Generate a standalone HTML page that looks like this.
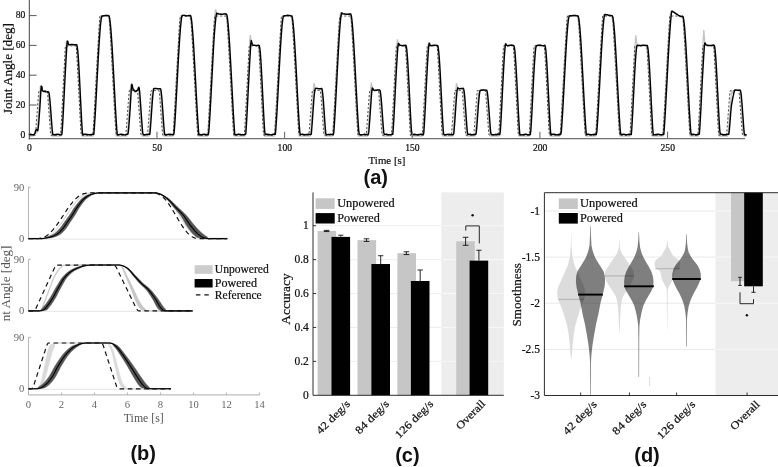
<!DOCTYPE html>
<html lang="en">
<head>
<meta charset="utf-8">
<title>Joint angle tracking: unpowered vs powered</title>
<style>
html,body{margin:0;padding:0;background:#fff;}
body{width:778px;height:467px;overflow:hidden;font-family:"Liberation Serif",serif;}
svg{display:block;will-change:transform;opacity:0.9999;}
svg text{white-space:pre;}
</style>
</head>
<body>
<svg width="778" height="467" viewBox="0 0 778 467">
<rect width="778" height="467" fill="#fff"/>
<g id="panel-a">
<path d="M29.3 135.99 L29.8 135.99 L30.3 135.99 L30.8 135.99 L31.3 135.99 L31.8 135.99 L32.3 135.98 L32.8 135.92 L33.3 135.71 L33.8 135.14 L34.3 134.02 L34.8 132.44 L35.3 129.86 L35.8 129.46 L36.3 131.53 L36.8 133.1 L37.3 128.26 L37.8 122.99 L38.3 116.62 L38.8 109.66 L39.3 101.93 L39.8 93.32 L40.3 86.64 L40.8 85.69 L41.3 88.85 L41.8 90.93 L42.3 91.5 L42.8 91.58 L43.3 91.59 L43.8 91.59 L44.3 91.59 L44.8 91.59 L45.3 91.59 L45.8 91.59 L46.3 91.59 L46.8 91.59 L47.3 91.59 L47.8 91.81 L48.3 94 L48.8 98.1 L49.3 103.61 L49.8 110.01 L50.3 116.83 L50.8 123.55 L51.3 129.71 L51.8 135.99 L52.3 135.99 L52.8 135.99 L53.3 135.99 L53.8 135.99 L54.3 135.99 L54.8 135.99 L55.3 135.99 L55.8 135.99 L56.3 135.99 L56.8 135.99 L57.3 135.99 L57.8 135.99 L58.3 135.99 L58.8 135.99 L59.3 135.99 L59.8 135.99 L60.3 135.99 L60.8 135.99 L61.3 132.53 L61.8 123.37 L62.3 114.31 L62.8 104.53 L63.3 94.39 L63.8 84.27 L64.3 74.51 L64.8 65.3 L65.3 56.39 L65.8 47.8 L66.3 41.74 L66.8 40.73 L67.3 42.94 L67.8 44.27 L68.3 44.61 L68.8 44.65 L69.3 44.65 L69.8 44.65 L70.3 44.65 L70.8 44.65 L71.3 44.65 L71.8 44.66 L72.3 44.66 L72.8 44.66 L73.3 44.66 L73.8 44.66 L74.3 44.66 L74.8 44.66 L75.3 44.66 L75.8 44.67 L76.3 46.31 L76.8 50.33 L77.3 56.32 L77.8 63.9 L78.3 72.67 L78.8 82.28 L79.3 92.36 L79.8 102.52 L80.3 112.4 L80.8 121.63 L81.3 129.85 L81.8 135.99 L82.3 135.99 L82.8 135.99 L83.3 135.99 L83.8 135.99 L84.3 135.99 L84.8 135.99 L85.3 135.99 L85.8 135.99 L86.3 135.99 L86.8 135.99 L87.3 135.99 L87.8 135.99 L88.3 135.99 L88.8 135.99 L89.3 135.99 L89.8 135.99 L90.3 135.99 L90.8 135.99 L91.3 135.99 L91.8 135.99 L92.3 135.99 L92.8 135.99 L93.3 129.62 L93.8 122.31 L94.3 114.24 L94.8 105.57 L95.3 96.47 L95.8 87.1 L96.3 77.65 L96.8 68.27 L97.3 59.14 L97.8 50.43 L98.3 42.3 L98.8 34.93 L99.3 28.49 L99.8 23.16 L100.3 19.11 L100.8 16.52 L101.3 15.6 L101.8 15.6 L102.3 15.6 L102.8 15.6 L103.3 15.6 L103.8 15.6 L104.3 15.6 L104.8 15.6 L105.3 15.6 L105.8 15.6 L106.3 15.6 L106.8 15.6 L107.3 15.6 L107.8 15.6 L108.3 16.2 L108.8 18.47 L109.3 22.24 L109.8 27.33 L110.3 33.56 L110.8 40.76 L111.3 48.75 L111.8 57.36 L112.3 66.42 L112.8 75.76 L113.3 85.22 L113.8 94.61 L114.3 103.78 L114.8 112.55 L115.3 120.75 L115.8 128.23 L116.3 135.99 L116.8 135.99 L117.3 135.99 L117.8 135.99 L118.3 135.99 L118.8 135.99 L119.3 135.99 L119.8 135.99 L120.3 135.99 L120.8 135.99 L121.3 135.99 L121.8 135.99 L122.3 135.99 L122.8 135.99 L123.3 135.99 L123.8 135.99 L124.3 135.99 L124.8 135.99 L125.3 135.99 L125.8 135.99 L126.3 135.99 L126.8 135.99 L127.3 135.05 L127.8 128.33 L128.3 121.8 L128.8 114.73 L129.3 107.32 L129.8 99.13 L130.3 90.38 L130.8 84.51 L131.3 84.69 L131.8 87.93 L132.3 89.64 L132.8 90.09 L133.3 90.35 L133.8 90.9 L134.3 91.62 L134.8 91.87 L135.3 91.35 L135.8 90.63 L136.3 90.21 L136.8 89.9 L137.3 89.06 L137.8 87.47 L138.3 87.84 L138.8 92.31 L139.3 99.07 L139.8 106.21 L140.3 113.34 L140.8 120.42 L141.3 127.09 L141.8 134.05 L142.3 135.99 L142.8 135.99 L143.3 135.99 L143.8 135.99 L144.3 135.99 L144.8 135.99 L145.3 135.99 L145.8 135.99 L146.3 135.99 L146.8 135.99 L147.3 135.99 L147.8 135.99 L148.3 135.99 L148.8 135.99 L149.3 131.75 L149.8 124.16 L150.3 117.05 L150.8 109.74 L151.3 102.76 L151.8 96.64 L152.3 91.91 L152.8 89.12 L153.3 88.61 L153.8 88.61 L154.3 88.61 L154.8 88.61 L155.3 88.61 L155.8 88.61 L156.3 88.61 L156.8 88.61 L157.3 88.61 L157.8 88.61 L158.3 88.61 L158.8 88.61 L159.3 88.61 L159.8 89.12 L160.3 91.91 L160.8 96.64 L161.3 102.76 L161.8 109.74 L162.3 117.05 L162.8 124.16 L163.3 131.75 L163.8 135.99 L164.3 135.99 L164.8 135.99 L165.3 135.99 L165.8 135.99 L166.3 135.99 L166.8 135.99 L167.3 135.99 L167.8 135.99 L168.3 135.99 L168.8 135.99 L169.3 135.99 L169.8 135.99 L170.3 135.99 L170.8 135.99 L171.3 135.99 L171.8 135.99 L172.3 135.99 L172.8 135.99 L173.3 133.48 L173.8 125.34 L174.3 117.55 L174.8 109.1 L175.3 100.15 L175.8 90.87 L176.3 81.43 L176.8 72 L177.3 62.75 L177.8 53.85 L178.3 45.47 L178.8 37.77 L179.3 30.94 L179.8 25.15 L180.3 20.56 L180.8 17.37 L181.3 15.75 L181.8 15.6 L182.3 15.6 L182.8 15.6 L183.3 15.6 L183.8 15.6 L184.3 15.6 L184.8 15.6 L185.3 15.6 L185.8 15.6 L186.3 15.6 L186.8 15.6 L187.3 15.6 L187.8 15.6 L188.3 15.6 L188.8 15.6 L189.3 15.6 L189.8 15.94 L190.3 17.89 L190.8 21.37 L191.3 26.21 L191.8 32.23 L192.3 39.25 L192.8 47.09 L193.3 55.59 L193.8 64.58 L194.3 73.88 L194.8 83.32 L195.3 92.74 L195.8 101.97 L196.3 110.83 L196.8 119.17 L197.3 126.8 L197.8 134.76 L198.3 135.99 L198.8 135.99 L199.3 135.99 L199.8 135.99 L200.3 135.99 L200.8 135.99 L201.3 135.99 L201.8 135.99 L202.3 135.99 L202.8 135.99 L203.3 135.99 L203.8 135.99 L204.3 135.99 L204.8 135.99 L205.3 135.99 L205.8 135.99 L206.3 135.99 L206.8 135.99 L207.3 135.99 L207.8 134.74 L208.3 126.7 L208.8 118.97 L209.3 110.53 L209.8 101.56 L210.3 92.21 L210.8 82.64 L211.3 72.93 L211.8 63.15 L212.3 53.46 L212.8 44.32 L213.3 36.31 L213.8 29.55 L214.3 23.27 L214.8 16.35 L215.3 10.54 L215.8 9.63 L216.3 12.17 L216.8 13.72 L217.3 14.07 L217.8 14.11 L218.3 14.11 L218.8 14.11 L219.3 14.11 L219.8 14.11 L220.3 14.11 L220.8 14.11 L221.3 14.11 L221.8 14.11 L222.3 14.11 L222.8 14.11 L223.3 14.11 L223.8 14.11 L224.3 14.11 L224.8 14.11 L225.3 14.11 L225.8 14.45 L226.3 16.42 L226.8 19.96 L227.3 24.86 L227.8 30.95 L228.3 38.05 L228.8 46 L229.3 54.6 L229.8 63.7 L230.3 73.12 L230.8 82.68 L231.3 92.22 L231.8 101.56 L232.3 110.53 L232.8 118.97 L233.3 126.7 L233.8 134.74 L234.3 135.99 L234.8 135.99 L235.3 135.99 L235.8 135.99 L236.3 135.99 L236.8 135.99 L237.3 135.99 L237.8 135.99 L238.3 135.99 L238.8 135.99 L239.3 135.99 L239.8 135.99 L240.3 135.99 L240.8 135.99 L241.3 135.99 L241.8 135.99 L242.3 135.99 L242.8 135.99 L243.3 135.99 L243.8 135.99 L244.3 135.99 L244.8 135.99 L245.3 128.36 L245.8 119.98 L246.3 110.66 L246.8 100.78 L247.3 90.69 L247.8 80.76 L248.3 71.23 L248.8 61.73 L249.3 50.73 L249.8 39.54 L250.3 35.31 L250.8 39.39 L251.3 43.72 L251.8 45.14 L252.3 45.38 L252.8 45.4 L253.3 45.4 L253.8 45.4 L254.3 45.4 L254.8 45.4 L255.3 45.4 L255.8 45.4 L256.3 45.4 L256.8 45.4 L257.3 45.4 L257.8 45.4 L258.3 45.53 L258.8 47.67 L259.3 52.08 L259.8 58.36 L260.3 66.14 L260.8 75.04 L261.3 84.69 L261.8 94.73 L262.3 104.78 L262.8 114.48 L263.3 123.46 L263.8 132.56 L264.3 135.99 L264.8 135.99 L265.3 135.99 L265.8 135.99 L266.3 135.99 L266.8 135.99 L267.3 135.99 L267.8 135.99 L268.3 135.99 L268.8 135.99 L269.3 135.99 L269.8 135.99 L270.3 135.99 L270.8 135.99 L271.3 135.99 L271.8 135.99 L272.3 135.99 L272.8 135.99 L273.3 135.99 L273.8 135.99 L274.3 135.99 L274.8 132.17 L275.3 123.84 L275.8 115.91 L276.3 107.34 L276.8 98.31 L277.3 88.99 L277.8 79.54 L278.3 70.13 L278.8 60.94 L279.3 52.13 L279.8 43.87 L280.3 36.33 L280.8 29.69 L281.3 24.13 L281.8 19.81 L282.3 16.91 L282.8 15.64 L283.3 15.6 L283.8 15.6 L284.3 15.6 L284.8 15.6 L285.3 15.6 L285.8 15.6 L286.3 15.6 L286.8 15.6 L287.3 15.6 L287.8 15.6 L288.3 15.6 L288.8 15.6 L289.3 15.6 L289.8 15.6 L290.3 15.6 L290.8 15.64 L291.3 16.91 L291.8 19.81 L292.3 24.13 L292.8 29.69 L293.3 36.33 L293.8 43.87 L294.3 52.13 L294.8 60.94 L295.3 70.13 L295.8 79.54 L296.3 88.99 L296.8 98.31 L297.3 107.34 L297.8 115.91 L298.3 123.84 L298.8 132.17 L299.3 135.99 L299.8 135.99 L300.3 135.99 L300.8 135.99 L301.3 135.99 L301.8 135.99 L302.3 135.99 L302.8 135.99 L303.3 135.99 L303.8 135.99 L304.3 135.99 L304.8 135.99 L305.3 135.99 L305.8 135.99 L306.3 135.99 L306.8 135.99 L307.3 135.99 L307.8 135.99 L308.3 135.99 L308.8 135.99 L309.3 135.99 L309.8 135.99 L310.3 135.99 L310.8 129.36 L311.3 122.78 L311.8 115.57 L312.3 108.08 L312.8 99.89 L313.3 90.53 L313.8 83.73 L314.3 83.8 L314.8 87.05 L315.3 88.39 L315.8 88.6 L316.3 88.61 L316.8 88.61 L317.3 88.61 L317.8 88.61 L318.3 88.61 L318.8 88.61 L319.3 88.61 L319.8 88.61 L320.3 88.61 L320.8 88.61 L321.3 89.97 L321.8 93.6 L322.3 98.96 L322.8 105.48 L323.3 112.65 L323.8 119.95 L324.3 126.83 L324.8 133.98 L325.3 135.99 L325.8 135.99 L326.3 135.99 L326.8 135.99 L327.3 135.99 L327.8 135.99 L328.3 135.99 L328.8 135.99 L329.3 135.99 L329.8 135.99 L330.3 135.99 L330.8 135.99 L331.3 135.99 L331.8 135.99 L332.3 135.99 L332.8 134.74 L333.3 126.7 L333.8 118.97 L334.3 110.53 L334.8 101.56 L335.3 92.22 L335.8 82.67 L336.3 73.07 L336.8 63.56 L337.3 54.25 L337.8 45.29 L338.3 36.93 L338.8 29.48 L339.3 23.14 L339.8 17.94 L340.3 14.22 L340.8 12.71 L341.3 13.26 L341.8 13.87 L342.3 14.07 L342.8 14.1 L343.3 14.11 L343.8 14.11 L344.3 14.11 L344.8 14.11 L345.3 14.11 L345.8 14.11 L346.3 14.11 L346.8 14.11 L347.3 14.11 L347.8 14.11 L348.3 14.11 L348.8 14.11 L349.3 14.11 L349.8 14.15 L350.3 15.44 L350.8 18.37 L351.3 22.74 L351.8 28.38 L352.3 35.1 L352.8 42.73 L353.3 51.09 L353.8 60.02 L354.3 69.32 L354.8 78.85 L355.3 88.42 L355.8 97.86 L356.3 107 L356.8 115.67 L357.3 123.7 L357.8 132.12 L358.3 135.99 L358.8 135.99 L359.3 135.99 L359.8 135.99 L360.3 135.99 L360.8 135.99 L361.3 135.99 L361.8 135.99 L362.3 135.99 L362.8 135.99 L363.3 135.99 L363.8 135.99 L364.3 135.99 L364.8 135.99 L365.3 135.99 L365.8 135.99 L366.3 135.99 L366.8 135.99 L367.3 135.99 L367.8 134.05 L368.3 127.09 L368.8 120.42 L369.3 113.3 L369.8 105.74 L370.3 96.82 L370.8 87.31 L371.3 82.87 L371.8 85.42 L372.3 88.8 L372.8 89.91 L373.3 90.08 L373.8 90.1 L374.3 90.1 L374.8 90.1 L375.3 90.1 L375.8 90.1 L376.3 90.1 L376.8 90.1 L377.3 90.1 L377.8 90.1 L378.3 90.1 L378.8 90.1 L379.3 90.96 L379.8 94.08 L380.3 98.97 L380.8 105.1 L381.3 111.95 L381.8 119.03 L382.3 125.81 L382.8 132.99 L383.3 135.99 L383.8 135.99 L384.3 135.99 L384.8 135.99 L385.3 135.99 L385.8 135.99 L386.3 135.99 L386.8 135.99 L387.3 135.99 L387.8 135.99 L388.3 135.99 L388.8 135.99 L389.3 135.99 L389.8 135.99 L390.3 135.99 L390.8 135.99 L391.3 135.99 L391.8 135.99 L392.3 129.89 L392.8 121.74 L393.3 112.58 L393.8 102.78 L394.3 92.71 L394.8 82.72 L395.3 73.14 L395.8 64 L396.3 54.55 L396.8 45.02 L397.3 39.76 L397.8 41.05 L398.3 44.07 L398.8 45.18 L399.3 45.38 L399.8 45.4 L400.3 45.4 L400.8 45.4 L401.3 45.4 L401.8 45.4 L402.3 45.4 L402.8 45.4 L403.3 45.4 L403.8 45.4 L404.3 45.4 L404.8 45.4 L405.3 46.09 L405.8 49.18 L406.3 54.39 L406.8 61.31 L407.3 69.59 L407.8 78.83 L408.3 88.68 L408.8 98.76 L409.3 108.72 L409.8 118.18 L410.3 126.77 L410.8 135.34 L411.3 135.99 L411.8 135.99 L412.3 135.99 L412.8 135.99 L413.3 135.99 L413.8 135.99 L414.3 135.99 L414.8 135.99 L415.3 135.99 L415.8 135.99 L416.3 135.99 L416.8 135.99 L417.3 135.99 L417.8 135.99 L418.3 135.99 L418.8 135.99 L419.3 135.99 L419.8 135.99 L420.3 135.99 L420.8 135.99 L421.3 135.99 L421.8 135.99 L422.3 135.99 L422.8 135.34 L423.3 126.77 L423.8 118.18 L424.3 108.72 L424.8 98.76 L425.3 88.68 L425.8 78.83 L426.3 69.52 L426.8 60.88 L427.3 52.9 L427.8 46.42 L428.3 43.33 L428.8 43.91 L429.3 44.97 L429.8 45.33 L430.3 45.39 L430.8 45.4 L431.3 45.4 L431.8 45.4 L432.3 45.4 L432.8 45.4 L433.3 45.4 L433.8 45.4 L434.3 45.4 L434.8 45.4 L435.3 45.4 L435.8 45.4 L436.3 45.4 L436.8 45.42 L437.3 47.05 L437.8 51.03 L438.3 56.97 L438.8 64.48 L439.3 73.19 L439.8 82.72 L440.3 92.71 L440.8 102.78 L441.3 112.58 L441.8 121.74 L442.3 129.89 L442.8 135.99 L443.3 135.99 L443.8 135.99 L444.3 135.99 L444.8 135.99 L445.3 135.99 L445.8 135.99 L446.3 135.99 L446.8 135.99 L447.3 135.99 L447.8 135.99 L448.3 135.99 L448.8 135.99 L449.3 135.99 L449.8 135.99 L450.3 135.99 L450.8 135.99 L451.3 135.99 L451.8 135.99 L452.3 135.99 L452.8 135.99 L453.3 129.36 L453.8 122.78 L454.3 115.57 L454.8 108.06 L455.3 99.87 L455.8 90.58 L456.3 83.75 L456.8 83.59 L457.3 86.81 L457.8 88.3 L458.3 88.58 L458.8 88.61 L459.3 88.61 L459.8 88.61 L460.3 88.61 L460.8 88.61 L461.3 88.61 L461.8 88.61 L462.3 88.61 L462.8 89.12 L463.3 91.91 L463.8 96.64 L464.3 102.76 L464.8 109.74 L465.3 117.05 L465.8 124.16 L466.3 131.75 L466.8 135.99 L467.3 135.99 L467.8 135.99 L468.3 135.99 L468.8 135.99 L469.3 135.99 L469.8 135.99 L470.3 135.99 L470.8 135.99 L471.3 135.99 L471.8 135.99 L472.3 135.99 L472.8 135.99 L473.3 135.99 L473.8 135.99 L474.3 135.99 L474.8 135.99 L475.3 135.05 L475.8 128.33 L476.3 121.81 L476.8 114.79 L477.3 107.78 L477.8 101.3 L478.3 95.85 L478.8 91.96 L479.3 90.16 L479.8 90.1 L480.3 90.1 L480.8 90.1 L481.3 90.1 L481.8 90.1 L482.3 90.1 L482.8 90.1 L483.3 90.1 L483.8 90.1 L484.3 90.1 L484.8 90.1 L485.3 90.1 L485.8 90.1 L486.3 91.42 L486.8 94.93 L487.3 100.11 L487.8 106.43 L488.3 113.37 L488.8 120.42 L489.3 127.09 L489.8 134.05 L490.3 135.99 L490.8 135.99 L491.3 135.99 L491.8 135.99 L492.3 135.99 L492.8 135.99 L493.3 135.99 L493.8 135.99 L494.3 135.99 L494.8 135.99 L495.3 135.99 L495.8 135.99 L496.3 135.99 L496.8 135.99 L497.3 135.99 L497.8 135.99 L498.3 135.99 L498.8 135.99 L499.3 133.98 L499.8 125.14 L500.3 116.34 L500.8 106.76 L501.3 96.75 L501.8 86.68 L502.3 76.91 L502.8 67.76 L503.3 59.37 L503.8 51.87 L504.3 46.21 L504.8 43.84 L505.3 44.48 L505.8 45.16 L506.3 45.37 L506.8 45.4 L507.3 45.4 L507.8 45.4 L508.3 45.4 L508.8 45.4 L509.3 45.4 L509.8 45.4 L510.3 45.4 L510.8 45.4 L511.3 45.4 L511.8 45.4 L512.3 45.4 L512.8 45.4 L513.3 46.09 L513.8 49.18 L514.3 54.39 L514.8 61.31 L515.3 69.59 L515.8 78.83 L516.3 88.68 L516.8 98.76 L517.3 108.72 L517.8 118.18 L518.3 126.77 L518.8 135.34 L519.3 135.99 L519.8 135.99 L520.3 135.99 L520.8 135.99 L521.3 135.99 L521.8 135.99 L522.3 135.99 L522.8 135.99 L523.3 135.99 L523.8 135.99 L524.3 135.99 L524.8 135.99 L525.3 135.99 L525.8 135.99 L526.3 135.99 L526.8 135.99 L527.3 135.99 L527.8 135.99 L528.3 135.99 L528.8 135.99 L529.3 135.99 L529.8 133.98 L530.3 125.14 L530.8 116.34 L531.3 106.76 L531.8 96.75 L532.3 86.68 L532.8 76.92 L533.3 67.84 L533.8 59.81 L534.3 53.19 L534.8 48.38 L535.3 45.76 L535.8 45.4 L536.3 45.4 L536.8 45.4 L537.3 45.4 L537.8 45.4 L538.3 45.4 L538.8 45.4 L539.3 45.4 L539.8 45.4 L540.3 45.4 L540.8 45.4 L541.3 45.4 L541.8 45.4 L542.3 45.4 L542.8 45.4 L543.3 45.4 L543.8 45.4 L544.3 46.09 L544.8 49.18 L545.3 54.39 L545.8 61.31 L546.3 69.59 L546.8 78.83 L547.3 88.68 L547.8 98.76 L548.3 108.72 L548.8 118.18 L549.3 126.77 L549.8 135.34 L550.3 135.99 L550.8 135.99 L551.3 135.99 L551.8 135.99 L552.3 135.99 L552.8 135.99 L553.3 135.99 L553.8 135.99 L554.3 135.99 L554.8 135.99 L555.3 135.99 L555.8 135.99 L556.3 135.99 L556.8 135.99 L557.3 135.99 L557.8 135.99 L558.3 135.99 L558.8 135.99 L559.3 135.99 L559.8 135.99 L560.3 134.76 L560.8 126.8 L561.3 119.17 L561.8 110.83 L562.3 101.97 L562.8 92.74 L563.3 83.32 L563.8 73.88 L564.3 64.58 L564.8 55.59 L565.3 47.09 L565.8 39.25 L566.3 32.23 L566.8 26.21 L567.3 21.37 L567.8 17.89 L568.3 15.94 L568.8 15.6 L569.3 15.6 L569.8 15.6 L570.3 15.6 L570.8 15.6 L571.3 15.6 L571.8 15.6 L572.3 15.6 L572.8 15.6 L573.3 15.6 L573.8 15.6 L574.3 15.6 L574.8 15.6 L575.3 15.6 L575.8 15.6 L576.3 15.6 L576.8 15.6 L577.3 15.94 L577.8 17.89 L578.3 21.37 L578.8 26.21 L579.3 32.23 L579.8 39.25 L580.3 47.09 L580.8 55.59 L581.3 64.58 L581.8 73.88 L582.3 83.32 L582.8 92.74 L583.3 101.97 L583.8 110.83 L584.3 119.17 L584.8 126.8 L585.3 134.76 L585.8 135.99 L586.3 135.99 L586.8 135.99 L587.3 135.99 L587.8 135.99 L588.3 135.99 L588.8 135.99 L589.3 135.99 L589.8 135.99 L590.3 135.99 L590.8 135.99 L591.3 135.99 L591.8 135.99 L592.3 135.99 L592.8 135.99 L593.3 135.99 L593.8 135.99 L594.3 135.99 L594.8 135.99 L595.3 135.99 L595.8 134.76 L596.3 126.8 L596.8 119.17 L597.3 110.83 L597.8 101.97 L598.3 92.74 L598.8 83.32 L599.3 73.88 L599.8 64.58 L600.3 55.59 L600.8 47.08 L601.3 39.21 L601.8 32.13 L602.3 25.92 L602.8 20.65 L603.3 16.65 L603.8 14.49 L604.3 14.25 L604.8 14.34 L605.3 14.41 L605.8 14.54 L606.3 14.77 L606.8 15.02 L607.3 15.24 L607.8 15.41 L608.3 15.51 L608.8 15.56 L609.3 15.59 L609.8 15.6 L610.3 15.6 L610.8 15.6 L611.3 15.6 L611.8 16.52 L612.3 19.11 L612.8 23.16 L613.3 28.49 L613.8 34.93 L614.3 42.3 L614.8 50.43 L615.3 59.14 L615.8 68.27 L616.3 77.65 L616.8 87.1 L617.3 96.47 L617.8 105.57 L618.3 114.24 L618.8 122.31 L619.3 129.62 L619.8 135.99 L620.3 135.99 L620.8 135.99 L621.3 135.99 L621.8 135.99 L622.3 135.99 L622.8 135.99 L623.3 135.99 L623.8 135.99 L624.3 135.99 L624.8 135.99 L625.3 135.99 L625.8 135.99 L626.3 135.99 L626.8 135.99 L627.3 135.99 L627.8 135.99 L628.3 135.99 L628.8 135.99 L629.3 135.99 L629.8 135.99 L630.3 135.99 L630.8 129.89 L631.3 121.74 L631.8 112.58 L632.3 102.78 L632.8 92.71 L633.3 82.72 L633.8 73.13 L634.3 63.79 L634.8 53.12 L635.3 41.19 L635.8 35.54 L636.3 39.26 L636.8 43.89 L637.3 45.23 L637.8 45.39 L638.3 45.4 L638.8 45.4 L639.3 45.4 L639.8 45.4 L640.3 45.4 L640.8 45.4 L641.3 45.4 L641.8 45.4 L642.3 45.4 L642.8 45.4 L643.3 45.4 L643.8 45.4 L644.3 45.4 L644.8 45.4 L645.3 45.4 L645.8 45.4 L646.3 45.4 L646.8 46.52 L647.3 50.07 L647.8 55.65 L648.3 62.87 L648.8 71.37 L649.3 80.76 L649.8 90.69 L650.3 100.78 L650.8 110.66 L651.3 119.98 L651.8 128.36 L652.3 135.99 L652.8 135.99 L653.3 135.99 L653.8 135.99 L654.3 135.99 L654.8 135.99 L655.3 135.99 L655.8 135.99 L656.3 135.99 L656.8 135.99 L657.3 135.99 L657.8 135.99 L658.3 135.99 L658.8 135.99 L659.3 135.99 L659.8 135.99 L660.3 135.99 L660.8 135.99 L661.3 135.99 L661.8 135.99 L662.3 135.99 L662.8 135.99 L663.3 129.55 L663.8 122.16 L664.3 113.98 L664.8 105.2 L665.3 95.99 L665.8 86.51 L666.3 76.93 L666.8 67.43 L667.3 58.18 L667.8 49.33 L668.3 41.06 L668.8 33.48 L669.3 26.65 L669.8 20.4 L670.3 14.99 L670.8 11.65 L671.3 11.12 L671.8 11.74 L672.3 11.96 L672.8 12.04 L673.3 12.21 L673.8 12.51 L674.3 12.9 L674.8 13.31 L675.3 13.71 L675.8 14.06 L676.3 14.4 L676.8 14.72 L677.3 15.06 L677.8 15.42 L678.3 15.77 L678.8 16.08 L679.3 16.33 L679.8 16.47 L680.3 16.48 L680.8 16.37 L681.3 16.14 L681.8 15.88 L682.3 16.83 L682.8 19.43 L683.3 23.51 L683.8 28.9 L684.3 35.44 L684.8 42.94 L685.3 51.21 L685.8 60.08 L686.3 69.36 L686.8 78.87 L687.3 88.42 L687.8 97.86 L688.3 107 L688.8 115.67 L689.3 123.7 L689.8 132.12 L690.3 135.99 L690.8 135.99 L691.3 135.99 L691.8 135.99 L692.3 135.99 L692.8 135.99 L693.3 135.99 L693.8 135.99 L694.3 135.99 L694.8 135.99 L695.3 135.99 L695.8 135.99 L696.3 135.99 L696.8 135.99 L697.3 135.99 L697.8 135.99 L698.3 135.99 L698.8 129.89 L699.3 121.74 L699.8 112.58 L700.3 102.78 L700.8 92.71 L701.3 82.71 L701.8 73.09 L702.3 63.43 L702.8 51.41 L703.3 37.06 L703.8 30.39 L704.3 35.92 L704.8 42.75 L705.3 45.02 L705.8 45.37 L706.3 45.4 L706.8 45.4 L707.3 45.4 L707.8 45.4 L708.3 45.4 L708.8 45.4 L709.3 45.4 L709.8 45.4 L710.3 45.4 L710.8 45.4 L711.3 45.4 L711.8 45.4 L712.3 45.4 L712.8 45.4 L713.3 45.42 L713.8 47.05 L714.3 51.03 L714.8 56.97 L715.3 64.48 L715.8 73.19 L716.3 82.72 L716.8 92.71 L717.3 102.78 L717.8 112.58 L718.3 121.74 L718.8 129.89 L719.3 135.99 L719.8 135.99 L720.3 135.99 L720.8 135.99 L721.3 135.99 L721.8 135.99 L722.3 135.99 L722.8 135.99 L723.3 135.99 L723.8 135.99 L724.3 135.99 L724.8 135.99 L725.3 135.99 L725.8 135.99 L726.3 135.99 L726.8 135.99 L727.3 135.99 L727.8 135.99 L728.3 133 L728.8 125.86 L729.3 119.27 L729.8 112.74 L730.3 106.49 L730.8 99.42 L731.3 92.46 L731.8 90.6 L732.3 92.83 L732.8 93.1 L733.3 91.68 L733.8 90.65 L734.3 90.24 L734.8 90.13 L735.3 90.1 L735.8 90.1 L736.3 90.1 L736.8 90.1 L737.3 90.1 L737.8 90.1 L738.3 90.1 L738.8 90.1 L739.3 90.1 L739.8 91.42 L740.3 94.93 L740.8 100.11 L741.3 106.43 L741.8 113.37 L742.3 120.42 L742.8 127.09 L743.3 134.05 L743.8 135.99 L744.3 135.99 L744.8 135.99 L745.3 135.99 L745.8 135.99 L746.3 135.99" fill="none" stroke="#c4c4c4" stroke-width="1.3" stroke-linejoin="round"/>
<path d="M29.3 135.25 L29.8 135.25 L30.3 135.25 L30.8 135.25 L31.3 135.25 L31.8 135.25 L32.3 135.25 L32.8 135.25 L33.3 135.25 L33.8 135.25 L34.3 135.25 L34.8 135.25 L35.3 135.25 L35.8 130.19 L36.3 123.54 L36.8 116.89 L37.3 110.24 L37.8 103.58 L38.3 96.93 L38.8 90.55 L39.3 90.55 L39.8 90.55 L40.3 90.55 L40.8 90.55 L41.3 90.55 L41.8 90.55 L42.3 90.55 L42.8 90.55 L43.3 90.55 L43.8 90.55 L44.3 90.55 L44.8 90.55 L45.3 90.55 L45.8 90.55 L46.3 90.55 L46.8 90.55 L47.3 90.55 L47.8 96.93 L48.3 103.58 L48.8 110.24 L49.3 116.89 L49.8 123.54 L50.3 130.19 L50.8 135.25 L51.3 135.25 L51.8 135.25 L52.3 135.25 L52.8 135.25 L53.3 135.25 L53.8 135.25 L54.3 135.25 L54.8 135.25 L55.3 135.25 L55.8 135.25 L56.3 135.25 L56.8 135.25 L57.3 135.25 L57.8 135.25 L58.3 135.25 L58.8 135.25 L59.3 135.25 L59.8 135.25 L60.3 135.25 L60.8 132.22 L61.3 122.75 L61.8 113.28 L62.3 103.81 L62.8 94.34 L63.3 84.86 L63.8 75.39 L64.3 65.92 L64.8 56.45 L65.3 46.98 L65.8 45.85 L66.3 45.85 L66.8 45.85 L67.3 45.85 L67.8 45.85 L68.3 45.85 L68.8 45.85 L69.3 45.85 L69.8 45.85 L70.3 45.85 L70.8 45.85 L71.3 45.85 L71.8 45.85 L72.3 45.85 L72.8 45.85 L73.3 45.85 L73.8 45.85 L74.3 45.85 L74.8 45.85 L75.3 45.85 L75.8 45.85 L76.3 45.85 L76.8 54.56 L77.3 64.03 L77.8 73.5 L78.3 82.97 L78.8 92.44 L79.3 101.91 L79.8 111.38 L80.3 120.85 L80.8 130.32 L81.3 135.25 L81.8 135.25 L82.3 135.25 L82.8 135.25 L83.3 135.25 L83.8 135.25 L84.3 135.25 L84.8 135.25 L85.3 135.25 L85.8 135.25 L86.3 135.25 L86.8 135.25 L87.3 135.25 L87.8 135.25 L88.3 135.25 L88.8 135.25 L89.3 135.25 L89.8 135.25 L90.3 135.25 L90.8 135.25 L91.3 135.25 L91.8 135.25 L92.3 135.25 L92.8 135.25 L93.3 130.64 L93.8 121.77 L94.3 112.9 L94.8 104.03 L95.3 95.16 L95.8 86.29 L96.3 77.42 L96.8 68.55 L97.3 59.68 L97.8 50.81 L98.3 41.94 L98.8 33.08 L99.3 24.21 L99.8 16.05 L100.3 16.05 L100.8 16.05 L101.3 16.05 L101.8 16.05 L102.3 16.05 L102.8 16.05 L103.3 16.05 L103.8 16.05 L104.3 16.05 L104.8 16.05 L105.3 16.05 L105.8 16.05 L106.3 16.05 L106.8 16.05 L107.3 16.05 L107.8 16.05 L108.3 16.05 L108.8 16.05 L109.3 16.05 L109.8 24.21 L110.3 33.08 L110.8 41.94 L111.3 50.81 L111.8 59.68 L112.3 68.55 L112.8 77.42 L113.3 86.29 L113.8 95.16 L114.3 104.03 L114.8 112.9 L115.3 121.77 L115.8 130.64 L116.3 135.25 L116.8 135.25 L117.3 135.25 L117.8 135.25 L118.3 135.25 L118.8 135.25 L119.3 135.25 L119.8 135.25 L120.3 135.25 L120.8 135.25 L121.3 135.25 L121.8 135.25 L122.3 135.25 L122.8 135.25 L123.3 135.25 L123.8 135.25 L124.3 135.25 L124.8 135.25 L125.3 135.25 L125.8 135.25 L126.3 128.86 L126.8 122.21 L127.3 115.56 L127.8 108.91 L128.3 102.25 L128.8 95.6 L129.3 90.55 L129.8 90.55 L130.3 90.55 L130.8 90.55 L131.3 90.55 L131.8 90.55 L132.3 90.55 L132.8 90.55 L133.3 90.55 L133.8 90.55 L134.3 90.55 L134.8 90.55 L135.3 90.55 L135.8 90.55 L136.3 90.55 L136.8 90.55 L137.3 90.55 L137.8 94.27 L138.3 100.92 L138.8 107.58 L139.3 114.23 L139.8 120.88 L140.3 127.53 L140.8 134.18 L141.3 135.25 L141.8 135.25 L142.3 135.25 L142.8 135.25 L143.3 135.25 L143.8 135.25 L144.3 135.25 L144.8 135.25 L145.3 135.25 L145.8 135.25 L146.3 135.25 L146.8 135.25 L147.3 135.25 L147.8 131.52 L148.3 124.87 L148.8 118.22 L149.3 111.57 L149.8 104.91 L150.3 98.26 L150.8 91.61 L151.3 90.55 L151.8 90.55 L152.3 90.55 L152.8 90.55 L153.3 90.55 L153.8 90.55 L154.3 90.55 L154.8 90.55 L155.3 90.55 L155.8 90.55 L156.3 90.55 L156.8 90.55 L157.3 90.55 L157.8 90.55 L158.3 90.55 L158.8 90.55 L159.3 91.61 L159.8 98.26 L160.3 104.91 L160.8 111.57 L161.3 118.22 L161.8 124.87 L162.3 131.52 L162.8 135.25 L163.3 135.25 L163.8 135.25 L164.3 135.25 L164.8 135.25 L165.3 135.25 L165.8 135.25 L166.3 135.25 L166.8 135.25 L167.3 135.25 L167.8 135.25 L168.3 135.25 L168.8 135.25 L169.3 135.25 L169.8 135.25 L170.3 135.25 L170.8 135.25 L171.3 135.25 L171.8 135.25 L172.3 135.25 L172.8 135.25 L173.3 134.18 L173.8 125.31 L174.3 116.44 L174.8 107.58 L175.3 98.71 L175.8 89.84 L176.3 80.97 L176.8 72.1 L177.3 63.23 L177.8 54.36 L178.3 45.49 L178.8 36.62 L179.3 27.75 L179.8 18.89 L180.3 16.05 L180.8 16.05 L181.3 16.05 L181.8 16.05 L182.3 16.05 L182.8 16.05 L183.3 16.05 L183.8 16.05 L184.3 16.05 L184.8 16.05 L185.3 16.05 L185.8 16.05 L186.3 16.05 L186.8 16.05 L187.3 16.05 L187.8 16.05 L188.3 16.05 L188.8 16.05 L189.3 16.05 L189.8 16.05 L190.3 16.05 L190.8 16.05 L191.3 22.43 L191.8 31.3 L192.3 40.17 L192.8 49.04 L193.3 57.91 L193.8 66.78 L194.3 75.65 L194.8 84.52 L195.3 93.39 L195.8 102.25 L196.3 111.12 L196.8 119.99 L197.3 128.86 L197.8 135.25 L198.3 135.25 L198.8 135.25 L199.3 135.25 L199.8 135.25 L200.3 135.25 L200.8 135.25 L201.3 135.25 L201.8 135.25 L202.3 135.25 L202.8 135.25 L203.3 135.25 L203.8 135.25 L204.3 135.25 L204.8 135.25 L205.3 135.25 L205.8 135.25 L206.3 135.25 L206.8 135.25 L207.3 135.25 L207.8 135.25 L208.3 127.09 L208.8 118.22 L209.3 109.35 L209.8 100.48 L210.3 91.61 L210.8 82.74 L211.3 73.87 L211.8 65 L212.3 56.14 L212.8 47.27 L213.3 38.4 L213.8 29.53 L214.3 20.66 L214.8 16.05 L215.3 16.05 L215.8 16.05 L216.3 16.05 L216.8 16.05 L217.3 16.05 L217.8 16.05 L218.3 16.05 L218.8 16.05 L219.3 16.05 L219.8 16.05 L220.3 16.05 L220.8 16.05 L221.3 16.05 L221.8 16.05 L222.3 16.05 L222.8 16.05 L223.3 16.05 L223.8 16.05 L224.3 16.05 L224.8 16.05 L225.3 16.05 L225.8 16.05 L226.3 16.05 L226.8 16.05 L227.3 22.43 L227.8 31.3 L228.3 40.17 L228.8 49.04 L229.3 57.91 L229.8 66.78 L230.3 75.65 L230.8 84.52 L231.3 93.39 L231.8 102.25 L232.3 111.12 L232.8 119.99 L233.3 128.86 L233.8 135.25 L234.3 135.25 L234.8 135.25 L235.3 135.25 L235.8 135.25 L236.3 135.25 L236.8 135.25 L237.3 135.25 L237.8 135.25 L238.3 135.25 L238.8 135.25 L239.3 135.25 L239.8 135.25 L240.3 135.25 L240.8 135.25 L241.3 135.25 L241.8 135.25 L242.3 135.25 L242.8 135.25 L243.3 135.25 L243.8 135.25 L244.3 135.25 L244.8 128.43 L245.3 118.96 L245.8 109.49 L246.3 100.02 L246.8 90.55 L247.3 81.08 L247.8 71.61 L248.3 62.14 L248.8 52.67 L249.3 45.85 L249.8 45.85 L250.3 45.85 L250.8 45.85 L251.3 45.85 L251.8 45.85 L252.3 45.85 L252.8 45.85 L253.3 45.85 L253.8 45.85 L254.3 45.85 L254.8 45.85 L255.3 45.85 L255.8 45.85 L256.3 45.85 L256.8 45.85 L257.3 45.85 L257.8 45.85 L258.3 45.85 L258.8 46.98 L259.3 56.45 L259.8 65.92 L260.3 75.39 L260.8 84.86 L261.3 94.34 L261.8 103.81 L262.3 113.28 L262.8 122.75 L263.3 132.22 L263.8 135.25 L264.3 135.25 L264.8 135.25 L265.3 135.25 L265.8 135.25 L266.3 135.25 L266.8 135.25 L267.3 135.25 L267.8 135.25 L268.3 135.25 L268.8 135.25 L269.3 135.25 L269.8 135.25 L270.3 135.25 L270.8 135.25 L271.3 135.25 L271.8 135.25 L272.3 135.25 L272.8 135.25 L273.3 135.25 L273.8 135.25 L274.3 135.25 L274.8 132.41 L275.3 123.54 L275.8 114.67 L276.3 105.8 L276.8 96.93 L277.3 88.06 L277.8 79.19 L278.3 70.33 L278.8 61.46 L279.3 52.59 L279.8 43.72 L280.3 34.85 L280.8 25.98 L281.3 17.11 L281.8 16.05 L282.3 16.05 L282.8 16.05 L283.3 16.05 L283.8 16.05 L284.3 16.05 L284.8 16.05 L285.3 16.05 L285.8 16.05 L286.3 16.05 L286.8 16.05 L287.3 16.05 L287.8 16.05 L288.3 16.05 L288.8 16.05 L289.3 16.05 L289.8 16.05 L290.3 16.05 L290.8 16.05 L291.3 16.05 L291.8 16.05 L292.3 18.89 L292.8 27.75 L293.3 36.62 L293.8 45.49 L294.3 54.36 L294.8 63.23 L295.3 72.1 L295.8 80.97 L296.3 89.84 L296.8 98.71 L297.3 107.58 L297.8 116.44 L298.3 125.31 L298.8 134.18 L299.3 135.25 L299.8 135.25 L300.3 135.25 L300.8 135.25 L301.3 135.25 L301.8 135.25 L302.3 135.25 L302.8 135.25 L303.3 135.25 L303.8 135.25 L304.3 135.25 L304.8 135.25 L305.3 135.25 L305.8 135.25 L306.3 135.25 L306.8 135.25 L307.3 135.25 L307.8 135.25 L308.3 135.25 L308.8 135.25 L309.3 130.19 L309.8 123.54 L310.3 116.89 L310.8 110.24 L311.3 103.58 L311.8 96.93 L312.3 90.55 L312.8 90.55 L313.3 90.55 L313.8 90.55 L314.3 90.55 L314.8 90.55 L315.3 90.55 L315.8 90.55 L316.3 90.55 L316.8 90.55 L317.3 90.55 L317.8 90.55 L318.3 90.55 L318.8 90.55 L319.3 90.55 L319.8 90.55 L320.3 90.55 L320.8 94.27 L321.3 100.92 L321.8 107.58 L322.3 114.23 L322.8 120.88 L323.3 127.53 L323.8 134.18 L324.3 135.25 L324.8 135.25 L325.3 135.25 L325.8 135.25 L326.3 135.25 L326.8 135.25 L327.3 135.25 L327.8 135.25 L328.3 135.25 L328.8 135.25 L329.3 135.25 L329.8 135.25 L330.3 135.25 L330.8 135.25 L331.3 135.25 L331.8 135.25 L332.3 135.25 L332.8 135.25 L333.3 127.09 L333.8 118.22 L334.3 109.35 L334.8 100.48 L335.3 91.61 L335.8 82.74 L336.3 73.87 L336.8 65 L337.3 56.14 L337.8 47.27 L338.3 38.4 L338.8 29.53 L339.3 20.66 L339.8 16.05 L340.3 16.05 L340.8 16.05 L341.3 16.05 L341.8 16.05 L342.3 16.05 L342.8 16.05 L343.3 16.05 L343.8 16.05 L344.3 16.05 L344.8 16.05 L345.3 16.05 L345.8 16.05 L346.3 16.05 L346.8 16.05 L347.3 16.05 L347.8 16.05 L348.3 16.05 L348.8 16.05 L349.3 16.05 L349.8 16.05 L350.3 16.05 L350.8 16.05 L351.3 18.89 L351.8 27.75 L352.3 36.62 L352.8 45.49 L353.3 54.36 L353.8 63.23 L354.3 72.1 L354.8 80.97 L355.3 89.84 L355.8 98.71 L356.3 107.58 L356.8 116.44 L357.3 125.31 L357.8 134.18 L358.3 135.25 L358.8 135.25 L359.3 135.25 L359.8 135.25 L360.3 135.25 L360.8 135.25 L361.3 135.25 L361.8 135.25 L362.3 135.25 L362.8 135.25 L363.3 135.25 L363.8 135.25 L364.3 135.25 L364.8 135.25 L365.3 135.25 L365.8 135.25 L366.3 134.18 L366.8 127.53 L367.3 120.88 L367.8 114.23 L368.3 107.58 L368.8 100.92 L369.3 94.27 L369.8 90.55 L370.3 90.55 L370.8 90.55 L371.3 90.55 L371.8 90.55 L372.3 90.55 L372.8 90.55 L373.3 90.55 L373.8 90.55 L374.3 90.55 L374.8 90.55 L375.3 90.55 L375.8 90.55 L376.3 90.55 L376.8 90.55 L377.3 90.55 L377.8 90.55 L378.3 90.55 L378.8 92.94 L379.3 99.59 L379.8 106.25 L380.3 112.9 L380.8 119.55 L381.3 126.2 L381.8 132.85 L382.3 135.25 L382.8 135.25 L383.3 135.25 L383.8 135.25 L384.3 135.25 L384.8 135.25 L385.3 135.25 L385.8 135.25 L386.3 135.25 L386.8 135.25 L387.3 135.25 L387.8 135.25 L388.3 135.25 L388.8 135.25 L389.3 135.25 L389.8 135.25 L390.3 135.25 L390.8 135.25 L391.3 135.25 L391.8 130.32 L392.3 120.85 L392.8 111.38 L393.3 101.91 L393.8 92.44 L394.3 82.97 L394.8 73.5 L395.3 64.03 L395.8 54.56 L396.3 45.85 L396.8 45.85 L397.3 45.85 L397.8 45.85 L398.3 45.85 L398.8 45.85 L399.3 45.85 L399.8 45.85 L400.3 45.85 L400.8 45.85 L401.3 45.85 L401.8 45.85 L402.3 45.85 L402.8 45.85 L403.3 45.85 L403.8 45.85 L404.3 45.85 L404.8 45.85 L405.3 45.85 L405.8 50.77 L406.3 60.24 L406.8 69.71 L407.3 79.18 L407.8 88.65 L408.3 98.12 L408.8 107.59 L409.3 117.06 L409.8 126.53 L410.3 135.25 L410.8 135.25 L411.3 135.25 L411.8 135.25 L412.3 135.25 L412.8 135.25 L413.3 135.25 L413.8 135.25 L414.3 135.25 L414.8 135.25 L415.3 135.25 L415.8 135.25 L416.3 135.25 L416.8 135.25 L417.3 135.25 L417.8 135.25 L418.3 135.25 L418.8 135.25 L419.3 135.25 L419.8 135.25 L420.3 135.25 L420.8 135.25 L421.3 135.25 L421.8 135.25 L422.3 135.25 L422.8 126.53 L423.3 117.06 L423.8 107.59 L424.3 98.12 L424.8 88.65 L425.3 79.18 L425.8 69.71 L426.3 60.24 L426.8 50.77 L427.3 45.85 L427.8 45.85 L428.3 45.85 L428.8 45.85 L429.3 45.85 L429.8 45.85 L430.3 45.85 L430.8 45.85 L431.3 45.85 L431.8 45.85 L432.3 45.85 L432.8 45.85 L433.3 45.85 L433.8 45.85 L434.3 45.85 L434.8 45.85 L435.3 45.85 L435.8 45.85 L436.3 45.85 L436.8 45.85 L437.3 45.85 L437.8 54.56 L438.3 64.03 L438.8 73.5 L439.3 82.97 L439.8 92.44 L440.3 101.91 L440.8 111.38 L441.3 120.85 L441.8 130.32 L442.3 135.25 L442.8 135.25 L443.3 135.25 L443.8 135.25 L444.3 135.25 L444.8 135.25 L445.3 135.25 L445.8 135.25 L446.3 135.25 L446.8 135.25 L447.3 135.25 L447.8 135.25 L448.3 135.25 L448.8 135.25 L449.3 135.25 L449.8 135.25 L450.3 135.25 L450.8 135.25 L451.3 135.25 L451.8 130.19 L452.3 123.54 L452.8 116.89 L453.3 110.24 L453.8 103.58 L454.3 96.93 L454.8 90.55 L455.3 90.55 L455.8 90.55 L456.3 90.55 L456.8 90.55 L457.3 90.55 L457.8 90.55 L458.3 90.55 L458.8 90.55 L459.3 90.55 L459.8 90.55 L460.3 90.55 L460.8 90.55 L461.3 90.55 L461.8 90.55 L462.3 91.61 L462.8 98.26 L463.3 104.91 L463.8 111.57 L464.3 118.22 L464.8 124.87 L465.3 131.52 L465.8 135.25 L466.3 135.25 L466.8 135.25 L467.3 135.25 L467.8 135.25 L468.3 135.25 L468.8 135.25 L469.3 135.25 L469.8 135.25 L470.3 135.25 L470.8 135.25 L471.3 135.25 L471.8 135.25 L472.3 135.25 L472.8 135.25 L473.3 135.25 L473.8 135.25 L474.3 128.86 L474.8 122.21 L475.3 115.56 L475.8 108.91 L476.3 102.25 L476.8 95.6 L477.3 90.55 L477.8 90.55 L478.3 90.55 L478.8 90.55 L479.3 90.55 L479.8 90.55 L480.3 90.55 L480.8 90.55 L481.3 90.55 L481.8 90.55 L482.3 90.55 L482.8 90.55 L483.3 90.55 L483.8 90.55 L484.3 90.55 L484.8 90.55 L485.3 90.55 L485.8 94.27 L486.3 100.92 L486.8 107.58 L487.3 114.23 L487.8 120.88 L488.3 127.53 L488.8 134.18 L489.3 135.25 L489.8 135.25 L490.3 135.25 L490.8 135.25 L491.3 135.25 L491.8 135.25 L492.3 135.25 L492.8 135.25 L493.3 135.25 L493.8 135.25 L494.3 135.25 L494.8 135.25 L495.3 135.25 L495.8 135.25 L496.3 135.25 L496.8 135.25 L497.3 135.25 L497.8 135.25 L498.3 135.25 L498.8 134.11 L499.3 124.64 L499.8 115.17 L500.3 105.7 L500.8 96.23 L501.3 86.76 L501.8 77.29 L502.3 67.82 L502.8 58.35 L503.3 48.88 L503.8 45.85 L504.3 45.85 L504.8 45.85 L505.3 45.85 L505.8 45.85 L506.3 45.85 L506.8 45.85 L507.3 45.85 L507.8 45.85 L508.3 45.85 L508.8 45.85 L509.3 45.85 L509.8 45.85 L510.3 45.85 L510.8 45.85 L511.3 45.85 L511.8 45.85 L512.3 45.85 L512.8 45.85 L513.3 45.85 L513.8 50.77 L514.3 60.24 L514.8 69.71 L515.3 79.18 L515.8 88.65 L516.3 98.12 L516.8 107.59 L517.3 117.06 L517.8 126.53 L518.3 135.25 L518.8 135.25 L519.3 135.25 L519.8 135.25 L520.3 135.25 L520.8 135.25 L521.3 135.25 L521.8 135.25 L522.3 135.25 L522.8 135.25 L523.3 135.25 L523.8 135.25 L524.3 135.25 L524.8 135.25 L525.3 135.25 L525.8 135.25 L526.3 135.25 L526.8 135.25 L527.3 135.25 L527.8 135.25 L528.3 135.25 L528.8 135.25 L529.3 134.11 L529.8 124.64 L530.3 115.17 L530.8 105.7 L531.3 96.23 L531.8 86.76 L532.3 77.29 L532.8 67.82 L533.3 58.35 L533.8 48.88 L534.3 45.85 L534.8 45.85 L535.3 45.85 L535.8 45.85 L536.3 45.85 L536.8 45.85 L537.3 45.85 L537.8 45.85 L538.3 45.85 L538.8 45.85 L539.3 45.85 L539.8 45.85 L540.3 45.85 L540.8 45.85 L541.3 45.85 L541.8 45.85 L542.3 45.85 L542.8 45.85 L543.3 45.85 L543.8 45.85 L544.3 45.85 L544.8 50.77 L545.3 60.24 L545.8 69.71 L546.3 79.18 L546.8 88.65 L547.3 98.12 L547.8 107.59 L548.3 117.06 L548.8 126.53 L549.3 135.25 L549.8 135.25 L550.3 135.25 L550.8 135.25 L551.3 135.25 L551.8 135.25 L552.3 135.25 L552.8 135.25 L553.3 135.25 L553.8 135.25 L554.3 135.25 L554.8 135.25 L555.3 135.25 L555.8 135.25 L556.3 135.25 L556.8 135.25 L557.3 135.25 L557.8 135.25 L558.3 135.25 L558.8 135.25 L559.3 135.25 L559.8 135.25 L560.3 135.25 L560.8 127.09 L561.3 118.22 L561.8 109.35 L562.3 100.48 L562.8 91.61 L563.3 82.74 L563.8 73.87 L564.3 65 L564.8 56.14 L565.3 47.27 L565.8 38.4 L566.3 29.53 L566.8 20.66 L567.3 16.05 L567.8 16.05 L568.3 16.05 L568.8 16.05 L569.3 16.05 L569.8 16.05 L570.3 16.05 L570.8 16.05 L571.3 16.05 L571.8 16.05 L572.3 16.05 L572.8 16.05 L573.3 16.05 L573.8 16.05 L574.3 16.05 L574.8 16.05 L575.3 16.05 L575.8 16.05 L576.3 16.05 L576.8 16.05 L577.3 16.05 L577.8 16.05 L578.3 16.05 L578.8 22.43 L579.3 31.3 L579.8 40.17 L580.3 49.04 L580.8 57.91 L581.3 66.78 L581.8 75.65 L582.3 84.52 L582.8 93.39 L583.3 102.25 L583.8 111.12 L584.3 119.99 L584.8 128.86 L585.3 135.25 L585.8 135.25 L586.3 135.25 L586.8 135.25 L587.3 135.25 L587.8 135.25 L588.3 135.25 L588.8 135.25 L589.3 135.25 L589.8 135.25 L590.3 135.25 L590.8 135.25 L591.3 135.25 L591.8 135.25 L592.3 135.25 L592.8 135.25 L593.3 135.25 L593.8 135.25 L594.3 135.25 L594.8 135.25 L595.3 135.25 L595.8 135.25 L596.3 127.09 L596.8 118.22 L597.3 109.35 L597.8 100.48 L598.3 91.61 L598.8 82.74 L599.3 73.87 L599.8 65 L600.3 56.14 L600.8 47.27 L601.3 38.4 L601.8 29.53 L602.3 20.66 L602.8 16.05 L603.3 16.05 L603.8 16.05 L604.3 16.05 L604.8 16.05 L605.3 16.05 L605.8 16.05 L606.3 16.05 L606.8 16.05 L607.3 16.05 L607.8 16.05 L608.3 16.05 L608.8 16.05 L609.3 16.05 L609.8 16.05 L610.3 16.05 L610.8 16.05 L611.3 16.05 L611.8 16.05 L612.3 16.05 L612.8 17.11 L613.3 25.98 L613.8 34.85 L614.3 43.72 L614.8 52.59 L615.3 61.46 L615.8 70.33 L616.3 79.19 L616.8 88.06 L617.3 96.93 L617.8 105.8 L618.3 114.67 L618.8 123.54 L619.3 132.41 L619.8 135.25 L620.3 135.25 L620.8 135.25 L621.3 135.25 L621.8 135.25 L622.3 135.25 L622.8 135.25 L623.3 135.25 L623.8 135.25 L624.3 135.25 L624.8 135.25 L625.3 135.25 L625.8 135.25 L626.3 135.25 L626.8 135.25 L627.3 135.25 L627.8 135.25 L628.3 135.25 L628.8 135.25 L629.3 135.25 L629.8 135.25 L630.3 130.32 L630.8 120.85 L631.3 111.38 L631.8 101.91 L632.3 92.44 L632.8 82.97 L633.3 73.5 L633.8 64.03 L634.3 54.56 L634.8 45.85 L635.3 45.85 L635.8 45.85 L636.3 45.85 L636.8 45.85 L637.3 45.85 L637.8 45.85 L638.3 45.85 L638.8 45.85 L639.3 45.85 L639.8 45.85 L640.3 45.85 L640.8 45.85 L641.3 45.85 L641.8 45.85 L642.3 45.85 L642.8 45.85 L643.3 45.85 L643.8 45.85 L644.3 45.85 L644.8 45.85 L645.3 45.85 L645.8 45.85 L646.3 45.85 L646.8 45.85 L647.3 52.67 L647.8 62.14 L648.3 71.61 L648.8 81.08 L649.3 90.55 L649.8 100.02 L650.3 109.49 L650.8 118.96 L651.3 128.43 L651.8 135.25 L652.3 135.25 L652.8 135.25 L653.3 135.25 L653.8 135.25 L654.3 135.25 L654.8 135.25 L655.3 135.25 L655.8 135.25 L656.3 135.25 L656.8 135.25 L657.3 135.25 L657.8 135.25 L658.3 135.25 L658.8 135.25 L659.3 135.25 L659.8 135.25 L660.3 135.25 L660.8 135.25 L661.3 135.25 L661.8 135.25 L662.3 135.25 L662.8 135.25 L663.3 130.64 L663.8 121.77 L664.3 112.9 L664.8 104.03 L665.3 95.16 L665.8 86.29 L666.3 77.42 L666.8 68.55 L667.3 59.68 L667.8 50.81 L668.3 41.94 L668.8 33.08 L669.3 24.21 L669.8 16.05 L670.3 16.05 L670.8 16.05 L671.3 16.05 L671.8 16.05 L672.3 16.05 L672.8 16.05 L673.3 16.05 L673.8 16.05 L674.3 16.05 L674.8 16.05 L675.3 16.05 L675.8 16.05 L676.3 16.05 L676.8 16.05 L677.3 16.05 L677.8 16.05 L678.3 16.05 L678.8 16.05 L679.3 16.05 L679.8 16.05 L680.3 16.05 L680.8 16.05 L681.3 16.05 L681.8 16.05 L682.3 16.05 L682.8 16.05 L683.3 18.89 L683.8 27.75 L684.3 36.62 L684.8 45.49 L685.3 54.36 L685.8 63.23 L686.3 72.1 L686.8 80.97 L687.3 89.84 L687.8 98.71 L688.3 107.58 L688.8 116.44 L689.3 125.31 L689.8 134.18 L690.3 135.25 L690.8 135.25 L691.3 135.25 L691.8 135.25 L692.3 135.25 L692.8 135.25 L693.3 135.25 L693.8 135.25 L694.3 135.25 L694.8 135.25 L695.3 135.25 L695.8 135.25 L696.3 135.25 L696.8 135.25 L697.3 135.25 L697.8 135.25 L698.3 130.32 L698.8 120.85 L699.3 111.38 L699.8 101.91 L700.3 92.44 L700.8 82.97 L701.3 73.5 L701.8 64.03 L702.3 54.56 L702.8 45.85 L703.3 45.85 L703.8 45.85 L704.3 45.85 L704.8 45.85 L705.3 45.85 L705.8 45.85 L706.3 45.85 L706.8 45.85 L707.3 45.85 L707.8 45.85 L708.3 45.85 L708.8 45.85 L709.3 45.85 L709.8 45.85 L710.3 45.85 L710.8 45.85 L711.3 45.85 L711.8 45.85 L712.3 45.85 L712.8 45.85 L713.3 45.85 L713.8 45.85 L714.3 54.56 L714.8 64.03 L715.3 73.5 L715.8 82.97 L716.3 92.44 L716.8 101.91 L717.3 111.38 L717.8 120.85 L718.3 130.32 L718.8 135.25 L719.3 135.25 L719.8 135.25 L720.3 135.25 L720.8 135.25 L721.3 135.25 L721.8 135.25 L722.3 135.25 L722.8 135.25 L723.3 135.25 L723.8 135.25 L724.3 135.25 L724.8 135.25 L725.3 135.25 L725.8 135.25 L726.3 135.25 L726.8 132.85 L727.3 126.2 L727.8 119.55 L728.3 112.9 L728.8 106.25 L729.3 99.59 L729.8 92.94 L730.3 90.55 L730.8 90.55 L731.3 90.55 L731.8 90.55 L732.3 90.55 L732.8 90.55 L733.3 90.55 L733.8 90.55 L734.3 90.55 L734.8 90.55 L735.3 90.55 L735.8 90.55 L736.3 90.55 L736.8 90.55 L737.3 90.55 L737.8 90.55 L738.3 90.55 L738.8 90.55 L739.3 94.27 L739.8 100.92 L740.3 107.58 L740.8 114.23 L741.3 120.88 L741.8 127.53 L742.3 134.18 L742.8 135.25 L743.3 135.25 L743.8 135.25 L744.3 135.25 L744.8 135.25 L745.3 135.25 L745.8 135.25 L746.3 135.25" fill="none" stroke="#222" stroke-width="0.8" stroke-dasharray="2.2 1.8" stroke-linejoin="round"/>
<path d="M29.3 134.31 L29.8 134.36 L30.3 134.22 L30.8 134.51 L31.3 134.46 L31.8 134.64 L32.3 134.85 L32.8 134.75 L33.3 134.91 L33.8 134.65 L34.3 134.43 L34.8 133.65 L35.3 132.17 L35.8 130.32 L36.3 129.58 L36.8 129.41 L37.3 130.06 L37.8 130.72 L38.3 127.28 L38.8 121.89 L39.3 115.29 L39.8 108.54 L40.3 100.36 L40.8 91.93 L41.3 86.16 L41.8 86.31 L42.3 89.4 L42.8 90.87 L43.3 91.42 L43.8 91.34 L44.3 91.36 L44.8 91.52 L45.3 91.56 L45.8 91.8 L46.3 91.89 L46.8 91.89 L47.3 91.76 L47.8 91.79 L48.3 91.75 L48.8 92.05 L49.3 94.61 L49.8 99 L50.3 104.53 L50.8 111.08 L51.3 118.09 L51.8 124.72 L52.3 130.51 L52.8 134.47 L53.3 134.62 L53.8 134.84 L54.3 134.59 L54.8 134.86 L55.3 134.66 L55.8 134.42 L56.3 134.52 L56.8 134.3 L57.3 134.41 L57.8 134.18 L58.3 134.19 L58.8 134.35 L59.3 134.36 L59.8 134.68 L60.3 134.64 L60.8 134.73 L61.3 134.74 L61.8 134.73 L62.3 129.85 L62.8 121.5 L63.3 112.31 L63.8 102.3 L64.3 92.27 L64.8 82 L65.3 72.41 L65.8 63.26 L66.3 54.51 L66.8 46.43 L67.3 41.32 L67.8 41.25 L68.3 43.68 L68.8 44.57 L69.3 44.82 L69.8 44.77 L70.3 44.69 L70.8 44.4 L71.3 44.55 L71.8 44.51 L72.3 44.51 L72.8 44.45 L73.3 44.78 L73.8 44.77 L74.3 44.81 L74.8 44.76 L75.3 44.78 L75.8 44.72 L76.3 44.82 L76.8 44.81 L77.3 46.89 L77.8 51.1 L78.3 57.37 L78.8 65.45 L79.3 74.47 L79.8 84.26 L80.3 94.47 L80.8 104.63 L81.3 114.46 L81.8 123.65 L82.3 131.48 L82.8 134.74 L83.3 134.66 L83.8 134.47 L84.3 134.22 L84.8 134.22 L85.3 134.23 L85.8 134.2 L86.3 134.23 L86.8 134.55 L87.3 134.37 L87.8 134.53 L88.3 134.58 L88.8 134.66 L89.3 134.8 L89.8 134.74 L90.3 134.75 L90.8 134.44 L91.3 134.53 L91.8 134.44 L92.3 134.34 L92.8 134.36 L93.3 134.36 L93.8 134.56 L94.3 128.39 L94.8 120.96 L95.3 112.85 L95.8 104.04 L96.3 94.97 L96.8 85.27 L97.3 75.81 L97.8 66.51 L98.3 57.32 L98.8 48.61 L99.3 40.58 L99.8 33.46 L100.3 27.06 L100.8 22.01 L101.3 18.49 L101.8 16.31 L102.3 15.91 L102.8 15.94 L103.3 15.86 L103.8 15.83 L104.3 15.58 L104.8 15.68 L105.3 15.63 L105.8 15.28 L106.3 15.37 L106.8 15.49 L107.3 15.42 L107.8 15.66 L108.3 15.61 L108.8 15.57 L109.3 16.6 L109.8 19.27 L110.3 23.44 L110.8 28.69 L111.3 35.11 L111.8 42.2 L112.3 50.3 L112.8 58.87 L113.3 68.1 L113.8 77.52 L114.3 86.85 L114.8 96.24 L115.3 105.48 L115.8 114.26 L116.3 122.41 L116.8 129.77 L117.3 134.85 L117.8 134.69 L118.3 134.64 L118.8 134.64 L119.3 134.53 L119.8 134.35 L120.3 134.32 L120.8 134.18 L121.3 134.15 L121.8 134.43 L122.3 134.38 L122.8 134.47 L123.3 134.57 L123.8 134.82 L124.3 134.85 L124.8 134.79 L125.3 134.7 L125.8 134.57 L126.3 134.31 L126.8 134.13 L127.3 134.11 L127.8 134.26 L128.3 132.32 L128.8 126.93 L129.3 120.57 L129.8 113.36 L130.3 105.83 L130.8 97.51 L131.3 88.95 L131.8 84.22 L132.3 85.49 L132.8 88.31 L133.3 89.72 L133.8 89.86 L134.3 90.06 L134.8 90.87 L135.3 91.61 L135.8 91.62 L136.3 91.16 L136.8 90.74 L137.3 90.46 L137.8 90.12 L138.3 88.87 L138.8 87.28 L139.3 88.6 L139.8 93.43 L140.3 100.23 L140.8 107.39 L141.3 114.59 L141.8 121.58 L142.3 128.29 L142.8 133.66 L143.3 134.38 L143.8 134.6 L144.3 134.73 L144.8 134.61 L145.3 134.77 L145.8 134.55 L146.3 134.46 L146.8 134.56 L147.3 134.43 L147.8 134.34 L148.3 134.33 L148.8 134.22 L149.3 134.41 L149.8 134.46 L150.3 129.51 L150.8 122.79 L151.3 115.83 L151.8 108.54 L152.3 101.63 L152.8 95.59 L153.3 91.26 L153.8 88.67 L154.3 88.48 L154.8 88.4 L155.3 88.38 L155.8 88.55 L156.3 88.48 L156.8 88.65 L157.3 88.8 L157.8 88.66 L158.3 88.91 L158.8 88.84 L159.3 88.75 L159.8 88.74 L160.3 88.72 L160.8 89.44 L161.3 92.57 L161.8 97.49 L162.3 104 L162.8 110.97 L163.3 118.44 L163.8 125.53 L164.3 131.36 L164.8 134.66 L165.3 134.72 L165.8 134.68 L166.3 134.6 L166.8 134.69 L167.3 134.52 L167.8 134.44 L168.3 134.33 L168.8 134.19 L169.3 134.25 L169.8 134.25 L170.3 134.34 L170.8 134.29 L171.3 134.49 L171.8 134.54 L172.3 134.59 L172.8 134.86 L173.3 134.72 L173.8 134.51 L174.3 130.61 L174.8 123.9 L175.3 115.88 L175.8 107.16 L176.3 98.22 L176.8 88.87 L177.3 79.53 L177.8 70.04 L178.3 60.91 L178.8 52.15 L179.3 44.17 L179.8 36.49 L180.3 29.85 L180.8 24.37 L181.3 19.73 L181.8 16.72 L182.3 15.58 L182.8 15.26 L183.3 15.41 L183.8 15.41 L184.3 15.32 L184.8 15.46 L185.3 15.76 L185.8 15.77 L186.3 15.8 L186.8 15.87 L187.3 15.89 L187.8 15.79 L188.3 15.57 L188.8 15.68 L189.3 15.44 L189.8 15.41 L190.3 15.52 L190.8 16.05 L191.3 18.3 L191.8 22.2 L192.3 27.52 L192.8 33.57 L193.3 40.88 L193.8 48.83 L194.3 57.67 L194.8 66.62 L195.3 75.94 L195.8 85.07 L196.3 94.53 L196.8 103.68 L197.3 112.35 L197.8 120.44 L198.3 128.01 L198.8 134.55 L199.3 134.71 L199.8 134.53 L200.3 134.73 L200.8 134.7 L201.3 134.88 L201.8 134.81 L202.3 134.47 L202.8 134.45 L203.3 134.47 L203.8 134.09 L204.3 134.19 L204.8 134.16 L205.3 134.5 L205.8 134.34 L206.3 134.74 L206.8 134.56 L207.3 134.77 L207.8 134.83 L208.3 134.71 L208.8 131.95 L209.3 125.32 L209.8 117.37 L210.3 108.61 L210.8 99.58 L211.3 90.2 L211.8 80.61 L212.3 70.99 L212.8 61.26 L213.3 51.7 L213.8 42.83 L214.3 35.01 L214.8 28.72 L215.3 23.08 L215.8 18.2 L216.3 14.45 L216.8 13.1 L217.3 13.48 L217.8 13.91 L218.3 13.8 L218.8 13.91 L219.3 14.09 L219.8 14.1 L220.3 14.06 L220.8 14.39 L221.3 14.23 L221.8 14.35 L222.3 14.3 L222.8 14.13 L223.3 14.16 L223.8 14.03 L224.3 13.89 L224.8 13.75 L225.3 13.94 L225.8 13.82 L226.3 13.93 L226.8 14.66 L227.3 17.12 L227.8 21.04 L228.3 26.33 L228.8 32.63 L229.3 39.89 L229.8 47.71 L230.3 56.48 L230.8 65.58 L231.3 74.98 L231.8 84.28 L232.3 93.78 L232.8 103.15 L233.3 112.22 L233.8 120.64 L234.3 128.29 L234.8 134.72 L235.3 134.88 L235.8 134.79 L236.3 134.81 L236.8 134.47 L237.3 134.35 L237.8 134.38 L238.3 134.39 L238.8 134.08 L239.3 134.31 L239.8 134.34 L240.3 134.55 L240.8 134.53 L241.3 134.62 L241.8 134.7 L242.3 134.87 L242.8 134.76 L243.3 134.9 L243.8 134.71 L244.3 134.66 L244.8 134.43 L245.3 134.46 L245.8 133.76 L246.3 126.61 L246.8 118.08 L247.3 108.59 L247.8 98.75 L248.3 88.7 L248.8 78.94 L249.3 69.6 L249.8 60.55 L250.3 51.62 L250.8 43.82 L251.3 40.43 L251.8 42.44 L252.3 44.3 L252.8 45 L253.3 45.31 L253.8 45.12 L254.3 45.18 L254.8 45.36 L255.3 45.42 L255.8 45.48 L256.3 45.72 L256.8 45.61 L257.3 45.57 L257.8 45.4 L258.3 45.31 L258.8 45.21 L259.3 45.56 L259.8 48.05 L260.3 52.92 L260.8 59.58 L261.3 67.82 L261.8 77.06 L262.3 86.89 L262.8 96.96 L263.3 107.09 L263.8 116.46 L264.3 125.3 L264.8 132.56 L265.3 134.45 L265.8 134.32 L266.3 134.29 L266.8 134.42 L267.3 134.13 L267.8 134.21 L268.3 134.39 L268.8 134.49 L269.3 134.57 L269.8 134.87 L270.3 134.68 L270.8 134.85 L271.3 134.86 L271.8 134.7 L272.3 134.41 L272.8 134.48 L273.3 134.2 L273.8 134.07 L274.3 134.24 L274.8 134.34 L275.3 134.4 L275.8 129.57 L276.3 122.34 L276.8 114.38 L277.3 105.74 L277.8 96.81 L278.3 87.38 L278.8 77.81 L279.3 68.19 L279.8 59.09 L280.3 50.22 L280.8 42.22 L281.3 34.84 L281.8 28.39 L282.3 23.02 L282.8 19.06 L283.3 16.58 L283.8 15.84 L284.3 15.82 L284.8 15.83 L285.3 15.78 L285.8 15.8 L286.3 15.47 L286.8 15.58 L287.3 15.27 L287.8 15.25 L288.3 15.53 L288.8 15.45 L289.3 15.42 L289.8 15.48 L290.3 15.73 L290.8 15.85 L291.3 15.91 L291.8 15.83 L292.3 17.62 L292.8 20.62 L293.3 25.24 L293.8 30.82 L294.3 37.45 L294.8 45.36 L295.3 53.54 L295.8 62.59 L296.3 71.81 L296.8 81.39 L297.3 91.06 L297.8 100.22 L298.3 109.32 L298.8 117.9 L299.3 125.65 L299.8 132.09 L300.3 134.49 L300.8 134.43 L301.3 134.41 L301.8 134.29 L302.3 134.31 L302.8 134.19 L303.3 134.59 L303.8 134.44 L304.3 134.52 L304.8 134.86 L305.3 134.62 L305.8 134.68 L306.3 134.55 L306.8 134.67 L307.3 134.52 L307.8 134.4 L308.3 134.1 L308.8 134.2 L309.3 134.3 L309.8 134.34 L310.3 134.5 L310.8 134.7 L311.3 133.82 L311.8 128.21 L312.3 121.66 L312.8 114.2 L313.3 107.11 L313.8 100.32 L314.3 94.52 L314.8 90.5 L315.3 88.52 L315.8 88.25 L316.3 88.29 L316.8 88.36 L317.3 88.5 L317.8 88.52 L318.3 88.6 L318.8 88.79 L319.3 88.77 L319.8 88.95 L320.3 88.69 L320.8 88.69 L321.3 88.5 L321.8 88.5 L322.3 90.4 L322.8 94.47 L323.3 99.85 L323.8 106.84 L324.3 114.06 L324.8 121.45 L325.3 128.3 L325.8 133.68 L326.3 134.6 L326.8 134.84 L327.3 134.63 L327.8 134.65 L328.3 134.44 L328.8 134.39 L329.3 134.39 L329.8 134.36 L330.3 134.36 L330.8 134.18 L331.3 134.43 L331.8 134.65 L332.3 134.51 L332.8 134.56 L333.3 134.79 L333.8 132.34 L334.3 125.46 L334.8 117.52 L335.3 108.78 L335.8 99.7 L336.3 90.2 L336.8 80.6 L337.3 70.93 L337.8 61.42 L338.3 52.29 L338.8 43.63 L339.3 35.51 L339.8 28.31 L340.3 22.27 L340.8 17.31 L341.3 14 L341.8 12.81 L342.3 13.24 L342.8 13.91 L343.3 13.88 L343.8 13.84 L344.3 13.8 L344.8 14.05 L345.3 14.12 L345.8 14.23 L346.3 14.28 L346.8 14.33 L347.3 14.2 L347.8 14.21 L348.3 14.14 L348.8 14.31 L349.3 14.2 L349.8 13.91 L350.3 13.79 L350.8 14.05 L351.3 15.67 L351.8 19.14 L352.3 23.76 L352.8 29.57 L353.3 36.6 L353.8 44.45 L354.3 52.92 L354.8 62.13 L355.3 71.47 L355.8 80.92 L356.3 90.26 L356.8 99.52 L357.3 108.44 L357.8 117.04 L358.3 124.97 L358.8 131.7 L359.3 134.46 L359.8 134.55 L360.3 134.84 L360.8 134.64 L361.3 134.87 L361.8 134.59 L362.3 134.61 L362.8 134.63 L363.3 134.57 L363.8 134.42 L364.3 134.21 L364.8 134.16 L365.3 134.4 L365.8 134.49 L366.3 134.44 L366.8 134.54 L367.3 134.72 L367.8 134.85 L368.3 134.73 L368.8 131.91 L369.3 126 L369.8 119.08 L370.3 111.71 L370.8 104.54 L371.3 97.3 L371.8 91.2 L372.3 88 L372.8 88.42 L373.3 89.42 L373.8 90.01 L374.3 90.3 L374.8 90.45 L375.3 90.32 L375.8 90.24 L376.3 90.25 L376.8 90.21 L377.3 89.99 L377.8 89.82 L378.3 89.97 L378.8 90.02 L379.3 89.95 L379.8 89.99 L380.3 91.32 L380.8 95.09 L381.3 100.17 L381.8 106.56 L382.3 113.59 L382.8 120.71 L383.3 127.08 L383.8 132.67 L384.3 134.31 L384.8 134.42 L385.3 134.35 L385.8 134.14 L386.3 134.34 L386.8 134.19 L387.3 134.46 L387.8 134.69 L388.3 134.78 L388.8 134.78 L389.3 134.71 L389.8 134.57 L390.3 134.78 L390.8 134.58 L391.3 134.52 L391.8 134.15 L392.3 134.38 L392.8 134.4 L393.3 128.3 L393.8 119.88 L394.3 110.51 L394.8 100.73 L395.3 90.78 L395.8 80.82 L396.3 71.42 L396.8 62.8 L397.3 54.64 L397.8 47.4 L398.3 43.47 L398.8 43.61 L399.3 44.56 L399.8 45.11 L400.3 45.24 L400.8 45.33 L401.3 45.47 L401.8 45.62 L402.3 45.62 L402.8 45.66 L403.3 45.49 L403.8 45.7 L404.3 45.38 L404.8 45.51 L405.3 45.37 L405.8 45.14 L406.3 46.21 L406.8 49.86 L407.3 55.59 L407.8 62.76 L408.3 71.39 L408.8 80.72 L409.3 90.94 L409.8 101.03 L410.3 110.76 L410.8 120.3 L411.3 128.5 L411.8 134.41 L412.3 134.31 L412.8 134.47 L413.3 134.41 L413.8 134.39 L414.3 134.13 L414.8 134.45 L415.3 134.39 L415.8 134.46 L416.3 134.76 L416.8 134.84 L417.3 134.6 L417.8 134.68 L418.3 134.72 L418.8 134.44 L419.3 134.47 L419.8 134.38 L420.3 134.42 L420.8 134.15 L421.3 134.13 L421.8 134.32 L422.3 134.33 L422.8 134.77 L423.3 134.8 L423.8 132.75 L424.3 125.22 L424.8 116.39 L425.3 106.9 L425.8 96.83 L426.3 86.61 L426.8 76.75 L427.3 67.4 L427.8 59.1 L428.3 51.15 L428.8 45.3 L429.3 43.09 L429.8 44.19 L430.3 45.22 L430.8 45.62 L431.3 45.67 L431.8 45.62 L432.3 45.42 L432.8 45.53 L433.3 45.4 L433.8 45.15 L434.3 45.26 L434.8 45.31 L435.3 45.36 L435.8 45.28 L436.3 45.45 L436.8 45.35 L437.3 45.46 L437.8 45.6 L438.3 47.96 L438.8 52.38 L439.3 58.58 L439.8 66.14 L440.3 74.88 L440.8 84.54 L441.3 94.59 L441.8 104.58 L442.3 114.26 L442.8 123.31 L443.3 130.98 L443.8 134.49 L444.3 134.65 L444.8 134.9 L445.3 134.64 L445.8 134.79 L446.3 134.6 L446.8 134.55 L447.3 134.3 L447.8 134.4 L448.3 134.33 L448.8 134.33 L449.3 134.42 L449.8 134.25 L450.3 134.48 L450.8 134.68 L451.3 134.75 L451.8 134.59 L452.3 134.76 L452.8 134.81 L453.3 134.51 L453.8 133.47 L454.3 127.87 L454.8 121.31 L455.3 113.9 L455.8 106.48 L456.3 99.48 L456.8 93.24 L457.3 89.18 L457.8 87.74 L458.3 88.47 L458.8 88.83 L459.3 88.67 L459.8 88.76 L460.3 88.57 L460.8 88.64 L461.3 88.4 L461.8 88.45 L462.3 88.46 L462.8 88.31 L463.3 88.31 L463.8 89.52 L464.3 92.7 L464.8 97.84 L465.3 104.37 L465.8 111.45 L466.3 118.83 L466.8 125.77 L467.3 131.59 L467.8 134.45 L468.3 134.32 L468.8 134.39 L469.3 134.41 L469.8 134.31 L470.3 134.24 L470.8 134.51 L471.3 134.58 L471.8 134.74 L472.3 134.62 L472.8 134.75 L473.3 134.92 L473.8 134.84 L474.3 134.64 L474.8 134.47 L475.3 134.32 L475.8 134.43 L476.3 132.41 L476.8 126.82 L477.3 120.29 L477.8 113.35 L478.3 106.5 L478.8 100.09 L479.3 95.17 L479.8 91.62 L480.3 90.36 L480.8 90.29 L481.3 90.07 L481.8 89.93 L482.3 90.03 L482.8 90 L483.3 89.81 L483.8 89.98 L484.3 90.09 L484.8 89.9 L485.3 90.14 L485.8 90.12 L486.3 90.31 L486.8 90.27 L487.3 92.18 L487.8 96.11 L488.3 101.52 L488.8 107.75 L489.3 114.63 L489.8 121.5 L490.3 128.23 L490.8 133.26 L491.3 134.36 L491.8 134.41 L492.3 134.66 L492.8 134.72 L493.3 134.72 L493.8 134.62 L494.3 134.9 L494.8 134.7 L495.3 134.48 L495.8 134.3 L496.3 134.47 L496.8 134.41 L497.3 134.08 L497.8 134.08 L498.3 134.32 L498.8 134.58 L499.3 134.38 L499.8 134.69 L500.3 131.15 L500.8 123.65 L501.3 114.59 L501.8 105.03 L502.3 94.71 L502.8 84.74 L503.3 74.93 L503.8 65.73 L504.3 57.47 L504.8 50.42 L505.3 45.37 L505.8 43.75 L506.3 44.69 L506.8 45.39 L507.3 45.68 L507.8 45.7 L508.3 45.54 L508.8 45.43 L509.3 45.6 L509.8 45.35 L510.3 45.2 L510.8 45.34 L511.3 45.08 L511.8 45.31 L512.3 45.22 L512.8 45.32 L513.3 45.4 L513.8 45.59 L514.3 46.74 L514.8 50.26 L515.3 55.87 L515.8 62.97 L516.3 71.45 L516.8 80.75 L517.3 90.7 L517.8 100.55 L518.3 110.44 L518.8 119.85 L519.3 128.13 L519.8 134.33 L520.3 134.56 L520.8 134.77 L521.3 134.75 L521.8 134.91 L522.3 134.88 L522.8 134.7 L523.3 134.72 L523.8 134.47 L524.3 134.34 L524.8 134.43 L525.3 134.19 L525.8 134.41 L526.3 134.24 L526.8 134.33 L527.3 134.55 L527.8 134.82 L528.3 134.74 L528.8 134.81 L529.3 134.59 L529.8 134.81 L530.3 134.44 L530.8 130.84 L531.3 123.26 L531.8 114.18 L532.3 104.64 L532.8 94.38 L533.3 84.55 L533.8 74.85 L534.3 66.06 L534.8 58.6 L535.3 52.19 L535.8 47.76 L536.3 45.86 L536.8 45.59 L537.3 45.38 L537.8 45.45 L538.3 45.14 L538.8 45.27 L539.3 45.08 L539.8 45.3 L540.3 45.26 L540.8 45.22 L541.3 45.54 L541.8 45.61 L542.3 45.6 L542.8 45.68 L543.3 45.74 L543.8 45.63 L544.3 45.55 L544.8 45.22 L545.3 46.32 L545.8 49.75 L546.3 55.52 L546.8 62.59 L547.3 71.35 L547.8 80.71 L548.3 90.7 L548.8 100.96 L549.3 110.75 L549.8 120.18 L550.3 128.53 L550.8 134.53 L551.3 134.7 L551.8 134.26 L552.3 134.28 L552.8 134.3 L553.3 134.13 L553.8 134.35 L554.3 134.17 L554.8 134.42 L555.3 134.62 L555.8 134.58 L556.3 134.77 L556.8 134.89 L557.3 134.65 L557.8 134.82 L558.3 134.44 L558.8 134.52 L559.3 134.28 L559.8 134.08 L560.3 134.2 L560.8 134.21 L561.3 131.9 L561.8 125.45 L562.3 117.75 L562.8 109.35 L563.3 100.32 L563.8 91.11 L564.3 81.62 L564.8 72.01 L565.3 62.9 L565.8 53.87 L566.3 45.27 L566.8 37.71 L567.3 30.87 L567.8 24.99 L568.3 20.55 L568.8 17.37 L569.3 15.9 L569.8 15.73 L570.3 15.78 L570.8 15.91 L571.3 15.76 L571.8 15.73 L572.3 15.74 L572.8 15.4 L573.3 15.52 L573.8 15.5 L574.3 15.5 L574.8 15.37 L575.3 15.36 L575.8 15.48 L576.3 15.7 L576.8 15.82 L577.3 15.95 L577.8 15.78 L578.3 16.37 L578.8 18.63 L579.3 22.23 L579.8 27.28 L580.3 33.28 L580.8 40.48 L581.3 48.6 L581.8 57.05 L582.3 66.43 L582.8 75.72 L583.3 85.31 L583.8 94.84 L584.3 104.12 L584.8 112.69 L585.3 121.09 L585.8 128.33 L586.3 134.38 L586.8 134.54 L587.3 134.42 L587.8 134.21 L588.3 134.23 L588.8 134.22 L589.3 134.25 L589.8 134.59 L590.3 134.66 L590.8 134.76 L591.3 134.92 L591.8 134.63 L592.3 134.63 L592.8 134.57 L593.3 134.71 L593.8 134.29 L594.3 134.22 L594.8 134.26 L595.3 134.15 L595.8 134.29 L596.3 134.46 L596.8 132.11 L597.3 125.49 L597.8 117.85 L598.3 109.36 L598.8 100.29 L599.3 91 L599.8 81.44 L600.3 71.96 L600.8 62.74 L601.3 53.67 L601.8 45.26 L602.3 37.42 L602.8 30.63 L603.3 24.74 L603.8 19.67 L604.3 16 L604.8 14.56 L605.3 14.37 L605.8 14.72 L606.3 14.68 L606.8 14.77 L607.3 14.76 L607.8 14.85 L608.3 15.04 L608.8 15.27 L609.3 15.19 L609.8 15.44 L610.3 15.56 L610.8 15.46 L611.3 15.65 L611.8 15.71 L612.3 15.81 L612.8 16.99 L613.3 20 L613.8 24.13 L614.3 29.65 L614.8 36.14 L615.3 43.72 L615.8 51.84 L616.3 60.7 L616.8 70.01 L617.3 79.52 L617.8 88.94 L618.3 98.53 L618.8 107.39 L619.3 116.23 L619.8 124.2 L620.3 131.03 L620.8 134.47 L621.3 134.57 L621.8 134.52 L622.3 134.47 L622.8 134.41 L623.3 134.17 L623.8 134.24 L624.3 134.31 L624.8 134.41 L625.3 134.77 L625.8 134.68 L626.3 134.81 L626.8 134.65 L627.3 134.6 L627.8 134.48 L628.3 134.66 L628.8 134.26 L629.3 134.15 L629.8 134.08 L630.3 134.38 L630.8 134.4 L631.3 134.52 L631.8 128.49 L632.3 119.97 L632.8 110.74 L633.3 100.95 L633.8 90.81 L634.3 80.9 L634.8 71.53 L635.3 62.99 L635.8 55.67 L636.3 49.81 L636.8 46.39 L637.3 45.24 L637.8 45.25 L638.3 45.45 L638.8 45.47 L639.3 45.56 L639.8 45.51 L640.3 45.66 L640.8 45.67 L641.3 45.43 L641.8 45.49 L642.3 45.29 L642.8 45.26 L643.3 45.36 L643.8 45.21 L644.3 45.2 L644.8 45.15 L645.3 45.35 L645.8 45.34 L646.3 45.49 L646.8 45.66 L647.3 45.53 L647.8 47.38 L648.3 51.11 L648.8 57.16 L649.3 64.62 L649.8 73.17 L650.3 82.46 L650.8 92.34 L651.3 102.71 L651.8 112.41 L652.3 121.65 L652.8 129.81 L653.3 134.74 L653.8 134.72 L654.3 134.82 L654.8 134.64 L655.3 134.79 L655.8 134.45 L656.3 134.57 L656.8 134.48 L657.3 134.21 L657.8 134.24 L658.3 134.38 L658.8 134.25 L659.3 134.55 L659.8 134.41 L660.3 134.56 L660.8 134.62 L661.3 134.72 L661.8 134.81 L662.3 134.74 L662.8 134.64 L663.3 134.34 L663.8 134.52 L664.3 127.85 L664.8 120.5 L665.3 112.14 L665.8 103.3 L666.3 93.91 L666.8 84.61 L667.3 75.17 L667.8 65.63 L668.3 56.67 L668.8 47.85 L669.3 39.63 L669.8 32.06 L670.3 25.26 L670.8 19.07 L671.3 13.97 L671.8 11.15 L672.3 11.16 L672.8 11.55 L673.3 11.85 L673.8 12.01 L674.3 12.47 L674.8 12.79 L675.3 13.13 L675.8 13.58 L676.3 14.05 L676.8 14.22 L677.3 14.32 L677.8 14.75 L678.3 15.04 L678.8 15.32 L679.3 15.56 L679.8 15.88 L680.3 16.4 L680.8 16.61 L681.3 16.66 L681.8 16.57 L682.3 16.3 L682.8 16.24 L683.3 17.43 L683.8 20.3 L684.3 24.32 L684.8 29.93 L685.3 36.8 L685.8 44.17 L686.3 52.85 L686.8 61.79 L687.3 71.03 L687.8 80.72 L688.3 90.38 L688.8 99.93 L689.3 109.09 L689.8 117.5 L690.3 125.49 L690.8 132.15 L691.3 134.51 L691.8 134.52 L692.3 134.31 L692.8 134.13 L693.3 134.18 L693.8 134.32 L694.3 134.37 L694.8 134.55 L695.3 134.78 L695.8 134.7 L696.3 134.8 L696.8 134.67 L697.3 134.54 L697.8 134.61 L698.3 134.44 L698.8 134.26 L699.3 134.3 L699.8 128.21 L700.3 119.7 L700.8 110.4 L701.3 100.63 L701.8 90.67 L702.3 80.78 L702.8 71.46 L703.3 62.66 L703.8 54.34 L704.3 47.07 L704.8 42.92 L705.3 43.27 L705.8 44.57 L706.3 44.99 L706.8 45.1 L707.3 45.15 L707.8 45.33 L708.3 45.36 L708.8 45.45 L709.3 45.49 L709.8 45.62 L710.3 45.57 L710.8 45.48 L711.3 45.64 L711.8 45.41 L712.3 45.28 L712.8 45.3 L713.3 45.21 L713.8 45.04 L714.3 45.46 L714.8 47.51 L715.3 52.12 L715.8 58.32 L716.3 66.14 L716.8 75.23 L717.3 85.03 L717.8 94.91 L718.3 104.91 L718.8 114.47 L719.3 123.41 L719.8 130.86 L720.3 134.15 L720.8 134.23 L721.3 134.29 L721.8 134.17 L722.3 134.54 L722.8 134.49 L723.3 134.7 L723.8 134.65 L724.3 134.91 L724.8 134.57 L725.3 134.72 L725.8 134.72 L726.3 134.52 L726.8 134.37 L727.3 134.43 L727.8 134.26 L728.3 134.29 L728.8 134.27 L729.3 130.4 L729.8 124.7 L730.3 118.17 L730.8 111.78 L731.3 106.63 L731.8 103.17 L732.3 100.58 L732.8 97.83 L733.3 95.65 L733.8 93.22 L734.3 91.36 L734.8 90.22 L735.3 89.91 L735.8 89.94 L736.3 90.07 L736.8 90.14 L737.3 90.32 L737.8 90.17 L738.3 90.37 L738.8 90.26 L739.3 90.14 L739.8 90.05 L740.3 90.11 L740.8 91.88 L741.3 95.63 L741.8 101.19 L742.3 107.48 L742.8 114.7 L743.3 121.66 L743.8 128.46 L744.3 133.78 L744.8 134.84 L745.3 134.8 L745.8 134.85 L746.3 134.84" fill="none" stroke="#000" stroke-width="1.42" stroke-linejoin="round" stroke-linecap="round"/>
<path d="M28.8 138.7 H745" fill="none" stroke="#707070" stroke-width="1.3"/>
<path d="M29.3 0 V139.3" fill="none" stroke="#444" stroke-width="1"/>
<text x="25.4" y="137.5" text-anchor="end" font-family='"Liberation Serif", serif' font-size="9.6" fill="#111" stroke="#111" stroke-width="0.22">0</text>
<path d="M29.3 105 h7.3" stroke="#444" stroke-width="0.9"/>
<text x="25.4" y="107.7" text-anchor="end" font-family='"Liberation Serif", serif' font-size="9.6" fill="#111" stroke="#111" stroke-width="0.22">20</text>
<path d="M29.3 75.2 h7.3" stroke="#444" stroke-width="0.9"/>
<text x="25.4" y="77.9" text-anchor="end" font-family='"Liberation Serif", serif' font-size="9.6" fill="#111" stroke="#111" stroke-width="0.22">40</text>
<path d="M29.3 45.4 h7.3" stroke="#444" stroke-width="0.9"/>
<text x="25.4" y="48.1" text-anchor="end" font-family='"Liberation Serif", serif' font-size="9.6" fill="#111" stroke="#111" stroke-width="0.22">60</text>
<path d="M29.3 15.6 h7.3" stroke="#444" stroke-width="0.9"/>
<text x="25.4" y="18.3" text-anchor="end" font-family='"Liberation Serif", serif' font-size="9.6" fill="#111" stroke="#111" stroke-width="0.22">80</text>
<text x="29.5" y="150.6" text-anchor="middle" font-family='"Liberation Serif", serif' font-size="9.6" fill="#111" stroke="#111" stroke-width="0.22">0</text>
<path d="M156.95 138.6 v-6.8" stroke="#707070" stroke-width="1.1"/>
<text x="157.15" y="150.6" text-anchor="middle" font-family='"Liberation Serif", serif' font-size="9.6" fill="#111" stroke="#111" stroke-width="0.22">50</text>
<path d="M284.6 138.6 v-6.8" stroke="#707070" stroke-width="1.1"/>
<text x="284.8" y="150.6" text-anchor="middle" font-family='"Liberation Serif", serif' font-size="9.6" fill="#111" stroke="#111" stroke-width="0.22">100</text>
<path d="M412.25 138.6 v-6.8" stroke="#707070" stroke-width="1.1"/>
<text x="412.45" y="150.6" text-anchor="middle" font-family='"Liberation Serif", serif' font-size="9.6" fill="#111" stroke="#111" stroke-width="0.22">150</text>
<path d="M539.9 138.6 v-6.8" stroke="#707070" stroke-width="1.1"/>
<text x="540.1" y="150.6" text-anchor="middle" font-family='"Liberation Serif", serif' font-size="9.6" fill="#111" stroke="#111" stroke-width="0.22">200</text>
<path d="M667.55 138.6 v-6.8" stroke="#707070" stroke-width="1.1"/>
<text x="667.75" y="150.6" text-anchor="middle" font-family='"Liberation Serif", serif' font-size="9.6" fill="#111" stroke="#111" stroke-width="0.22">250</text>
<text x="387" y="164.2" text-anchor="middle" font-family='"Liberation Serif", serif' font-size="11.2" fill="#111" stroke="#111" stroke-width="0.22" textLength="36.8" lengthAdjust="spacingAndGlyphs">Time [s]</text>
<text transform="translate(11.8 68.6) rotate(-90)" text-anchor="middle" font-family='"Liberation Serif", serif' font-size="12.6" fill="#111" stroke="#111" stroke-width="0.22" textLength="91" lengthAdjust="spacingAndGlyphs">Joint Angle [deg]</text>
<text x="375.8" y="184" text-anchor="middle" font-family='"Liberation Sans", sans-serif' font-weight="bold" font-size="20" fill="#111">(a)</text>
</g>
<g id="panel-b">
<path d="M28.5 187.2 V238.6" stroke="#a4a4a4" stroke-width="0.8" fill="none"/>
<path d="M28.5 187.2 h2.5" stroke="#a4a4a4" stroke-width="0.8"/>
<path d="M28.5 239.1 H227.2" stroke="#dedede" stroke-width="0.8"/>
<text x="24.3" y="190.7" text-anchor="end" font-family='"Liberation Serif", serif' font-size="10.6" fill="#666">90</text>
<text x="24.3" y="242.1" text-anchor="end" font-family='"Liberation Serif", serif' font-size="10.6" fill="#666">0</text>
<path d="M28.5 238.2 L38.5 238.2 L39.19 238.2 L39.89 238.19 L40.58 238.18 L41.27 238.15 L41.96 238.1 L42.64 238.03 L43.32 237.93 L44 237.81 L44.67 237.65 L45.34 237.47 L46.01 237.24 L46.68 236.98 L47.37 236.69 L48.06 236.35 L48.76 235.97 L49.45 235.55 L50.14 235.09 L50.84 234.59 L51.53 234.05 L52.23 233.47 L52.92 232.85 L53.61 232.19 L54.31 231.49 L55 230.75 L55.69 229.98 L56.39 229.17 L57.08 228.33 L57.77 227.46 L58.47 226.55 L59.16 225.63 L59.86 224.67 L60.55 223.7 L61.24 222.7 L61.94 221.68 L62.63 220.65 L63.33 219.61 L64.02 218.56 L64.71 217.49 L65.41 216.43 L66.1 215.36 L66.79 214.29 L67.49 213.22 L68.18 212.16 L68.88 211.1 L69.57 210.06 L70.26 209.03 L70.96 208.01 L71.65 207.01 L72.34 206.04 L73.04 205.09 L73.73 204.16 L74.42 203.26 L75.12 202.38 L75.81 201.54 L76.51 200.74 L77.2 199.96 L77.89 199.22 L78.59 198.52 L79.28 197.86 L79.97 197.24 L80.67 196.66 L81.36 196.12 L82.06 195.62 L82.76 195.16 L83.47 194.74 L84.19 194.36 L84.9 194.02 L85.61 193.73 L86.32 193.47 L87.02 193.24 L87.73 193.06 L88.43 192.9 L89.13 192.78 L89.83 192.68 L90.53 192.61 L91.22 192.56 L91.92 192.53 L92.61 192.52 L93.31 192.51 L94 192.51 L153 192.51 L153.66 192.51 L154.33 192.52 L154.99 192.53 L155.65 192.56 L156.32 192.61 L156.98 192.68 L157.65 192.78 L158.32 192.9 L158.99 193.06 L159.67 193.24 L160.34 193.47 L161.02 193.73 L161.7 194.02 L162.38 194.36 L163.06 194.74 L163.74 195.16 L164.41 195.62 L165.08 196.12 L165.74 196.66 L166.4 197.24 L167.06 197.86 L167.72 198.52 L168.39 199.22 L169.05 199.96 L169.71 200.74 L170.38 201.54 L171.04 202.38 L171.7 203.26 L172.36 204.16 L173.03 205.09 L173.69 206.04 L174.35 207.01 L175.01 208.01 L175.68 209.03 L176.34 210.06 L177 211.1 L177.66 212.16 L178.33 213.22 L178.99 214.29 L179.65 215.36 L180.31 216.43 L180.97 217.49 L181.64 218.56 L182.3 219.61 L182.96 220.65 L183.62 221.68 L184.29 222.7 L184.95 223.7 L185.61 224.67 L186.28 225.63 L186.94 226.55 L187.6 227.46 L188.26 228.33 L188.93 229.17 L189.59 229.98 L190.25 230.75 L190.91 231.49 L191.58 232.19 L192.24 232.85 L192.9 233.47 L193.56 234.05 L194.22 234.59 L194.89 235.09 L195.55 235.55 L196.21 235.97 L196.88 236.35 L197.54 236.69 L198.2 236.98 L198.84 237.24 L199.47 237.47 L200.11 237.65 L200.75 237.81 L201.4 237.93 L202.05 238.03 L202.7 238.1 L203.36 238.15 L204.02 238.18 L204.68 238.19 L205.34 238.2 L206 238.2 L227.2 238.2 L227.2 239 L206 239 L205.34 239 L204.67 238.99 L204.01 238.98 L203.34 238.95 L202.67 238.9 L202 238.83 L201.33 238.73 L200.65 238.61 L199.97 238.45 L199.28 238.27 L198.59 238.04 L197.9 237.78 L197.24 237.49 L196.57 237.15 L195.91 236.77 L195.25 236.35 L194.59 235.89 L193.92 235.39 L193.26 234.85 L192.6 234.27 L191.94 233.65 L191.28 232.99 L190.61 232.29 L189.95 231.55 L189.29 230.78 L188.62 229.97 L187.96 229.13 L187.3 228.26 L186.64 227.35 L185.97 226.43 L185.31 225.47 L184.65 224.5 L183.99 223.5 L183.32 222.48 L182.66 221.45 L182 220.41 L181.34 219.36 L180.67 218.29 L180.01 217.23 L179.35 216.16 L178.69 215.09 L178.03 214.02 L177.36 212.96 L176.7 211.9 L176.04 210.86 L175.38 209.83 L174.71 208.81 L174.05 207.81 L173.39 206.84 L172.72 205.89 L172.06 204.96 L171.4 204.06 L170.74 203.18 L170.07 202.34 L169.41 201.54 L168.75 200.76 L168.09 200.02 L167.42 199.32 L166.76 198.66 L166.1 198.04 L165.44 197.46 L164.78 196.92 L164.11 196.42 L163.46 195.96 L162.82 195.54 L162.17 195.16 L161.53 194.82 L160.88 194.53 L160.24 194.27 L159.58 194.04 L158.93 193.86 L158.28 193.7 L157.62 193.58 L156.97 193.48 L156.31 193.41 L155.65 193.36 L154.99 193.33 L154.32 193.32 L153.66 193.31 L153 193.31 L94 193.31 L93.31 193.31 L92.61 193.32 L91.92 193.33 L91.23 193.36 L90.54 193.41 L89.85 193.48 L89.16 193.58 L88.47 193.7 L87.79 193.86 L87.1 194.04 L86.42 194.27 L85.74 194.53 L85.06 194.82 L84.39 195.16 L83.72 195.54 L83.04 195.96 L82.36 196.42 L81.66 196.92 L80.97 197.46 L80.28 198.04 L79.58 198.66 L78.89 199.32 L78.19 200.02 L77.5 200.76 L76.81 201.54 L76.11 202.34 L75.42 203.18 L74.73 204.06 L74.03 204.96 L73.34 205.89 L72.64 206.84 L71.95 207.81 L71.26 208.81 L70.56 209.83 L69.87 210.86 L69.18 211.9 L68.48 212.96 L67.79 214.02 L67.09 215.09 L66.4 216.16 L65.71 217.23 L65.01 218.29 L64.32 219.36 L63.62 220.41 L62.93 221.45 L62.24 222.48 L61.54 223.5 L60.85 224.5 L60.16 225.47 L59.46 226.43 L58.77 227.35 L58.07 228.26 L57.38 229.13 L56.69 229.97 L55.99 230.78 L55.3 231.55 L54.61 232.29 L53.91 232.99 L53.22 233.65 L52.52 234.27 L51.83 234.85 L51.14 235.39 L50.44 235.89 L49.75 236.35 L49.06 236.77 L48.36 237.15 L47.67 237.49 L46.98 237.78 L46.26 238.04 L45.53 238.27 L44.82 238.45 L44.1 238.61 L43.39 238.73 L42.69 238.83 L41.98 238.9 L41.28 238.95 L40.58 238.98 L39.89 238.99 L39.19 239 L38.5 239 L28.5 239 Z" fill="#d6d6d6" stroke="#d6d6d6" stroke-width="0.5" stroke-linejoin="round"/>
<path d="M28.5 238.35 L42 238.35 L42.47 238.29 L42.91 238.22 L43.31 238.14 L43.69 238.04 L44.04 237.94 L44.37 237.83 L44.68 237.71 L44.97 237.58 L45.23 237.45 L45.47 237.3 L45.85 237.14 L46.49 236.97 L47.13 236.79 L47.77 236.6 L48.42 236.39 L49.06 236.17 L49.71 235.93 L50.35 235.68 L50.99 235.42 L51.64 235.14 L52.29 234.84 L52.93 234.52 L53.58 234.15 L54.23 233.72 L54.88 233.23 L55.53 232.7 L56.18 232.13 L56.84 231.53 L57.49 230.89 L58.15 230.24 L58.8 229.56 L59.46 228.87 L60.12 228.09 L60.78 227.24 L61.44 226.33 L62.1 225.39 L62.76 224.43 L63.43 223.46 L64.09 222.52 L64.75 221.6 L65.41 220.71 L66.07 219.82 L66.73 218.92 L67.4 218.02 L68.06 217.11 L68.72 216.19 L69.38 215.24 L70.05 214.26 L70.71 213.23 L71.38 212.19 L72.04 211.14 L72.71 210.09 L73.37 209.06 L74.04 208.06 L74.7 207.11 L75.36 206.21 L76.02 205.33 L76.68 204.45 L77.34 203.59 L78 202.74 L78.66 201.93 L79.32 201.14 L79.98 200.4 L80.63 199.71 L81.29 199.08 L81.94 198.52 L82.59 197.99 L83.24 197.48 L83.89 196.98 L84.54 196.51 L85.19 196.07 L85.84 195.66 L86.57 195.29 L87.46 194.97 L88.31 194.69 L89.12 194.47 L89.91 194.27 L90.7 194.07 L91.48 193.88 L92.26 193.7 L93.03 193.52 L93.78 193.36 L94.53 193.21 L95.27 193.07 L96 192.95 L96.71 192.85 L97.41 192.77 L98.09 192.71 L98.75 192.67 L99.4 192.66 L156.5 192.66 L157.1 192.8 L157.7 192.97 L158.31 193.15 L158.93 193.35 L159.55 193.56 L160.18 193.79 L160.82 194.04 L161.47 194.31 L162.13 194.6 L162.8 194.92 L163.49 195.25 L164.14 195.6 L164.76 195.97 L165.38 196.36 L166 196.76 L166.62 197.17 L167.24 197.59 L167.86 198.02 L168.49 198.49 L169.12 198.98 L169.75 199.51 L170.39 200.06 L171.03 200.64 L171.67 201.23 L172.31 201.84 L172.95 202.46 L173.6 203.09 L174.24 203.73 L174.89 204.37 L175.53 205 L176.17 205.63 L176.82 206.26 L177.46 206.87 L178.1 207.47 L178.74 208.06 L179.38 208.64 L180.02 209.23 L180.66 209.81 L181.3 210.4 L181.94 210.99 L182.58 211.58 L183.22 212.19 L183.86 212.81 L184.51 213.44 L185.15 214.09 L185.8 214.76 L186.45 215.45 L187.1 216.18 L187.76 216.95 L188.43 217.76 L189.09 218.59 L189.76 219.45 L190.43 220.32 L191.1 221.2 L191.77 222.07 L192.44 222.93 L193.1 223.77 L193.77 224.59 L194.42 225.36 L195.08 226.1 L195.73 226.81 L196.38 227.52 L197.04 228.23 L197.69 228.93 L198.34 229.61 L198.99 230.28 L199.63 230.94 L200.28 231.57 L200.92 232.18 L201.56 232.76 L202.19 233.32 L202.83 233.84 L203.45 234.32 L204.08 234.78 L204.71 235.24 L205.33 235.69 L205.95 236.11 L206.57 236.5 L207.19 236.85 L207.8 237.15 L207.65 237.37 L207.49 237.54 L207.36 237.7 L207.28 237.85 L207.24 237.99 L207.28 238.11 L207.41 238.21 L207.64 238.28 L208 238.33 L208.5 238.35 L227.2 238.35 L227.2 238.85 L208.5 238.85 L207.85 238.83 L207.05 238.78 L206.13 238.71 L205.1 238.61 L203.98 238.49 L202.79 238.35 L201.55 238.2 L200.27 238.04 L198.95 237.87 L197.65 237.65 L197.1 237.35 L196.56 237 L196.02 236.61 L195.49 236.19 L194.96 235.74 L194.43 235.28 L193.9 234.82 L193.37 234.34 L192.85 233.82 L192.33 233.26 L191.81 232.68 L191.3 232.07 L190.79 231.44 L190.28 230.78 L189.77 230.11 L189.27 229.43 L188.76 228.73 L188.26 228.02 L187.76 227.31 L187.25 226.6 L186.75 225.86 L186.26 225.09 L185.76 224.27 L185.28 223.43 L184.79 222.57 L184.3 221.7 L183.82 220.82 L183.33 219.95 L182.84 219.09 L182.35 218.26 L181.86 217.45 L181.36 216.68 L180.86 215.95 L180.36 215.26 L179.85 214.59 L179.34 213.94 L178.83 213.31 L178.31 212.69 L177.8 212.08 L177.29 211.49 L176.77 210.9 L176.25 210.31 L175.74 209.73 L175.22 209.14 L174.7 208.56 L174.19 207.97 L173.67 207.37 L173.16 206.76 L172.65 206.13 L172.14 205.5 L171.63 204.87 L171.11 204.23 L170.6 203.59 L170.09 202.96 L169.58 202.34 L169.07 201.73 L168.55 201.14 L168.03 200.56 L167.51 200.01 L166.99 199.48 L166.47 198.99 L165.94 198.52 L165.4 198.09 L164.87 197.67 L164.34 197.26 L163.8 196.86 L163.26 196.47 L162.72 196.1 L162.22 195.75 L161.75 195.42 L161.27 195.1 L160.78 194.81 L160.27 194.54 L159.75 194.29 L159.23 194.06 L158.69 193.85 L158.15 193.65 L157.61 193.47 L157.06 193.3 L156.5 193.16 L99.4 193.16 L98.77 193.17 L98.16 193.21 L97.57 193.27 L96.99 193.35 L96.43 193.45 L95.88 193.57 L95.34 193.71 L94.81 193.86 L94.29 194.02 L93.79 194.2 L93.29 194.38 L92.79 194.57 L92.3 194.77 L91.82 194.97 L91.35 195.19 L90.93 195.47 L90.55 195.79 L90 196.16 L89.37 196.57 L88.75 197.01 L88.12 197.48 L87.5 197.98 L86.87 198.49 L86.25 199.02 L85.62 199.58 L85 200.21 L84.38 200.9 L83.76 201.64 L83.15 202.43 L82.53 203.24 L81.92 204.09 L81.3 204.95 L80.69 205.83 L80.07 206.71 L79.46 207.61 L78.84 208.56 L78.23 209.56 L77.62 210.59 L77.01 211.64 L76.4 212.69 L75.79 213.73 L75.18 214.76 L74.57 215.74 L73.96 216.69 L73.34 217.61 L72.73 218.52 L72.11 219.42 L71.5 220.32 L70.89 221.21 L70.27 222.1 L69.66 223.02 L69.04 223.96 L68.43 224.93 L67.82 225.89 L67.21 226.83 L66.59 227.74 L65.98 228.59 L65.36 229.37 L64.74 230.06 L64.12 230.74 L63.5 231.39 L62.88 232.03 L62.26 232.63 L61.63 233.2 L61.01 233.73 L60.38 234.22 L59.76 234.65 L59.13 235.02 L58.5 235.34 L57.87 235.64 L57.24 235.92 L56.61 236.18 L55.98 236.43 L55.35 236.67 L54.72 236.89 L54.08 237.1 L53.45 237.29 L52.82 237.47 L52.18 237.64 L51.29 237.8 L50.25 237.95 L49.23 238.08 L48.25 238.21 L47.28 238.33 L46.33 238.44 L45.41 238.54 L44.51 238.64 L43.64 238.72 L42.8 238.79 L42 238.85 L28.5 238.85 Z" fill="#555" stroke="#555" stroke-width="0.4" stroke-linejoin="round"/>
<path d="M28.5 238.6 L42 238.6 L42.64 238.54 L43.28 238.47 L43.91 238.39 L44.55 238.29 L45.19 238.19 L45.83 238.08 L46.46 237.96 L47.1 237.83 L47.74 237.7 L48.38 237.55 L49.02 237.39 L49.65 237.22 L50.29 237.04 L50.93 236.85 L51.57 236.64 L52.2 236.42 L52.84 236.18 L53.48 235.93 L54.12 235.67 L54.76 235.39 L55.39 235.09 L56.03 234.77 L56.67 234.4 L57.31 233.97 L57.94 233.48 L58.58 232.95 L59.22 232.38 L59.86 231.78 L60.5 231.14 L61.13 230.49 L61.77 229.81 L62.41 229.12 L63.05 228.34 L63.68 227.49 L64.32 226.58 L64.96 225.64 L65.6 224.68 L66.24 223.71 L66.87 222.77 L67.51 221.85 L68.15 220.96 L68.79 220.07 L69.42 219.17 L70.06 218.27 L70.7 217.36 L71.34 216.44 L71.98 215.49 L72.61 214.51 L73.25 213.48 L73.89 212.44 L74.53 211.39 L75.16 210.34 L75.8 209.31 L76.44 208.31 L77.08 207.36 L77.72 206.46 L78.35 205.58 L78.99 204.7 L79.63 203.84 L80.27 202.99 L80.9 202.18 L81.54 201.39 L82.18 200.65 L82.82 199.96 L83.46 199.33 L84.09 198.77 L84.73 198.24 L85.37 197.73 L86.01 197.23 L86.64 196.76 L87.28 196.32 L87.92 195.91 L88.56 195.54 L89.2 195.22 L89.83 194.94 L90.47 194.72 L91.11 194.52 L91.75 194.32 L92.38 194.13 L93.02 193.95 L93.66 193.77 L94.3 193.61 L94.94 193.46 L95.57 193.32 L96.21 193.2 L96.85 193.1 L97.49 193.02 L98.12 192.96 L98.76 192.92 L99.4 192.91 L156.5 192.91 L157.08 193.05 L157.66 193.22 L158.23 193.4 L158.81 193.6 L159.39 193.81 L159.97 194.04 L160.54 194.29 L161.12 194.56 L161.7 194.85 L162.28 195.17 L162.86 195.5 L163.43 195.85 L164.01 196.22 L164.59 196.61 L165.17 197.01 L165.74 197.42 L166.32 197.84 L166.9 198.27 L167.48 198.74 L168.06 199.23 L168.63 199.76 L169.21 200.31 L169.79 200.89 L170.37 201.48 L170.94 202.09 L171.52 202.71 L172.1 203.34 L172.68 203.98 L173.26 204.62 L173.83 205.25 L174.41 205.88 L174.99 206.51 L175.57 207.12 L176.14 207.72 L176.72 208.31 L177.3 208.89 L177.88 209.48 L178.46 210.06 L179.03 210.65 L179.61 211.24 L180.19 211.83 L180.77 212.44 L181.34 213.06 L181.92 213.69 L182.5 214.34 L183.08 215.01 L183.66 215.7 L184.23 216.43 L184.81 217.2 L185.39 218.01 L185.97 218.84 L186.54 219.7 L187.12 220.57 L187.7 221.45 L188.28 222.32 L188.86 223.18 L189.43 224.02 L190.01 224.84 L190.59 225.61 L191.17 226.35 L191.74 227.06 L192.32 227.77 L192.9 228.48 L193.48 229.18 L194.06 229.86 L194.63 230.53 L195.21 231.19 L195.79 231.82 L196.37 232.43 L196.94 233.01 L197.52 233.57 L198.1 234.09 L198.68 234.57 L199.26 235.03 L199.83 235.49 L200.41 235.94 L200.99 236.36 L201.57 236.75 L202.14 237.1 L202.72 237.4 L203.3 237.62 L203.88 237.79 L204.46 237.95 L205.03 238.1 L205.61 238.24 L206.19 238.36 L206.77 238.46 L207.34 238.53 L207.92 238.58 L208.5 238.6 L227.2 238.6" fill="none" stroke="#000" stroke-width="1.1" stroke-linejoin="round"/>
<path d="M28.5 238.6 L35 238.6 L35.7 238.6 L36.4 238.59 L37.1 238.58 L37.8 238.55 L38.5 238.5 L39.2 238.43 L39.9 238.33 L40.6 238.21 L41.3 238.05 L42 237.87 L42.7 237.64 L43.4 237.38 L44.1 237.09 L44.8 236.75 L45.5 236.37 L46.2 235.95 L46.9 235.49 L47.6 234.99 L48.3 234.45 L49 233.87 L49.7 233.25 L50.4 232.59 L51.1 231.89 L51.8 231.15 L52.5 230.38 L53.2 229.57 L53.9 228.73 L54.6 227.86 L55.3 226.95 L56 226.03 L56.7 225.07 L57.4 224.1 L58.1 223.1 L58.8 222.08 L59.5 221.05 L60.2 220.01 L60.9 218.96 L61.6 217.89 L62.3 216.83 L63 215.76 L63.7 214.69 L64.4 213.62 L65.1 212.56 L65.8 211.5 L66.5 210.46 L67.2 209.43 L67.9 208.41 L68.6 207.41 L69.3 206.44 L70 205.49 L70.7 204.56 L71.4 203.66 L72.1 202.78 L72.8 201.94 L73.5 201.14 L74.2 200.36 L74.9 199.62 L75.6 198.92 L76.3 198.26 L77 197.64 L77.7 197.06 L78.4 196.52 L79.1 196.02 L79.8 195.56 L80.5 195.14 L81.2 194.76 L81.9 194.42 L82.6 194.13 L83.3 193.87 L84 193.64 L84.7 193.46 L85.4 193.3 L86.1 193.18 L86.8 193.08 L87.5 193.01 L88.2 192.96 L88.9 192.93 L89.6 192.92 L90.3 192.91 L91 192.91 L151 192.91 L151.62 192.91 L152.25 192.92 L152.88 192.93 L153.5 192.96 L154.12 193.01 L154.75 193.08 L155.38 193.18 L156 193.3 L156.62 193.46 L157.25 193.64 L157.88 193.87 L158.5 194.13 L159.12 194.42 L159.75 194.76 L160.38 195.14 L161 195.56 L161.62 196.02 L162.25 196.52 L162.88 197.06 L163.5 197.64 L164.12 198.26 L164.75 198.92 L165.38 199.62 L166 200.36 L166.62 201.14 L167.25 201.94 L167.88 202.78 L168.5 203.66 L169.12 204.56 L169.75 205.49 L170.38 206.44 L171 207.41 L171.62 208.41 L172.25 209.43 L172.88 210.46 L173.5 211.5 L174.12 212.56 L174.75 213.62 L175.38 214.69 L176 215.76 L176.62 216.83 L177.25 217.89 L177.88 218.96 L178.5 220.01 L179.12 221.05 L179.75 222.08 L180.38 223.1 L181 224.1 L181.62 225.07 L182.25 226.03 L182.88 226.95 L183.5 227.86 L184.12 228.73 L184.75 229.57 L185.38 230.38 L186 231.15 L186.62 231.89 L187.25 232.59 L187.88 233.25 L188.5 233.87 L189.12 234.45 L189.75 234.99 L190.38 235.49 L191 235.95 L191.62 236.37 L192.25 236.75 L192.88 237.09 L193.5 237.38 L194.12 237.64 L194.75 237.87 L195.38 238.05 L196 238.21 L196.62 238.33 L197.25 238.43 L197.88 238.5 L198.5 238.55 L199.12 238.58 L199.75 238.59 L200.38 238.6 L201 238.6 L227.2 238.6" fill="none" stroke="#111" stroke-width="1.2" stroke-dasharray="4.6 3.6" stroke-linejoin="round"/>
<path d="M28.5 259.3 V310.9" stroke="#a4a4a4" stroke-width="0.8" fill="none"/>
<path d="M28.5 259.3 h2.5" stroke="#a4a4a4" stroke-width="0.8"/>
<path d="M28.5 311.4 H192.6" stroke="#dedede" stroke-width="0.8"/>
<text x="24.3" y="262.8" text-anchor="end" font-family='"Liberation Serif", serif' font-size="10.6" fill="#666">90</text>
<text x="24.3" y="314.4" text-anchor="end" font-family='"Liberation Serif", serif' font-size="10.6" fill="#666">0</text>
<path d="M28.5 310.5 L39 310.5 L39.3 310.48 L39.58 310.42 L39.86 310.33 L40.14 310.22 L40.41 310.08 L40.67 309.92 L40.94 309.75 L41.17 309.44 L41.45 308.98 L41.75 308.4 L42.05 307.7 L42.35 306.93 L42.65 306.08 L42.95 305.2 L43.25 304.29 L43.55 303.38 L43.85 302.5 L44.15 301.65 L44.45 300.87 L44.75 300.12 L45.05 299.37 L45.35 298.61 L45.65 297.84 L45.95 297.08 L46.25 296.3 L46.55 295.53 L46.85 294.76 L47.15 293.98 L47.45 293.2 L47.75 292.43 L48.05 291.65 L48.35 290.88 L48.65 290.11 L48.95 289.34 L49.25 288.58 L49.55 287.82 L49.85 287.06 L50.15 286.28 L50.45 285.49 L50.75 284.69 L51.05 283.88 L51.35 283.07 L51.65 282.26 L51.95 281.46 L52.25 280.66 L52.55 279.88 L52.85 279.12 L53.15 278.38 L53.45 277.66 L53.75 276.97 L54.05 276.32 L54.35 275.71 L54.65 275.13 L54.95 274.6 L55.25 274.08 L55.55 273.58 L55.85 273.09 L56.15 272.62 L56.45 272.16 L56.75 271.71 L57.05 271.28 L57.35 270.86 L57.65 270.46 L57.95 270.06 L58.25 269.68 L58.55 269.31 L58.85 268.95 L59.15 268.61 L59.45 268.27 L59.75 267.95 L60.05 267.63 L60.36 267.31 L60.69 266.99 L61.01 266.68 L61.34 266.38 L61.67 266.1 L61.99 265.85 L62.31 265.63 L62.63 265.46 L62.94 265.32 L63.25 265.21 L63.56 265.11 L63.87 265.01 L64.17 264.92 L64.48 264.84 L64.79 264.77 L65.09 264.71 L65.4 264.67 L65.7 264.64 L66 264.63 L119 264.63 L119.31 264.67 L119.62 264.75 L119.94 264.88 L120.27 265.05 L120.6 265.25 L120.93 265.48 L121.27 265.72 L121.61 265.96 L121.96 266.25 L122.33 266.62 L122.71 267.07 L123.08 267.6 L123.4 268.18 L123.73 268.82 L124.06 269.5 L124.4 270.21 L124.73 270.94 L125.06 271.69 L125.39 272.44 L125.73 273.17 L126.06 273.89 L126.39 274.59 L126.72 275.24 L127.05 275.88 L127.38 276.52 L127.71 277.16 L128.04 277.8 L128.37 278.44 L128.7 279.08 L129.03 279.73 L129.36 280.37 L129.69 281.02 L130.01 281.67 L130.34 282.33 L130.67 282.98 L131 283.64 L131.33 284.3 L131.66 284.96 L131.99 285.63 L132.33 286.29 L132.66 286.97 L132.99 287.64 L133.32 288.33 L133.65 289.03 L133.98 289.75 L134.31 290.48 L134.65 291.22 L134.98 291.97 L135.31 292.72 L135.65 293.47 L135.98 294.22 L136.31 294.96 L136.65 295.69 L136.98 296.42 L137.31 297.13 L137.64 297.82 L137.97 298.49 L138.3 299.15 L138.63 299.77 L138.96 300.37 L139.28 300.94 L139.61 301.5 L139.94 302.05 L140.26 302.6 L140.59 303.15 L140.91 303.69 L141.24 304.21 L141.56 304.72 L141.89 305.2 L142.21 305.67 L142.53 306.11 L142.85 306.53 L143.17 306.91 L143.49 307.26 L143.81 307.58 L144.12 307.86 L144.44 308.12 L144.75 308.39 L145.07 308.64 L145.38 308.89 L145.7 309.12 L146.01 309.34 L145.98 309.55 L145.96 309.75 L145.96 309.93 L146 310.08 L146.06 310.22 L146.17 310.34 L146.31 310.43 L146.5 310.5 L192.6 310.5 L192.6 311.3 L146.5 311.3 L146.08 311.23 L145.61 311.14 L145.1 311.02 L144.56 310.88 L143.98 310.73 L143.37 310.55 L142.74 310.35 L142.1 310.14 L141.8 309.92 L141.5 309.69 L141.21 309.44 L140.91 309.19 L140.62 308.92 L140.32 308.66 L140.02 308.38 L139.73 308.06 L139.44 307.71 L139.15 307.33 L138.86 306.91 L138.57 306.47 L138.28 306 L137.99 305.52 L137.71 305.01 L137.42 304.49 L137.13 303.95 L136.85 303.4 L136.56 302.85 L136.28 302.3 L135.99 301.74 L135.71 301.17 L135.43 300.57 L135.14 299.95 L134.86 299.29 L134.58 298.62 L134.3 297.93 L134.02 297.22 L133.74 296.49 L133.46 295.76 L133.19 295.02 L132.91 294.27 L132.63 293.52 L132.35 292.77 L132.08 292.02 L131.8 291.28 L131.52 290.55 L131.24 289.83 L130.96 289.13 L130.68 288.44 L130.4 287.77 L130.12 287.09 L129.84 286.43 L129.56 285.76 L129.28 285.1 L129 284.44 L128.71 283.78 L128.43 283.13 L128.15 282.47 L127.87 281.82 L127.59 281.17 L127.31 280.53 L127.03 279.88 L126.74 279.24 L126.46 278.6 L126.18 277.96 L125.9 277.32 L125.62 276.68 L125.33 276.04 L125.05 275.39 L124.77 274.69 L124.49 273.97 L124.22 273.24 L123.94 272.49 L123.66 271.74 L123.38 271.01 L123.1 270.3 L122.82 269.62 L122.54 268.98 L122.26 268.4 L122.01 267.87 L121.79 267.42 L121.54 267.05 L121.28 266.76 L121.01 266.52 L120.73 266.28 L120.46 266.05 L120.17 265.85 L119.89 265.68 L119.6 265.55 L119.3 265.47 L119 265.43 L66 265.43 L65.7 265.44 L65.4 265.47 L65.11 265.51 L64.81 265.57 L64.52 265.64 L64.23 265.72 L63.93 265.81 L63.64 265.91 L63.35 266.01 L63.06 266.12 L62.77 266.26 L62.49 266.43 L62.21 266.65 L61.93 266.9 L61.66 267.18 L61.39 267.48 L61.11 267.79 L60.84 268.11 L60.55 268.43 L60.25 268.75 L59.95 269.07 L59.65 269.41 L59.35 269.75 L59.05 270.11 L58.75 270.48 L58.45 270.86 L58.15 271.26 L57.85 271.66 L57.55 272.08 L57.25 272.51 L56.95 272.96 L56.65 273.42 L56.35 273.89 L56.05 274.38 L55.75 274.88 L55.45 275.4 L55.15 275.93 L54.85 276.51 L54.55 277.12 L54.25 277.77 L53.95 278.46 L53.65 279.18 L53.35 279.92 L53.05 280.68 L52.75 281.46 L52.45 282.26 L52.15 283.06 L51.85 283.87 L51.55 284.68 L51.25 285.49 L50.95 286.29 L50.65 287.08 L50.35 287.86 L50.05 288.62 L49.75 289.38 L49.45 290.14 L49.15 290.91 L48.85 291.68 L48.55 292.45 L48.25 293.23 L47.95 294 L47.65 294.78 L47.35 295.56 L47.05 296.33 L46.75 297.1 L46.45 297.88 L46.15 298.64 L45.85 299.41 L45.55 300.17 L45.25 300.92 L44.95 301.67 L44.65 302.45 L44.35 303.3 L44.05 304.18 L43.75 305.09 L43.45 306 L43.15 306.88 L42.85 307.73 L42.55 308.5 L42.25 309.2 L41.95 309.78 L41.63 310.24 L41.26 310.55 L40.93 310.72 L40.59 310.88 L40.26 311.02 L39.94 311.13 L39.62 311.22 L39.3 311.28 L39 311.3 L28.5 311.3 Z" fill="#c6c6c6" stroke="#c6c6c6" stroke-width="0.5" stroke-linejoin="round"/>
<path d="M28.5 310.65 L39 310.65 L39.53 310.63 L39.96 310.57 L40.31 310.48 L40.58 310.36 L40.79 310.21 L40.94 310.04 L41.05 309.86 L41.08 309.64 L41.33 309.26 L41.92 308.73 L42.51 308.08 L43.11 307.36 L43.7 306.61 L44.29 305.86 L44.89 305.15 L45.48 304.41 L46.08 303.64 L46.67 302.83 L47.27 302 L47.86 301.14 L48.46 300.26 L49.06 299.36 L49.66 298.44 L50.25 297.5 L50.85 296.5 L51.45 295.46 L52.05 294.39 L52.66 293.29 L53.26 292.19 L53.86 291.1 L54.46 290.02 L55.06 288.96 L55.66 287.94 L56.26 286.95 L56.86 285.95 L57.46 284.93 L58.06 283.91 L58.66 282.91 L59.26 281.91 L59.86 280.94 L60.46 280.01 L61.05 279.12 L61.65 278.27 L62.25 277.49 L62.84 276.78 L63.43 276.13 L64.02 275.51 L64.61 274.92 L65.2 274.35 L65.79 273.81 L66.38 273.29 L66.97 272.79 L67.56 272.31 L68.15 271.85 L68.73 271.42 L69.32 271.01 L69.91 270.62 L70.49 270.26 L71.08 269.91 L71.66 269.59 L72.25 269.28 L72.83 268.98 L73.41 268.7 L74 268.43 L74.58 268.18 L75.16 267.94 L75.75 267.7 L76.37 267.48 L77.1 267.27 L77.83 267.06 L78.55 266.86 L79.28 266.66 L79.99 266.47 L80.7 266.28 L81.41 266.11 L82.1 265.94 L82.79 265.79 L83.46 265.65 L84.12 265.53 L84.77 265.43 L85.41 265.34 L86.05 265.25 L86.69 265.16 L87.33 265.08 L87.95 265.01 L88.58 264.94 L89.2 264.89 L89.81 264.84 L90.41 264.81 L91 264.78 L119.5 264.78 L120.02 264.85 L120.55 264.95 L121.08 265.06 L121.61 265.19 L122.14 265.34 L122.68 265.49 L123.23 265.67 L123.78 265.87 L124.33 266.1 L124.9 266.35 L125.47 266.63 L126.05 266.92 L126.64 267.23 L127.24 267.56 L127.77 267.9 L128.31 268.27 L128.84 268.68 L129.38 269.13 L129.93 269.63 L130.47 270.15 L131.02 270.71 L131.57 271.28 L132.12 271.87 L132.67 272.48 L133.22 273.09 L133.77 273.7 L134.32 274.31 L134.87 274.91 L135.42 275.5 L135.97 276.07 L136.52 276.62 L137.07 277.18 L137.61 277.74 L138.16 278.31 L138.71 278.87 L139.26 279.44 L139.81 280 L140.35 280.56 L140.9 281.11 L141.45 281.65 L141.99 282.18 L142.54 282.7 L143.08 283.21 L143.63 283.69 L144.17 284.15 L144.71 284.6 L145.25 285.03 L145.79 285.46 L146.32 285.88 L146.86 286.31 L147.4 286.75 L147.94 287.2 L148.49 287.66 L149.03 288.15 L149.57 288.67 L150.12 289.21 L150.67 289.78 L151.22 290.37 L151.77 290.99 L152.32 291.62 L152.88 292.28 L153.43 292.94 L153.99 293.63 L154.54 294.33 L155.1 295.04 L155.66 295.76 L156.22 296.49 L156.78 297.22 L157.34 297.96 L157.9 298.71 L158.46 299.47 L159.02 300.27 L159.59 301.13 L160.16 302.02 L160.73 302.92 L161.3 303.82 L161.87 304.7 L162.43 305.55 L163 306.33 L163.55 307.05 L164.11 307.68 L164.66 308.29 L165.2 308.85 L165.75 309.34 L165.7 309.7 L165.43 309.97 L165.22 310.23 L165.11 310.43 L165.19 310.58 L165.5 310.65 L192.6 310.65 L192.6 311.15 L165.5 311.15 L164.79 311.08 L163.84 310.93 L162.72 310.73 L161.48 310.47 L160.18 310.2 L159.12 309.84 L158.64 309.35 L158.17 308.79 L157.69 308.18 L157.22 307.55 L156.76 306.83 L156.3 306.05 L155.84 305.2 L155.39 304.32 L154.94 303.42 L154.49 302.52 L154.03 301.63 L153.58 300.77 L153.12 299.97 L152.66 299.21 L152.2 298.46 L151.73 297.72 L151.27 296.99 L150.81 296.26 L150.34 295.54 L149.88 294.83 L149.41 294.13 L148.95 293.44 L148.48 292.78 L148.01 292.12 L147.54 291.49 L147.07 290.87 L146.6 290.28 L146.12 289.71 L145.65 289.17 L145.17 288.65 L144.69 288.16 L144.21 287.7 L143.73 287.25 L143.25 286.81 L142.76 286.38 L142.28 285.96 L141.8 285.53 L141.32 285.1 L140.83 284.65 L140.35 284.19 L139.87 283.71 L139.39 283.2 L138.92 282.68 L138.44 282.15 L137.97 281.61 L137.49 281.06 L137.02 280.5 L136.54 279.94 L136.07 279.37 L135.59 278.81 L135.12 278.24 L134.64 277.68 L134.17 277.12 L133.7 276.57 L133.22 276 L132.75 275.41 L132.28 274.81 L131.81 274.2 L131.33 273.59 L130.86 272.98 L130.39 272.37 L129.92 271.78 L129.45 271.21 L128.97 270.65 L128.49 270.13 L128.02 269.63 L127.53 269.18 L127.05 268.77 L126.56 268.4 L126.07 268.06 L125.65 267.73 L125.21 267.42 L124.77 267.13 L124.32 266.85 L123.87 266.6 L123.4 266.37 L122.93 266.17 L122.45 265.99 L121.97 265.84 L121.48 265.69 L120.99 265.56 L120.5 265.45 L120 265.35 L119.5 265.28 L91 265.28 L90.44 265.31 L89.88 265.34 L89.34 265.39 L88.8 265.44 L88.27 265.51 L87.74 265.58 L87.22 265.66 L86.7 265.75 L86.19 265.84 L85.68 265.93 L85.17 266.03 L84.67 266.15 L84.19 266.29 L83.72 266.44 L83.26 266.61 L82.81 266.78 L82.36 266.97 L81.92 267.16 L81.49 267.36 L81.06 267.56 L80.63 267.77 L80.21 267.98 L79.67 268.2 L79.1 268.44 L78.53 268.68 L77.96 268.93 L77.39 269.2 L76.81 269.48 L76.24 269.78 L75.67 270.09 L75.1 270.41 L74.53 270.76 L73.96 271.12 L73.39 271.51 L72.82 271.92 L72.25 272.35 L71.69 272.81 L71.12 273.29 L70.55 273.79 L69.99 274.31 L69.42 274.85 L68.85 275.42 L68.29 276.01 L67.73 276.63 L67.16 277.28 L66.6 277.99 L66.04 278.77 L65.48 279.62 L64.92 280.51 L64.36 281.44 L63.81 282.41 L63.25 283.41 L62.69 284.41 L62.14 285.43 L61.58 286.45 L61.03 287.45 L60.47 288.44 L59.92 289.46 L59.36 290.52 L58.81 291.6 L58.25 292.69 L57.7 293.79 L57.15 294.89 L56.59 295.96 L56.04 297 L55.48 298 L54.92 298.94 L54.36 299.86 L53.81 300.76 L53.25 301.64 L52.69 302.5 L52.13 303.33 L51.57 304.14 L51.01 304.91 L50.45 305.65 L49.88 306.36 L49.32 307.11 L48.76 307.86 L48.2 308.58 L47.64 309.23 L47.07 309.76 L46.16 310.14 L45.04 310.36 L43.99 310.54 L42.99 310.71 L42.04 310.86 L41.16 310.98 L40.35 311.07 L39.63 311.13 L39 311.15 L28.5 311.15 Z" fill="#555" stroke="#555" stroke-width="0.4" stroke-linejoin="round"/>
<path d="M28.5 310.9 L39 310.9 L39.58 310.88 L40.16 310.82 L40.73 310.73 L41.31 310.61 L41.89 310.46 L42.47 310.29 L43.04 310.11 L43.62 309.89 L44.2 309.51 L44.78 308.98 L45.36 308.33 L45.93 307.61 L46.51 306.86 L47.09 306.11 L47.67 305.4 L48.24 304.66 L48.82 303.89 L49.4 303.08 L49.98 302.25 L50.56 301.39 L51.13 300.51 L51.71 299.61 L52.29 298.69 L52.87 297.75 L53.44 296.75 L54.02 295.71 L54.6 294.64 L55.18 293.54 L55.76 292.44 L56.33 291.35 L56.91 290.27 L57.49 289.21 L58.07 288.19 L58.64 287.2 L59.22 286.2 L59.8 285.18 L60.38 284.16 L60.96 283.16 L61.53 282.16 L62.11 281.19 L62.69 280.26 L63.27 279.37 L63.84 278.52 L64.42 277.74 L65 277.03 L65.58 276.38 L66.16 275.76 L66.73 275.17 L67.31 274.6 L67.89 274.06 L68.47 273.54 L69.04 273.04 L69.62 272.56 L70.2 272.1 L70.78 271.67 L71.36 271.26 L71.93 270.87 L72.51 270.51 L73.09 270.16 L73.67 269.84 L74.24 269.53 L74.82 269.23 L75.4 268.95 L75.98 268.68 L76.56 268.43 L77.13 268.19 L77.71 267.95 L78.29 267.73 L78.87 267.52 L79.44 267.31 L80.02 267.11 L80.6 266.91 L81.18 266.72 L81.76 266.53 L82.33 266.36 L82.91 266.19 L83.49 266.04 L84.07 265.9 L84.64 265.78 L85.22 265.68 L85.8 265.59 L86.38 265.5 L86.96 265.41 L87.53 265.33 L88.11 265.26 L88.69 265.19 L89.27 265.14 L89.84 265.09 L90.42 265.06 L91 265.03 L119.5 265.03 L120.01 265.1 L120.52 265.2 L121.03 265.31 L121.54 265.44 L122.06 265.59 L122.57 265.74 L123.08 265.92 L123.59 266.12 L124.1 266.35 L124.61 266.6 L125.12 266.88 L125.63 267.17 L126.14 267.48 L126.66 267.81 L127.17 268.15 L127.68 268.52 L128.19 268.93 L128.7 269.38 L129.21 269.88 L129.72 270.4 L130.23 270.96 L130.74 271.53 L131.26 272.12 L131.77 272.73 L132.28 273.34 L132.79 273.95 L133.3 274.56 L133.81 275.16 L134.32 275.75 L134.83 276.32 L135.34 276.87 L135.86 277.43 L136.37 277.99 L136.88 278.56 L137.39 279.12 L137.9 279.69 L138.41 280.25 L138.92 280.81 L139.43 281.36 L139.94 281.9 L140.46 282.43 L140.97 282.95 L141.48 283.46 L141.99 283.94 L142.5 284.4 L143.01 284.85 L143.52 285.28 L144.03 285.71 L144.54 286.13 L145.06 286.56 L145.57 287 L146.08 287.45 L146.59 287.91 L147.1 288.4 L147.61 288.92 L148.12 289.46 L148.63 290.03 L149.14 290.62 L149.66 291.24 L150.17 291.87 L150.68 292.53 L151.19 293.19 L151.7 293.88 L152.21 294.58 L152.72 295.29 L153.23 296.01 L153.74 296.74 L154.26 297.47 L154.77 298.21 L155.28 298.96 L155.79 299.72 L156.3 300.52 L156.81 301.38 L157.32 302.27 L157.83 303.17 L158.34 304.07 L158.86 304.95 L159.37 305.8 L159.88 306.58 L160.39 307.3 L160.9 307.93 L161.41 308.54 L161.92 309.1 L162.43 309.59 L162.94 309.95 L163.46 310.22 L163.97 310.48 L164.48 310.68 L164.99 310.83 L165.5 310.9 L192.6 310.9" fill="none" stroke="#000" stroke-width="1.1" stroke-linejoin="round"/>
<path d="M28.5 310.9 L33.4 310.9 L33.7 310.87 L33.99 310.76 L34.29 310.59 L34.59 310.36 L34.89 310.05 L35.19 309.68 L35.48 309.24 L35.78 308.73 L36.08 308.15 L36.38 307.51 L36.67 306.86 L36.97 306.21 L37.27 305.56 L37.56 304.91 L37.86 304.25 L38.16 303.6 L38.46 302.95 L38.76 302.3 L39.05 301.65 L39.35 301 L39.65 300.35 L39.95 299.69 L40.24 299.04 L40.54 298.39 L40.84 297.74 L41.13 297.09 L41.43 296.44 L41.73 295.78 L42.03 295.13 L42.33 294.48 L42.62 293.83 L42.92 293.18 L43.22 292.53 L43.52 291.88 L43.81 291.22 L44.11 290.57 L44.41 289.92 L44.7 289.27 L45 288.62 L45.3 287.97 L45.6 287.32 L45.89 286.66 L46.19 286.01 L46.49 285.36 L46.79 284.71 L47.09 284.06 L47.38 283.41 L47.68 282.75 L47.98 282.1 L48.28 281.45 L48.57 280.8 L48.87 280.15 L49.17 279.5 L49.47 278.85 L49.76 278.19 L50.06 277.54 L50.36 276.89 L50.66 276.24 L50.95 275.59 L51.25 274.94 L51.55 274.28 L51.84 273.63 L52.14 272.98 L52.44 272.33 L52.74 271.68 L53.03 271.03 L53.33 270.38 L53.63 269.72 L53.93 269.07 L54.23 268.42 L54.52 267.78 L54.82 267.21 L55.12 266.7 L55.42 266.25 L55.71 265.88 L56.01 265.58 L56.31 265.34 L56.61 265.17 L56.9 265.07 L57.2 265.03 L113.6 265.03 L113.92 265.07 L114.23 265.17 L114.55 265.34 L114.87 265.58 L115.19 265.88 L115.5 266.25 L115.82 266.7 L116.14 267.21 L116.46 267.78 L116.77 268.42 L117.09 269.07 L117.41 269.72 L117.73 270.38 L118.05 271.03 L118.36 271.68 L118.68 272.33 L119 272.98 L119.31 273.63 L119.63 274.28 L119.95 274.94 L120.27 275.59 L120.58 276.24 L120.9 276.89 L121.22 277.54 L121.54 278.19 L121.85 278.85 L122.17 279.5 L122.49 280.15 L122.81 280.8 L123.12 281.45 L123.44 282.1 L123.76 282.75 L124.08 283.41 L124.39 284.06 L124.71 284.71 L125.03 285.36 L125.35 286.01 L125.66 286.66 L125.98 287.32 L126.3 287.97 L126.62 288.62 L126.94 289.27 L127.25 289.92 L127.57 290.57 L127.89 291.22 L128.2 291.88 L128.52 292.53 L128.84 293.18 L129.16 293.83 L129.47 294.48 L129.79 295.13 L130.11 295.78 L130.43 296.44 L130.75 297.09 L131.06 297.74 L131.38 298.39 L131.7 299.04 L132.01 299.69 L132.33 300.35 L132.65 301 L132.97 301.65 L133.28 302.3 L133.6 302.95 L133.92 303.6 L134.24 304.25 L134.56 304.91 L134.87 305.56 L135.19 306.21 L135.51 306.86 L135.82 307.51 L136.14 308.15 L136.46 308.73 L136.78 309.24 L137.09 309.68 L137.41 310.05 L137.73 310.36 L138.05 310.59 L138.37 310.76 L138.68 310.87 L139 310.9 L192.6 310.9" fill="none" stroke="#111" stroke-width="1.2" stroke-dasharray="4.6 3.6" stroke-linejoin="round"/>
<path d="M28.5 337.3 V394.8" stroke="#a4a4a4" stroke-width="0.8" fill="none"/>
<path d="M28.5 337.3 h2.5" stroke="#a4a4a4" stroke-width="0.8"/>
<path d="M28.5 389.3 H170.8" stroke="#dedede" stroke-width="0.8"/>
<text x="24.3" y="340.8" text-anchor="end" font-family='"Liberation Serif", serif' font-size="10.6" fill="#666">90</text>
<text x="24.3" y="392.3" text-anchor="end" font-family='"Liberation Serif", serif' font-size="10.6" fill="#666">0</text>
<path d="M28.5 388.4 L36.5 388.4 L36.71 388.39 L36.89 388.35 L37.05 388.3 L37.19 388.22 L37.31 388.13 L37.41 388.03 L37.5 387.92 L37.58 387.79 L37.65 387.66 L37.72 387.53 L37.77 387.39 L37.83 387.22 L38.05 387.01 L38.26 386.77 L38.48 386.51 L38.69 386.21 L38.91 385.9 L39.12 385.56 L39.33 385.2 L39.54 384.83 L39.75 384.44 L39.96 384.03 L40.17 383.61 L40.38 383.13 L40.59 382.59 L40.8 382 L41 381.36 L41.2 380.68 L41.4 379.96 L41.61 379.19 L41.8 378.4 L42 377.57 L42.2 376.72 L42.4 375.85 L42.6 374.96 L42.79 374.05 L42.99 373.13 L43.18 372.21 L43.38 371.28 L43.58 370.36 L43.77 369.44 L43.97 368.53 L44.17 367.63 L44.36 366.75 L44.56 365.89 L44.76 365.04 L44.96 364.16 L45.15 363.24 L45.35 362.29 L45.54 361.32 L45.74 360.33 L45.93 359.33 L46.12 358.32 L46.32 357.32 L46.51 356.32 L46.71 355.34 L46.9 354.38 L47.1 353.45 L47.29 352.55 L47.49 351.69 L47.69 350.88 L47.89 350.13 L48.09 349.43 L48.3 348.8 L48.5 348.24 L48.71 347.75 L48.92 347.26 L49.13 346.8 L49.34 346.35 L49.55 345.93 L49.76 345.54 L50.16 345.17 L50.67 344.84 L51.16 344.55 L51.61 344.29 L52.03 344.08 L52.4 343.91 L52.77 343.76 L53.14 343.6 L53.5 343.46 L53.85 343.32 L54.19 343.18 L54.53 343.06 L54.85 342.95 L55.17 342.86 L55.46 342.78 L55.75 342.71 L56.02 342.66 L56.27 342.63 L56.5 342.62 L107 342.62 L107.25 342.69 L107.5 342.79 L107.76 342.91 L108.02 343.06 L108.3 343.23 L108.57 343.41 L108.86 343.61 L109.14 343.83 L109.43 344.04 L109.73 344.29 L110.03 344.58 L110.35 344.9 L110.69 345.25 L110.95 345.63 L111.19 346.04 L111.43 346.47 L111.67 346.93 L111.9 347.42 L112.14 347.92 L112.38 348.43 L112.62 348.97 L112.86 349.52 L113.1 350.11 L113.34 350.76 L113.59 351.47 L113.83 352.23 L114.08 353.04 L114.32 353.9 L114.57 354.78 L114.82 355.7 L115.07 356.63 L115.32 357.59 L115.56 358.56 L115.81 359.53 L116.06 360.5 L116.31 361.47 L116.56 362.43 L116.81 363.37 L117.06 364.28 L117.3 365.17 L117.55 366.04 L117.8 366.93 L118.05 367.85 L118.29 368.78 L118.54 369.73 L118.79 370.69 L119.04 371.65 L119.29 372.61 L119.54 373.56 L119.79 374.49 L120.03 375.41 L120.28 376.3 L120.53 377.16 L120.77 377.98 L121.02 378.77 L121.26 379.51 L121.5 380.2 L121.75 380.83 L121.99 381.39 L122.22 381.91 L122.46 382.41 L122.7 382.9 L122.94 383.38 L123.18 383.83 L123.42 384.27 L123.65 384.68 L123.89 385.07 L124.12 385.42 L124.36 385.74 L124.59 386.03 L124.83 386.28 L125.06 386.49 L125.29 386.66 L125.52 386.83 L125.75 386.99 L125.98 387.15 L126.16 387.3 L126.17 387.44 L126.2 387.58 L126.24 387.71 L126.29 387.83 L126.36 387.94 L126.44 388.04 L126.53 388.13 L126.64 388.21 L126.77 388.28 L126.92 388.33 L127.09 388.37 L127.28 388.39 L127.5 388.4 L170.8 388.4 L170.8 389.2 L127.5 389.2 L127.26 389.19 L127 389.17 L126.71 389.13 L126.41 389.08 L126.08 389.01 L125.74 388.93 L125.38 388.84 L125 388.74 L124.61 388.63 L124.2 388.51 L123.79 388.38 L123.36 388.24 L122.92 388.1 L122.64 387.95 L122.41 387.79 L122.19 387.63 L121.97 387.46 L121.74 387.29 L121.52 387.08 L121.3 386.83 L121.07 386.54 L120.85 386.22 L120.63 385.87 L120.41 385.48 L120.2 385.07 L119.98 384.63 L119.76 384.18 L119.54 383.7 L119.33 383.21 L119.11 382.71 L118.89 382.19 L118.68 381.63 L118.46 381 L118.25 380.31 L118.04 379.57 L117.83 378.78 L117.62 377.96 L117.41 377.1 L117.2 376.21 L116.99 375.29 L116.79 374.36 L116.58 373.41 L116.37 372.45 L116.16 371.49 L115.96 370.53 L115.75 369.58 L115.54 368.65 L115.34 367.73 L115.13 366.84 L114.92 365.97 L114.71 365.08 L114.5 364.17 L114.3 363.23 L114.09 362.27 L113.88 361.3 L113.68 360.33 L113.47 359.36 L113.26 358.39 L113.06 357.43 L112.85 356.5 L112.64 355.58 L112.43 354.7 L112.22 353.84 L112.01 353.03 L111.8 352.27 L111.59 351.56 L111.38 350.91 L111.16 350.32 L110.94 349.77 L110.73 349.23 L110.51 348.72 L110.3 348.22 L110.08 347.73 L109.86 347.27 L109.64 346.84 L109.42 346.43 L109.24 346.05 L109.11 345.7 L108.98 345.38 L108.83 345.09 L108.67 344.84 L108.5 344.63 L108.33 344.41 L108.16 344.21 L107.98 344.03 L107.8 343.86 L107.61 343.71 L107.41 343.59 L107.21 343.49 L107 343.42 L56.5 343.42 L56.29 343.43 L56.09 343.46 L55.92 343.51 L55.76 343.58 L55.61 343.66 L55.48 343.75 L55.36 343.86 L55.25 343.98 L55.15 344.12 L55.06 344.26 L54.97 344.4 L54.89 344.56 L54.82 344.71 L54.75 344.88 L54.72 345.09 L54.73 345.35 L54.77 345.64 L54.84 345.97 L54.8 346.34 L54.56 346.73 L54.33 347.15 L54.09 347.6 L53.86 348.06 L53.62 348.55 L53.38 349.04 L53.15 349.6 L52.91 350.23 L52.66 350.93 L52.42 351.68 L52.18 352.49 L51.93 353.35 L51.68 354.25 L51.43 355.18 L51.18 356.14 L50.93 357.12 L50.68 358.12 L50.43 359.12 L50.18 360.13 L49.93 361.13 L49.68 362.12 L49.43 363.09 L49.18 364.04 L48.93 364.96 L48.69 365.84 L48.44 366.69 L48.19 367.55 L47.95 368.43 L47.7 369.33 L47.45 370.24 L47.2 371.16 L46.95 372.08 L46.7 373.01 L46.46 373.93 L46.21 374.85 L45.96 375.76 L45.71 376.65 L45.47 377.52 L45.22 378.37 L44.97 379.2 L44.73 379.99 L44.48 380.76 L44.24 381.48 L44 382.16 L43.76 382.8 L43.52 383.39 L43.28 383.93 L43.05 384.41 L42.81 384.83 L42.58 385.24 L42.35 385.63 L42.11 386 L41.88 386.36 L41.65 386.7 L41.42 387.01 L41.19 387.31 L40.96 387.57 L40.73 387.81 L40.5 388.02 L40.12 388.19 L39.73 388.33 L39.35 388.46 L38.98 388.59 L38.61 388.72 L38.26 388.83 L37.92 388.93 L37.59 389.02 L37.28 389.1 L37 389.15 L36.74 389.19 L36.5 389.2 L28.5 389.2 Z" fill="#dadada" stroke="#dadada" stroke-width="0.5" stroke-linejoin="round"/>
<path d="M28.5 388.55 L36 388.55 L36.5 388.53 L36.9 388.48 L37.21 388.4 L37.46 388.29 L37.65 388.17 L37.81 388.04 L37.94 387.89 L38.01 387.73 L37.93 387.51 L38.18 387.24 L38.74 386.93 L39.3 386.58 L39.86 386.19 L40.43 385.78 L40.99 385.35 L41.55 384.9 L42.12 384.44 L42.68 383.97 L43.24 383.48 L43.81 382.95 L44.37 382.37 L44.94 381.76 L45.51 381.11 L46.08 380.43 L46.64 379.72 L47.21 378.98 L47.78 378.23 L48.35 377.45 L48.92 376.65 L49.49 375.78 L50.06 374.84 L50.63 373.85 L51.21 372.82 L51.78 371.76 L52.36 370.69 L52.93 369.63 L53.5 368.57 L54.08 367.54 L54.65 366.56 L55.22 365.62 L55.79 364.72 L56.37 363.81 L56.94 362.91 L57.51 362.02 L58.08 361.13 L58.65 360.26 L59.22 359.4 L59.79 358.56 L60.36 357.75 L60.93 356.96 L61.5 356.19 L62.07 355.46 L62.63 354.76 L63.2 354.1 L63.77 353.46 L64.34 352.83 L64.9 352.21 L65.47 351.61 L66.03 351.03 L66.6 350.47 L67.16 349.93 L67.73 349.41 L68.29 348.91 L68.86 348.44 L69.42 348 L69.98 347.58 L70.54 347.2 L71.11 346.83 L71.67 346.46 L72.23 346.11 L72.79 345.77 L73.42 345.45 L74.26 345.15 L75.09 344.88 L75.89 344.63 L76.66 344.4 L77.4 344.21 L78.11 344.05 L78.82 343.89 L79.53 343.73 L80.23 343.58 L80.92 343.44 L81.61 343.3 L82.28 343.18 L82.94 343.07 L83.59 342.97 L84.22 342.89 L84.83 342.83 L85.43 342.79 L86 342.77 L109.5 342.77 L109.96 342.79 L110.44 342.85 L110.95 342.95 L111.47 343.06 L112.01 343.2 L112.55 343.35 L113.1 343.5 L113.68 343.7 L114.3 343.95 L114.95 344.25 L115.64 344.59 L116.35 344.95 L117.08 345.33 L117.68 345.73 L118.14 346.13 L118.61 346.56 L119.08 347.02 L119.55 347.52 L120.02 348.05 L120.49 348.6 L120.97 349.17 L121.44 349.76 L121.92 350.36 L122.4 350.97 L122.87 351.59 L123.35 352.21 L123.83 352.84 L124.3 353.45 L124.78 354.07 L125.26 354.67 L125.73 355.28 L126.21 355.9 L126.69 356.53 L127.17 357.17 L127.64 357.81 L128.12 358.45 L128.6 359.1 L129.08 359.76 L129.56 360.42 L130.04 361.08 L130.52 361.75 L131 362.42 L131.48 363.09 L131.96 363.76 L132.44 364.44 L132.92 365.12 L133.4 365.8 L133.88 366.48 L134.36 367.18 L134.84 367.89 L135.32 368.6 L135.8 369.32 L136.29 370.04 L136.77 370.76 L137.25 371.49 L137.73 372.21 L138.21 372.93 L138.7 373.65 L139.18 374.36 L139.66 375.06 L140.14 375.75 L140.62 376.44 L141.1 377.11 L141.58 377.77 L142.06 378.45 L142.54 379.13 L143.02 379.81 L143.5 380.49 L143.98 381.15 L144.46 381.8 L144.94 382.44 L145.41 383.05 L145.89 383.63 L146.36 384.19 L146.83 384.7 L147.3 385.19 L147.77 385.69 L148.24 386.17 L148.71 386.62 L149.18 387.03 L149.64 387.36 L149.35 387.61 L149.14 387.79 L148.96 387.97 L148.83 388.12 L148.77 388.26 L148.78 388.38 L148.9 388.47 L149.13 388.53 L149.5 388.55 L170.8 388.55 L170.8 389.05 L149.5 389.05 L148.98 389.03 L148.33 388.97 L147.55 388.88 L146.68 388.76 L145.72 388.62 L144.7 388.47 L143.64 388.29 L142.54 388.11 L141.36 387.86 L140.94 387.53 L140.51 387.12 L140.09 386.67 L139.67 386.19 L139.25 385.69 L138.83 385.2 L138.42 384.69 L138 384.13 L137.59 383.55 L137.18 382.94 L136.76 382.3 L136.35 381.65 L135.94 380.99 L135.54 380.31 L135.13 379.63 L134.72 378.95 L134.31 378.27 L133.9 377.61 L133.49 376.94 L133.08 376.25 L132.67 375.56 L132.27 374.86 L131.86 374.15 L131.45 373.43 L131.05 372.71 L130.64 371.99 L130.23 371.26 L129.83 370.54 L129.42 369.82 L129.01 369.1 L128.61 368.39 L128.2 367.68 L127.79 366.98 L127.38 366.3 L126.97 365.62 L126.56 364.94 L126.15 364.26 L125.75 363.59 L125.34 362.92 L124.93 362.25 L124.52 361.58 L124.11 360.92 L123.7 360.26 L123.29 359.6 L122.88 358.95 L122.47 358.31 L122.06 357.67 L121.65 357.03 L121.23 356.4 L120.82 355.78 L120.41 355.17 L120 354.57 L119.58 353.95 L119.17 353.34 L118.76 352.71 L118.35 352.09 L117.94 351.47 L117.52 350.86 L117.11 350.26 L116.7 349.67 L116.28 349.1 L115.87 348.55 L115.45 348.02 L115.03 347.52 L114.61 347.06 L114.19 346.63 L113.77 346.23 L113.47 345.83 L113.32 345.45 L113.14 345.09 L112.93 344.75 L112.7 344.45 L112.43 344.2 L112.12 344 L111.78 343.85 L111.44 343.7 L111.09 343.56 L110.72 343.45 L110.33 343.35 L109.93 343.29 L109.5 343.27 L86 343.27 L85.46 343.29 L84.95 343.33 L84.45 343.39 L83.97 343.47 L83.51 343.57 L83.06 343.68 L82.62 343.8 L82.19 343.94 L81.77 344.08 L81.36 344.23 L80.95 344.39 L80.55 344.55 L80.15 344.71 L79.78 344.9 L79.44 345.13 L79.13 345.38 L78.85 345.65 L78.58 345.95 L78.1 346.27 L77.55 346.61 L77 346.96 L76.45 347.33 L75.9 347.7 L75.35 348.08 L74.8 348.5 L74.25 348.94 L73.71 349.41 L73.16 349.91 L72.61 350.43 L72.07 350.97 L71.52 351.53 L70.98 352.11 L70.43 352.71 L69.89 353.33 L69.34 353.96 L68.8 354.6 L68.25 355.26 L67.71 355.96 L67.17 356.69 L66.63 357.46 L66.08 358.25 L65.54 359.06 L65 359.9 L64.46 360.76 L63.92 361.63 L63.38 362.52 L62.84 363.41 L62.3 364.31 L61.76 365.22 L61.22 366.12 L60.68 367.06 L60.14 368.04 L59.61 369.07 L59.07 370.13 L58.53 371.19 L58 372.26 L57.46 373.32 L56.92 374.35 L56.38 375.34 L55.84 376.28 L55.3 377.15 L54.76 377.95 L54.22 378.73 L53.68 379.48 L53.13 380.22 L52.59 380.93 L52.05 381.61 L51.5 382.26 L50.96 382.87 L50.41 383.45 L49.87 383.98 L49.32 384.47 L48.77 384.94 L48.23 385.4 L47.68 385.85 L47.13 386.28 L46.58 386.69 L46.03 387.08 L45.48 387.43 L44.93 387.74 L44.07 388.01 L42.87 388.23 L41.84 388.39 L40.86 388.54 L39.9 388.67 L38.98 388.79 L38.12 388.9 L37.32 388.98 L36.61 389.03 L36 389.05 L28.5 389.05 Z" fill="#555" stroke="#555" stroke-width="0.4" stroke-linejoin="round"/>
<path d="M28.5 388.8 L36 388.8 L36.56 388.78 L37.11 388.73 L37.67 388.65 L38.22 388.54 L38.78 388.42 L39.33 388.29 L39.89 388.14 L40.44 387.98 L41 387.76 L41.56 387.49 L42.11 387.18 L42.67 386.83 L43.22 386.44 L43.78 386.03 L44.33 385.6 L44.89 385.15 L45.44 384.69 L46 384.22 L46.56 383.73 L47.11 383.2 L47.67 382.62 L48.22 382.01 L48.78 381.36 L49.33 380.68 L49.89 379.97 L50.44 379.23 L51 378.48 L51.56 377.7 L52.11 376.9 L52.67 376.03 L53.22 375.09 L53.78 374.1 L54.33 373.07 L54.89 372.01 L55.44 370.94 L56 369.88 L56.56 368.82 L57.11 367.79 L57.67 366.81 L58.22 365.87 L58.78 364.97 L59.33 364.06 L59.89 363.16 L60.44 362.27 L61 361.38 L61.56 360.51 L62.11 359.65 L62.67 358.81 L63.22 358 L63.78 357.21 L64.33 356.44 L64.89 355.71 L65.44 355.01 L66 354.35 L66.56 353.71 L67.11 353.08 L67.67 352.46 L68.22 351.86 L68.78 351.28 L69.33 350.72 L69.89 350.18 L70.44 349.66 L71 349.16 L71.56 348.69 L72.11 348.25 L72.67 347.83 L73.22 347.45 L73.78 347.08 L74.33 346.71 L74.89 346.36 L75.44 346.02 L76 345.7 L76.56 345.4 L77.11 345.13 L77.67 344.88 L78.22 344.65 L78.78 344.46 L79.33 344.3 L79.89 344.14 L80.44 343.98 L81 343.83 L81.56 343.69 L82.11 343.55 L82.67 343.43 L83.22 343.32 L83.78 343.22 L84.33 343.14 L84.89 343.08 L85.44 343.04 L86 343.02 L109.5 343.02 L109.94 343.04 L110.39 343.1 L110.83 343.2 L111.28 343.31 L111.72 343.45 L112.17 343.6 L112.61 343.75 L113.06 343.95 L113.5 344.2 L113.94 344.5 L114.39 344.84 L114.83 345.2 L115.28 345.58 L115.72 345.98 L116.17 346.38 L116.61 346.81 L117.06 347.27 L117.5 347.77 L117.94 348.3 L118.39 348.85 L118.83 349.42 L119.28 350.01 L119.72 350.61 L120.17 351.22 L120.61 351.84 L121.06 352.46 L121.5 353.09 L121.94 353.7 L122.39 354.32 L122.83 354.92 L123.28 355.53 L123.72 356.15 L124.17 356.78 L124.61 357.42 L125.06 358.06 L125.5 358.7 L125.94 359.35 L126.39 360.01 L126.83 360.67 L127.28 361.33 L127.72 362 L128.17 362.67 L128.61 363.34 L129.06 364.01 L129.5 364.69 L129.94 365.37 L130.39 366.05 L130.83 366.73 L131.28 367.43 L131.72 368.14 L132.17 368.85 L132.61 369.57 L133.06 370.29 L133.5 371.01 L133.94 371.74 L134.39 372.46 L134.83 373.18 L135.28 373.9 L135.72 374.61 L136.17 375.31 L136.61 376 L137.06 376.69 L137.5 377.36 L137.94 378.02 L138.39 378.7 L138.83 379.38 L139.28 380.06 L139.72 380.74 L140.17 381.4 L140.61 382.05 L141.06 382.69 L141.5 383.3 L141.94 383.88 L142.39 384.44 L142.83 384.95 L143.28 385.44 L143.72 385.94 L144.17 386.42 L144.61 386.87 L145.06 387.28 L145.5 387.61 L145.94 387.86 L146.39 388.04 L146.83 388.22 L147.28 388.37 L147.72 388.51 L148.17 388.63 L148.61 388.72 L149.06 388.78 L149.5 388.8 L170.8 388.8" fill="none" stroke="#000" stroke-width="1.1" stroke-linejoin="round"/>
<path d="M28.5 388.8 L31.6 388.8 L31.81 388.77 L32.02 388.66 L32.24 388.5 L32.45 388.26 L32.66 387.95 L32.88 387.58 L33.09 387.14 L33.3 386.63 L33.51 386.06 L33.73 385.42 L33.94 384.77 L34.15 384.12 L34.36 383.47 L34.58 382.82 L34.79 382.17 L35 381.52 L35.21 380.87 L35.43 380.22 L35.64 379.57 L35.85 378.92 L36.06 378.27 L36.27 377.62 L36.49 376.97 L36.7 376.32 L36.91 375.66 L37.12 375.01 L37.34 374.36 L37.55 373.71 L37.76 373.06 L37.98 372.41 L38.19 371.76 L38.4 371.11 L38.61 370.46 L38.83 369.81 L39.04 369.16 L39.25 368.51 L39.46 367.86 L39.67 367.21 L39.89 366.56 L40.1 365.91 L40.31 365.26 L40.53 364.61 L40.74 363.96 L40.95 363.31 L41.16 362.66 L41.38 362.01 L41.59 361.36 L41.8 360.71 L42.01 360.06 L42.23 359.41 L42.44 358.76 L42.65 358.11 L42.86 357.46 L43.08 356.81 L43.29 356.16 L43.5 355.51 L43.71 354.86 L43.92 354.21 L44.14 353.56 L44.35 352.91 L44.56 352.26 L44.78 351.61 L44.99 350.96 L45.2 350.31 L45.41 349.65 L45.62 349 L45.84 348.35 L46.05 347.7 L46.26 347.05 L46.48 346.4 L46.69 345.77 L46.9 345.19 L47.11 344.68 L47.33 344.24 L47.54 343.87 L47.75 343.56 L47.96 343.33 L48.17 343.16 L48.39 343.06 L48.6 343.02 L101.4 343.02 L101.61 343.06 L101.83 343.16 L102.04 343.33 L102.25 343.56 L102.46 343.87 L102.68 344.24 L102.89 344.68 L103.1 345.19 L103.31 345.77 L103.53 346.4 L103.74 347.05 L103.95 347.7 L104.16 348.35 L104.38 349 L104.59 349.65 L104.8 350.31 L105.01 350.96 L105.23 351.61 L105.44 352.26 L105.65 352.91 L105.86 353.56 L106.08 354.21 L106.29 354.86 L106.5 355.51 L106.71 356.16 L106.93 356.81 L107.14 357.46 L107.35 358.11 L107.56 358.76 L107.78 359.41 L107.99 360.06 L108.2 360.71 L108.41 361.36 L108.62 362.01 L108.84 362.66 L109.05 363.31 L109.26 363.96 L109.48 364.61 L109.69 365.26 L109.9 365.91 L110.11 366.56 L110.33 367.21 L110.54 367.86 L110.75 368.51 L110.96 369.16 L111.18 369.81 L111.39 370.46 L111.6 371.11 L111.81 371.76 L112.03 372.41 L112.24 373.06 L112.45 373.71 L112.66 374.36 L112.88 375.01 L113.09 375.66 L113.3 376.32 L113.51 376.97 L113.73 377.62 L113.94 378.27 L114.15 378.92 L114.36 379.57 L114.58 380.22 L114.79 380.87 L115 381.52 L115.21 382.17 L115.43 382.82 L115.64 383.47 L115.85 384.12 L116.06 384.77 L116.28 385.42 L116.49 386.06 L116.7 386.63 L116.91 387.14 L117.12 387.58 L117.34 387.95 L117.55 388.26 L117.76 388.5 L117.98 388.66 L118.19 388.77 L118.4 388.8 L170.8 388.8" fill="none" stroke="#111" stroke-width="1.2" stroke-dasharray="4.6 3.6" stroke-linejoin="round"/>
<path d="M28.5 394.9 H259.6" stroke="#a4a4a4" stroke-width="0.9"/>
<path d="M28.5 394.9 v-2.4" stroke="#a4a4a4" stroke-width="0.8"/>
<text x="28.5" y="408" text-anchor="middle" font-family='"Liberation Serif", serif' font-size="10.6" fill="#666">0</text>
<path d="M61.5 394.9 v-2.4" stroke="#a4a4a4" stroke-width="0.8"/>
<text x="61.5" y="408" text-anchor="middle" font-family='"Liberation Serif", serif' font-size="10.6" fill="#666">2</text>
<path d="M94.5 394.9 v-2.4" stroke="#a4a4a4" stroke-width="0.8"/>
<text x="94.5" y="408" text-anchor="middle" font-family='"Liberation Serif", serif' font-size="10.6" fill="#666">4</text>
<path d="M127.5 394.9 v-2.4" stroke="#a4a4a4" stroke-width="0.8"/>
<text x="127.5" y="408" text-anchor="middle" font-family='"Liberation Serif", serif' font-size="10.6" fill="#666">6</text>
<path d="M160.5 394.9 v-2.4" stroke="#a4a4a4" stroke-width="0.8"/>
<text x="160.5" y="408" text-anchor="middle" font-family='"Liberation Serif", serif' font-size="10.6" fill="#666">8</text>
<path d="M193.5 394.9 v-2.4" stroke="#a4a4a4" stroke-width="0.8"/>
<text x="193.5" y="408" text-anchor="middle" font-family='"Liberation Serif", serif' font-size="10.6" fill="#666">10</text>
<path d="M226.5 394.9 v-2.4" stroke="#a4a4a4" stroke-width="0.8"/>
<text x="226.5" y="408" text-anchor="middle" font-family='"Liberation Serif", serif' font-size="10.6" fill="#666">12</text>
<path d="M259.5 394.9 v-2.4" stroke="#a4a4a4" stroke-width="0.8"/>
<text x="259.5" y="408" text-anchor="middle" font-family='"Liberation Serif", serif' font-size="10.6" fill="#666">14</text>
<text x="143.8" y="421.6" text-anchor="middle" font-family='"Liberation Serif", serif' font-size="12" fill="#555" textLength="40" lengthAdjust="spacingAndGlyphs">Time [s]</text>
<text transform="translate(10.3 283.4) rotate(-90)" text-anchor="middle" font-family='"Liberation Serif", serif' font-size="12.6" fill="#555" textLength="75.7" lengthAdjust="spacingAndGlyphs">nt Angle [deg]</text>
<rect x="194.6" y="265.2" width="18" height="8.7" fill="#cccccc"/>
<rect x="194.6" y="279.0" width="18" height="8.5" fill="#000"/>
<path d="M195.9 294.8 H209" stroke="#111" stroke-width="1.2" stroke-dasharray="4.5 3.9"/>
<text x="214.8" y="272.7" font-family='"Liberation Serif", serif' font-size="11.5" fill="#111" stroke="#111" stroke-width="0.22" textLength="54" lengthAdjust="spacingAndGlyphs">Unpowered</text>
<text x="214.8" y="286.8" font-family='"Liberation Serif", serif' font-size="11.5" fill="#111" stroke="#111" stroke-width="0.22" textLength="42.2" lengthAdjust="spacingAndGlyphs">Powered</text>
<text x="214.8" y="299.1" font-family='"Liberation Serif", serif' font-size="11.5" fill="#111" stroke="#111" stroke-width="0.22" textLength="46.9" lengthAdjust="spacingAndGlyphs">Reference</text>
<text x="143.2" y="460.4" text-anchor="middle" font-family='"Liberation Sans", sans-serif' font-weight="bold" font-size="20" fill="#111">(b)</text>
</g>
<g id="panel-c">
<rect x="441.3" y="192.4" width="62.5" height="202.9" fill="#ededed"/>
<path d="M313 361.38 H441.3" stroke="#ececec" stroke-width="0.9"/>
<path d="M441.3 361.38 H503.8" stroke="#f8f8f8" stroke-width="0.9"/>
<path d="M313 327.46 H441.3" stroke="#ececec" stroke-width="0.9"/>
<path d="M441.3 327.46 H503.8" stroke="#f8f8f8" stroke-width="0.9"/>
<path d="M313 293.54 H441.3" stroke="#ececec" stroke-width="0.9"/>
<path d="M441.3 293.54 H503.8" stroke="#f8f8f8" stroke-width="0.9"/>
<path d="M313 259.62 H441.3" stroke="#ececec" stroke-width="0.9"/>
<path d="M441.3 259.62 H503.8" stroke="#f8f8f8" stroke-width="0.9"/>
<path d="M313 225.7 H441.3" stroke="#ececec" stroke-width="0.9"/>
<path d="M441.3 225.7 H503.8" stroke="#f8f8f8" stroke-width="0.9"/>
<rect x="317.6" y="230.96" width="18.6" height="164.34" fill="#c6c6c6"/>
<rect x="331.5" y="236.89" width="18.6" height="158.41" fill="#000"/>
<path d="M326.6 230.36 V231.56 M323.8 230.36 h5.6 M323.8 231.56 h5.6" stroke="#111" stroke-width="0.9" fill="none"/>
<path d="M340.8 235.19 V236.89 M338.2 235.19 h5.2" stroke="#111" stroke-width="0.9" fill="none"/>
<rect x="357.5" y="240.12" width="18.6" height="155.18" fill="#c6c6c6"/>
<rect x="371.4" y="264.03" width="18.6" height="131.27" fill="#000"/>
<path d="M366.5 238.82 V241.42 M363.7 238.82 h5.6 M363.7 241.42 h5.6" stroke="#111" stroke-width="0.9" fill="none"/>
<path d="M380.7 255.73 V264.03 M378.1 255.73 h5.2" stroke="#111" stroke-width="0.9" fill="none"/>
<rect x="397.4" y="253.18" width="18.6" height="142.12" fill="#c6c6c6"/>
<rect x="410.9" y="280.99" width="18.6" height="114.31" fill="#000"/>
<path d="M406.4 251.78 V254.58 M403.6 251.78 h5.6 M403.6 254.58 h5.6" stroke="#111" stroke-width="0.9" fill="none"/>
<path d="M420.2 269.99 V280.99 M417.6 269.99 h5.2" stroke="#111" stroke-width="0.9" fill="none"/>
<rect x="456.2" y="241.3" width="18.6" height="154" fill="#c6c6c6"/>
<rect x="469.6" y="260.64" width="18.6" height="134.66" fill="#000"/>
<path d="M465.6 237.3 V245.3 M462.8 237.3 h5.6 M462.8 245.3 h5.6" stroke="#111" stroke-width="0.9" fill="none"/>
<path d="M478.9 250.24 V260.64 M476.3 250.24 h5.2" stroke="#111" stroke-width="0.9" fill="none"/>
<path d="M465.8 230.6 V225.9 H479.3 V243.4" stroke="#111" stroke-width="0.9" fill="none"/>
<circle cx="472.6" cy="215.3" r="1.2" fill="#111"/>
<path d="M313 192.4 V395.3 H503.8" stroke="#222" stroke-width="0.95" fill="none"/>
<text x="308.8" y="398.9" text-anchor="end" font-family='"Liberation Serif", serif' font-size="11.5" fill="#111" stroke="#111" stroke-width="0.22">0</text>
<path d="M313 361.38 h3" stroke="#222" stroke-width="0.9"/>
<text x="308.8" y="364.98" text-anchor="end" font-family='"Liberation Serif", serif' font-size="11.5" fill="#111" stroke="#111" stroke-width="0.22">0.2</text>
<path d="M313 327.46 h3" stroke="#222" stroke-width="0.9"/>
<text x="308.8" y="331.06" text-anchor="end" font-family='"Liberation Serif", serif' font-size="11.5" fill="#111" stroke="#111" stroke-width="0.22">0.4</text>
<path d="M313 293.54 h3" stroke="#222" stroke-width="0.9"/>
<text x="308.8" y="297.14" text-anchor="end" font-family='"Liberation Serif", serif' font-size="11.5" fill="#111" stroke="#111" stroke-width="0.22">0.6</text>
<path d="M313 259.62 h3" stroke="#222" stroke-width="0.9"/>
<text x="308.8" y="263.22" text-anchor="end" font-family='"Liberation Serif", serif' font-size="11.5" fill="#111" stroke="#111" stroke-width="0.22">0.8</text>
<path d="M313 225.7 h3" stroke="#222" stroke-width="0.9"/>
<text x="308.8" y="229.3" text-anchor="end" font-family='"Liberation Serif", serif' font-size="11.5" fill="#111" stroke="#111" stroke-width="0.22">1</text>
<text transform="translate(289.9 299) rotate(-90)" text-anchor="middle" font-family='"Liberation Serif", serif' font-size="12.6" fill="#111" stroke="#111" stroke-width="0.22" textLength="51.3" lengthAdjust="spacingAndGlyphs">Accuracy</text>
<rect x="315.6" y="198.3" width="19.1" height="10.6" fill="#c6c6c6"/>
<rect x="315.6" y="213.1" width="19.1" height="10.4" fill="#000"/>
<text x="337.2" y="207.4" font-family='"Liberation Serif", serif' font-size="11.9" fill="#111" stroke="#111" stroke-width="0.22" textLength="57.5" lengthAdjust="spacingAndGlyphs">Unpowered</text>
<text x="337.2" y="222" font-family='"Liberation Serif", serif' font-size="11.9" fill="#111" stroke="#111" stroke-width="0.22" textLength="42.6" lengthAdjust="spacingAndGlyphs">Powered</text>
<text transform="translate(350.8 404.4) rotate(-45)" text-anchor="end" font-family='"Liberation Serif", serif' font-size="11" fill="#111" stroke="#111" stroke-width="0.22" textLength="43" lengthAdjust="spacingAndGlyphs">42 deg/s</text>
<text transform="translate(389.8 404.4) rotate(-45)" text-anchor="end" font-family='"Liberation Serif", serif' font-size="11" fill="#111" stroke="#111" stroke-width="0.22" textLength="43" lengthAdjust="spacingAndGlyphs">84 deg/s</text>
<text transform="translate(434 404.4) rotate(-45)" text-anchor="end" font-family='"Liberation Serif", serif' font-size="11" fill="#111" stroke="#111" stroke-width="0.22" textLength="49" lengthAdjust="spacingAndGlyphs">126 deg/s</text>
<text transform="translate(486 404.4) rotate(-45)" text-anchor="end" font-family='"Liberation Serif", serif' font-size="11" fill="#111" stroke="#111" stroke-width="0.22" textLength="36.5" lengthAdjust="spacingAndGlyphs">Overall</text>
<text x="407.4" y="462.2" text-anchor="middle" font-family='"Liberation Sans", sans-serif' font-weight="bold" font-size="20" fill="#111">(c)</text>
</g>
<g id="panel-d">
<rect x="715.4" y="192.7" width="62.6" height="202.8" fill="#ededed"/>
<path d="M544.4 211 H715.4" stroke="#e6e6e6" stroke-width="0.9"/>
<path d="M715.4 211 H778" stroke="#f8f8f8" stroke-width="0.9"/>
<path d="M544.4 257.12 H715.4" stroke="#e6e6e6" stroke-width="0.9"/>
<path d="M715.4 257.12 H778" stroke="#f8f8f8" stroke-width="0.9"/>
<path d="M544.4 303.25 H715.4" stroke="#e6e6e6" stroke-width="0.9"/>
<path d="M715.4 303.25 H778" stroke="#f8f8f8" stroke-width="0.9"/>
<path d="M544.4 349.38 H715.4" stroke="#e6e6e6" stroke-width="0.9"/>
<path d="M715.4 349.38 H778" stroke="#f8f8f8" stroke-width="0.9"/>
<path d="M571.05 234 L571.04 234.5 L571.03 235 L571.03 235.5 L571.02 236 L571.01 236.5 L571 237 L570.99 237.5 L570.98 238 L570.98 238.5 L570.97 239 L570.96 239.5 L570.95 240 L570.94 240.5 L570.93 241 L570.93 241.5 L570.92 242 L570.91 242.5 L570.9 243 L570.89 243.5 L570.88 244 L570.88 244.5 L570.87 245 L570.85 245.5 L570.83 246 L570.8 246.5 L570.77 247 L570.72 247.5 L570.68 248 L570.64 248.5 L570.6 249 L570.56 249.5 L570.51 250 L570.47 250.5 L570.43 251 L570.39 251.5 L570.35 252 L570.3 252.5 L570.26 253 L570.22 253.5 L570.18 254 L570.14 254.5 L570.09 255 L570.05 255.5 L570.01 256 L569.96 256.5 L569.9 257 L569.82 257.5 L569.71 258 L569.58 258.5 L569.45 259 L569.32 259.5 L569.19 260 L569.05 260.5 L568.92 261 L568.79 261.5 L568.66 262 L568.53 262.5 L568.39 263 L568.26 263.5 L568.13 264 L568 264.5 L567.86 265 L567.72 265.5 L567.56 266 L567.36 266.5 L567.15 267 L566.93 267.5 L566.7 268 L566.48 268.5 L566.25 269 L566.03 269.5 L565.8 270 L565.58 270.5 L565.35 271 L565.12 271.5 L564.9 272 L564.68 272.5 L564.45 273 L564.23 273.5 L564 274 L563.78 274.5 L563.57 275 L563.35 275.5 L563.13 276 L562.92 276.5 L562.7 277 L562.48 277.5 L562.27 278 L562.05 278.5 L561.83 279 L561.61 279.5 L561.39 280 L561.16 280.5 L560.93 281 L560.7 281.5 L560.47 282 L560.23 282.5 L560 283 L559.77 283.5 L559.53 284 L559.3 284.5 L559.07 285 L558.85 285.5 L558.65 286 L558.48 286.5 L558.33 287 L558.19 287.5 L558.05 288 L557.92 288.5 L557.78 289 L557.65 289.5 L557.51 290 L557.38 290.5 L557.26 291 L557.19 291.5 L557.17 292 L557.19 292.5 L557.24 293 L557.28 293.5 L557.33 294 L557.37 294.5 L557.42 295 L557.46 295.5 L557.51 296 L557.57 296.5 L557.66 297 L557.78 297.5 L557.94 298 L558.1 298.5 L558.27 299 L558.43 299.5 L558.6 300 L558.77 300.5 L558.93 301 L559.1 301.5 L559.27 302 L559.44 302.5 L559.62 303 L559.8 303.5 L560 304 L560.2 304.5 L560.4 305 L560.6 305.5 L560.8 306 L561 306.5 L561.2 307 L561.4 307.5 L561.6 308 L561.8 308.5 L562 309 L562.2 309.5 L562.38 310 L562.56 310.5 L562.72 311 L562.89 311.5 L563.05 312 L563.21 312.5 L563.38 313 L563.54 313.5 L563.7 314 L563.86 314.5 L564.03 315 L564.19 315.5 L564.35 316 L564.51 316.5 L564.67 317 L564.83 317.5 L564.99 318 L565.13 318.5 L565.27 319 L565.41 319.5 L565.55 320 L565.69 320.5 L565.83 321 L565.96 321.5 L566.1 322 L566.24 322.5 L566.38 323 L566.51 323.5 L566.65 324 L566.79 324.5 L566.92 325 L567.06 325.5 L567.17 326 L567.28 326.5 L567.37 327 L567.45 327.5 L567.53 328 L567.62 328.5 L567.7 329 L567.78 329.5 L567.87 330 L567.95 330.5 L568.03 331 L568.12 331.5 L568.2 332 L568.28 332.5 L568.37 333 L568.45 333.5 L568.53 334 L568.61 334.5 L568.68 335 L568.75 335.5 L568.8 336 L568.85 336.5 L568.9 337 L568.95 337.5 L569 338 L569.05 338.5 L569.1 339 L569.15 339.5 L569.2 340 L569.25 340.5 L569.3 341 L569.35 341.5 L569.4 342 L569.45 342.5 L569.5 343 L569.55 343.5 L569.6 344 L569.65 344.5 L569.7 345 L569.74 345.5 L569.79 346 L569.83 346.5 L569.88 347 L569.92 347.5 L569.96 348 L570.01 348.5 L570.05 349 L570.09 349.5 L570.14 350 L570.18 350.5 L570.23 351 L570.27 351.5 L570.31 352 L570.36 352.5 L570.4 353 L570.45 353.5 L570.5 354 L570.54 354.5 L570.59 355 L570.64 355.5 L570.69 356 L570.73 356.5 L570.78 357 L570.83 357.5 L570.88 358 L570.92 358.5 L570.97 359 L571.43 359 L571.48 358.5 L571.52 358 L571.57 357.5 L571.62 357 L571.67 356.5 L571.71 356 L571.76 355.5 L571.81 355 L571.86 354.5 L571.9 354 L571.95 353.5 L572 353 L572.04 352.5 L572.09 352 L572.13 351.5 L572.18 351 L572.22 350.5 L572.26 350 L572.31 349.5 L572.35 349 L572.39 348.5 L572.44 348 L572.48 347.5 L572.53 347 L572.57 346.5 L572.61 346 L572.66 345.5 L572.7 345 L572.75 344.5 L572.8 344 L572.85 343.5 L572.9 343 L572.95 342.5 L573 342 L573.05 341.5 L573.1 341 L573.15 340.5 L573.2 340 L573.25 339.5 L573.3 339 L573.35 338.5 L573.4 338 L573.45 337.5 L573.5 337 L573.55 336.5 L573.6 336 L573.65 335.5 L573.72 335 L573.79 334.5 L573.87 334 L573.95 333.5 L574.03 333 L574.12 332.5 L574.2 332 L574.28 331.5 L574.37 331 L574.45 330.5 L574.53 330 L574.62 329.5 L574.7 329 L574.78 328.5 L574.87 328 L574.95 327.5 L575.03 327 L575.12 326.5 L575.23 326 L575.34 325.5 L575.48 325 L575.61 324.5 L575.75 324 L575.89 323.5 L576.03 323 L576.16 322.5 L576.3 322 L576.44 321.5 L576.58 321 L576.71 320.5 L576.85 320 L576.99 319.5 L577.13 319 L577.27 318.5 L577.41 318 L577.57 317.5 L577.73 317 L577.89 316.5 L578.05 316 L578.21 315.5 L578.38 315 L578.54 314.5 L578.7 314 L578.86 313.5 L579.03 313 L579.19 312.5 L579.35 312 L579.51 311.5 L579.68 311 L579.84 310.5 L580.02 310 L580.2 309.5 L580.4 309 L580.6 308.5 L580.8 308 L581 307.5 L581.2 307 L581.4 306.5 L581.6 306 L581.8 305.5 L582 305 L582.2 304.5 L582.4 304 L582.6 303.5 L582.78 303 L582.96 302.5 L583.13 302 L583.3 301.5 L583.47 301 L583.63 300.5 L583.8 300 L583.97 299.5 L584.13 299 L584.3 298.5 L584.46 298 L584.62 297.5 L584.74 297 L584.83 296.5 L584.89 296 L584.94 295.5 L584.98 295 L585.03 294.5 L585.07 294 L585.12 293.5 L585.16 293 L585.21 292.5 L585.23 292 L585.21 291.5 L585.14 291 L585.02 290.5 L584.89 290 L584.75 289.5 L584.62 289 L584.48 288.5 L584.35 288 L584.21 287.5 L584.07 287 L583.92 286.5 L583.75 286 L583.55 285.5 L583.33 285 L583.1 284.5 L582.87 284 L582.63 283.5 L582.4 283 L582.17 282.5 L581.93 282 L581.7 281.5 L581.47 281 L581.24 280.5 L581.01 280 L580.79 279.5 L580.57 279 L580.35 278.5 L580.13 278 L579.92 277.5 L579.7 277 L579.48 276.5 L579.27 276 L579.05 275.5 L578.83 275 L578.62 274.5 L578.4 274 L578.17 273.5 L577.95 273 L577.73 272.5 L577.5 272 L577.28 271.5 L577.05 271 L576.83 270.5 L576.6 270 L576.38 269.5 L576.15 269 L575.93 268.5 L575.7 268 L575.48 267.5 L575.25 267 L575.04 266.5 L574.84 266 L574.68 265.5 L574.54 265 L574.4 264.5 L574.27 264 L574.14 263.5 L574.01 263 L573.87 262.5 L573.74 262 L573.61 261.5 L573.48 261 L573.35 260.5 L573.21 260 L573.08 259.5 L572.95 259 L572.82 258.5 L572.69 258 L572.58 257.5 L572.5 257 L572.44 256.5 L572.39 256 L572.35 255.5 L572.31 255 L572.26 254.5 L572.22 254 L572.18 253.5 L572.14 253 L572.1 252.5 L572.05 252 L572.01 251.5 L571.97 251 L571.93 250.5 L571.89 250 L571.84 249.5 L571.8 249 L571.76 248.5 L571.72 248 L571.68 247.5 L571.63 247 L571.6 246.5 L571.57 246 L571.55 245.5 L571.53 245 L571.53 244.5 L571.52 244 L571.51 243.5 L571.5 243 L571.49 242.5 L571.48 242 L571.48 241.5 L571.47 241 L571.46 240.5 L571.45 240 L571.44 239.5 L571.43 239 L571.43 238.5 L571.42 238 L571.41 237.5 L571.4 237 L571.39 236.5 L571.38 236 L571.38 235.5 L571.37 235 L571.36 234.5 L571.35 234 Z" fill="#dcdcdc" fill-opacity="1"/>
<path d="M558.2 299.4 H584" stroke="#b9b9b9" stroke-width="1.3"/>
<path d="M619.25 239 L619.23 239.5 L619.21 240 L619.18 240.5 L619.16 241 L619.14 241.5 L619.12 242 L619.1 242.5 L619.07 243 L619.05 243.5 L619.03 244 L619.01 244.5 L618.99 245 L618.97 245.5 L618.94 246 L618.91 246.5 L618.86 247 L618.78 247.5 L618.68 248 L618.57 248.5 L618.46 249 L618.35 249.5 L618.24 250 L618.13 250.5 L618.02 251 L617.88 251.5 L617.7 252 L617.45 252.5 L617.16 253 L616.84 253.5 L616.52 254 L616.2 254.5 L615.88 255 L615.55 255.5 L615.23 256 L614.91 256.5 L614.59 257 L614.26 257.5 L613.92 258 L613.58 258.5 L613.24 259 L612.9 259.5 L612.56 260 L612.22 260.5 L611.88 261 L611.54 261.5 L611.2 262 L610.86 262.5 L610.52 263 L610.18 263.5 L609.84 264 L609.5 264.5 L609.16 265 L608.82 265.5 L608.48 266 L608.14 266.5 L607.81 267 L607.49 267.5 L607.18 268 L606.87 268.5 L606.56 269 L606.24 269.5 L605.93 270 L605.63 270.5 L605.34 271 L605.12 271.5 L604.99 272 L604.92 272.5 L604.87 273 L604.82 273.5 L604.78 274 L604.73 274.5 L604.69 275 L604.67 275.5 L604.69 276 L604.77 276.5 L604.9 277 L605.05 277.5 L605.2 278 L605.35 278.5 L605.5 279 L605.67 279.5 L605.86 280 L606.09 280.5 L606.35 281 L606.62 281.5 L606.9 282 L607.17 282.5 L607.45 283 L607.73 283.5 L608.02 284 L608.33 284.5 L608.65 285 L608.98 285.5 L609.3 286 L609.62 286.5 L609.95 287 L610.27 287.5 L610.6 288 L610.92 288.5 L611.24 289 L611.56 289.5 L611.88 290 L612.2 290.5 L612.52 291 L612.84 291.5 L613.16 292 L613.47 292.5 L613.78 293 L614.07 293.5 L614.35 294 L614.62 294.5 L614.9 295 L615.17 295.5 L615.45 296 L615.71 296.5 L615.94 297 L616.13 297.5 L616.3 298 L616.45 298.5 L616.6 299 L616.75 299.5 L616.9 300 L617.04 300.5 L617.16 301 L617.25 301.5 L617.33 302 L617.39 302.5 L617.46 303 L617.52 303.5 L617.59 304 L617.65 304.5 L617.71 305 L617.78 305.5 L617.84 306 L617.91 306.5 L617.97 307 L618.03 307.5 L618.08 308 L618.12 308.5 L618.15 309 L618.17 309.5 L618.2 310 L618.23 310.5 L618.25 311 L618.27 311.5 L618.3 312 L618.32 312.5 L618.35 313 L618.38 313.5 L618.4 314 L618.42 314.5 L618.45 315 L618.48 315.5 L618.5 316 L618.52 316.5 L618.55 317 L618.57 317.5 L618.6 318 L618.62 318.5 L618.64 319 L618.66 319.5 L618.68 320 L618.7 320.5 L618.72 321 L618.74 321.5 L618.76 322 L618.78 322.5 L618.8 323 L618.82 323.5 L618.84 324 L618.86 324.5 L618.88 325 L618.9 325.5 L618.92 326 L618.94 326.5 L618.96 327 L618.98 327.5 L619 328 L619.03 328.5 L619.05 329 L619.07 329.5 L619.1 330 L619.12 330.5 L619.15 331 L619.17 331.5 L619.2 332 L619.23 332.5 L619.25 333 L619.27 333.5 L619.3 334 L619.5 334 L619.52 333.5 L619.55 333 L619.57 332.5 L619.6 332 L619.62 331.5 L619.65 331 L619.67 330.5 L619.7 330 L619.73 329.5 L619.75 329 L619.77 328.5 L619.8 328 L619.82 327.5 L619.84 327 L619.86 326.5 L619.88 326 L619.9 325.5 L619.92 325 L619.94 324.5 L619.96 324 L619.98 323.5 L620 323 L620.02 322.5 L620.04 322 L620.06 321.5 L620.08 321 L620.1 320.5 L620.12 320 L620.14 319.5 L620.16 319 L620.18 318.5 L620.2 318 L620.23 317.5 L620.25 317 L620.27 316.5 L620.3 316 L620.32 315.5 L620.35 315 L620.38 314.5 L620.4 314 L620.42 313.5 L620.45 313 L620.48 312.5 L620.5 312 L620.52 311.5 L620.55 311 L620.57 310.5 L620.6 310 L620.62 309.5 L620.65 309 L620.68 308.5 L620.72 308 L620.77 307.5 L620.83 307 L620.89 306.5 L620.96 306 L621.02 305.5 L621.09 305 L621.15 304.5 L621.21 304 L621.28 303.5 L621.34 303 L621.41 302.5 L621.47 302 L621.55 301.5 L621.64 301 L621.76 300.5 L621.9 300 L622.05 299.5 L622.2 299 L622.35 298.5 L622.5 298 L622.67 297.5 L622.86 297 L623.09 296.5 L623.35 296 L623.62 295.5 L623.9 295 L624.17 294.5 L624.45 294 L624.73 293.5 L625.02 293 L625.33 292.5 L625.64 292 L625.96 291.5 L626.28 291 L626.6 290.5 L626.92 290 L627.24 289.5 L627.56 289 L627.88 288.5 L628.2 288 L628.53 287.5 L628.85 287 L629.17 286.5 L629.5 286 L629.82 285.5 L630.15 285 L630.47 284.5 L630.78 284 L631.07 283.5 L631.35 283 L631.62 282.5 L631.9 282 L632.17 281.5 L632.45 281 L632.71 280.5 L632.94 280 L633.13 279.5 L633.3 279 L633.45 278.5 L633.6 278 L633.75 277.5 L633.9 277 L634.03 276.5 L634.11 276 L634.13 275.5 L634.11 275 L634.07 274.5 L634.02 274 L633.98 273.5 L633.93 273 L633.88 272.5 L633.81 272 L633.67 271.5 L633.46 271 L633.17 270.5 L632.87 270 L632.56 269.5 L632.24 269 L631.93 268.5 L631.62 268 L631.31 267.5 L630.99 267 L630.66 266.5 L630.32 266 L629.98 265.5 L629.64 265 L629.3 264.5 L628.96 264 L628.62 263.5 L628.28 263 L627.94 262.5 L627.6 262 L627.26 261.5 L626.92 261 L626.58 260.5 L626.24 260 L625.9 259.5 L625.56 259 L625.22 258.5 L624.88 258 L624.54 257.5 L624.21 257 L623.89 256.5 L623.57 256 L623.25 255.5 L622.92 255 L622.6 254.5 L622.28 254 L621.96 253.5 L621.64 253 L621.35 252.5 L621.1 252 L620.92 251.5 L620.78 251 L620.67 250.5 L620.56 250 L620.45 249.5 L620.34 249 L620.23 248.5 L620.12 248 L620.02 247.5 L619.94 247 L619.89 246.5 L619.86 246 L619.83 245.5 L619.81 245 L619.79 244.5 L619.77 244 L619.75 243.5 L619.73 243 L619.7 242.5 L619.68 242 L619.66 241.5 L619.64 241 L619.62 240.5 L619.59 240 L619.57 239.5 L619.55 239 Z" fill="#dcdcdc" fill-opacity="1"/>
<path d="M604.8 275.9 H634" stroke="#b9b9b9" stroke-width="1.3"/>
<path d="M667.15 241 L667.08 241.5 L667.01 242 L666.94 242.5 L666.87 243 L666.8 243.5 L666.72 244 L666.65 244.5 L666.58 245 L666.51 245.5 L666.44 246 L666.34 246.5 L666.2 247 L665.99 247.5 L665.74 248 L665.46 248.5 L665.18 249 L664.9 249.5 L664.62 250 L664.34 250.5 L664.06 251 L663.79 251.5 L663.52 252 L663.27 252.5 L663.03 253 L662.8 253.5 L662.56 254 L662.3 254.5 L661.96 255 L661.54 255.5 L661.05 256 L660.52 256.5 L659.96 257 L659.33 257.5 L658.65 258 L657.92 258.5 L657.19 259 L656.51 259.5 L655.96 260 L655.58 260.5 L655.34 261 L655.14 261.5 L654.96 262 L654.78 262.5 L654.62 263 L654.53 263.5 L654.52 264 L654.57 264.5 L654.65 265 L654.73 265.5 L654.82 266 L654.93 266.5 L655.05 267 L655.2 267.5 L655.45 268 L655.93 268.5 L656.73 269 L657.73 269.5 L658.64 270 L659.28 270.5 L659.68 271 L659.97 271.5 L660.21 272 L660.38 272.5 L660.5 273 L660.6 273.5 L660.7 274 L660.8 274.5 L660.9 275 L661 275.5 L661.1 276 L661.2 276.5 L661.3 277 L661.4 277.5 L661.5 278 L661.62 278.5 L661.77 279 L661.97 279.5 L662.2 280 L662.45 280.5 L662.7 281 L662.95 281.5 L663.2 282 L663.45 282.5 L663.71 283 L663.98 283.5 L664.25 284 L664.52 284.5 L664.8 285 L665.07 285.5 L665.35 286 L665.61 286.5 L665.84 287 L666.03 287.5 L666.2 288 L666.35 288.5 L666.5 289 L666.63 289.5 L666.73 290 L666.79 290.5 L666.81 291 L666.81 291.5 L666.81 292 L666.82 292.5 L666.82 293 L666.83 293.5 L666.83 294 L666.83 294.5 L666.84 295 L666.84 295.5 L666.84 296 L666.85 296.5 L666.85 297 L666.86 297.5 L666.86 298 L666.86 298.5 L666.87 299 L666.87 299.5 L666.88 300 L666.88 300.5 L666.88 301 L666.89 301.5 L666.89 302 L666.89 302.5 L666.9 303 L666.9 303.5 L666.9 304 L666.91 304.5 L666.91 305 L666.92 305.5 L666.92 306 L666.92 306.5 L666.93 307 L666.93 307.5 L666.93 308 L666.94 308.5 L666.94 309 L666.95 309.5 L666.95 310 L666.96 310.5 L666.96 311 L666.97 311.5 L666.97 312 L666.98 312.5 L666.99 313 L666.99 313.5 L667 314 L667.01 314.5 L667.01 315 L667.02 315.5 L667.02 316 L667.03 316.5 L667.04 317 L667.04 317.5 L667.05 318 L667.06 318.5 L667.06 319 L667.07 319.5 L667.07 320 L667.08 320.5 L667.09 321 L667.09 321.5 L667.1 322 L667.11 322.5 L667.11 323 L667.12 323.5 L667.12 324 L667.13 324.5 L667.14 325 L667.14 325.5 L667.15 326 L667.16 326.5 L667.16 327 L667.17 327.5 L667.17 328 L667.18 328.5 L667.19 329 L667.19 329.5 L667.2 330 L667.4 330 L667.41 329.5 L667.41 329 L667.42 328.5 L667.42 328 L667.43 327.5 L667.44 327 L667.44 326.5 L667.45 326 L667.46 325.5 L667.46 325 L667.47 324.5 L667.47 324 L667.48 323.5 L667.49 323 L667.49 322.5 L667.5 322 L667.51 321.5 L667.51 321 L667.52 320.5 L667.52 320 L667.53 319.5 L667.54 319 L667.54 318.5 L667.55 318 L667.56 317.5 L667.56 317 L667.57 316.5 L667.57 316 L667.58 315.5 L667.59 315 L667.59 314.5 L667.6 314 L667.61 313.5 L667.61 313 L667.62 312.5 L667.62 312 L667.63 311.5 L667.64 311 L667.64 310.5 L667.65 310 L667.65 309.5 L667.66 309 L667.66 308.5 L667.66 308 L667.67 307.5 L667.67 307 L667.68 306.5 L667.68 306 L667.68 305.5 L667.69 305 L667.69 304.5 L667.69 304 L667.7 303.5 L667.7 303 L667.71 302.5 L667.71 302 L667.71 301.5 L667.72 301 L667.72 300.5 L667.72 300 L667.73 299.5 L667.73 299 L667.74 298.5 L667.74 298 L667.74 297.5 L667.75 297 L667.75 296.5 L667.75 296 L667.76 295.5 L667.76 295 L667.77 294.5 L667.77 294 L667.77 293.5 L667.78 293 L667.78 292.5 L667.78 292 L667.79 291.5 L667.79 291 L667.81 290.5 L667.87 290 L667.97 289.5 L668.1 289 L668.25 288.5 L668.4 288 L668.57 287.5 L668.76 287 L668.99 286.5 L669.25 286 L669.52 285.5 L669.8 285 L670.07 284.5 L670.35 284 L670.62 283.5 L670.89 283 L671.15 282.5 L671.4 282 L671.65 281.5 L671.9 281 L672.15 280.5 L672.4 280 L672.63 279.5 L672.83 279 L672.98 278.5 L673.1 278 L673.2 277.5 L673.3 277 L673.4 276.5 L673.5 276 L673.6 275.5 L673.7 275 L673.8 274.5 L673.9 274 L674 273.5 L674.1 273 L674.22 272.5 L674.39 272 L674.62 271.5 L674.92 271 L675.32 270.5 L675.96 270 L676.87 269.5 L677.87 269 L678.67 268.5 L679.15 268 L679.4 267.5 L679.55 267 L679.67 266.5 L679.78 266 L679.87 265.5 L679.95 265 L680.03 264.5 L680.08 264 L680.07 263.5 L679.98 263 L679.82 262.5 L679.64 262 L679.46 261.5 L679.26 261 L679.02 260.5 L678.64 260 L678.09 259.5 L677.41 259 L676.68 258.5 L675.95 258 L675.27 257.5 L674.64 257 L674.08 256.5 L673.55 256 L673.06 255.5 L672.64 255 L672.3 254.5 L672.04 254 L671.8 253.5 L671.57 253 L671.33 252.5 L671.08 252 L670.81 251.5 L670.54 251 L670.26 250.5 L669.98 250 L669.7 249.5 L669.42 249 L669.14 248.5 L668.86 248 L668.61 247.5 L668.4 247 L668.26 246.5 L668.16 246 L668.09 245.5 L668.02 245 L667.95 244.5 L667.88 244 L667.8 243.5 L667.73 243 L667.66 242.5 L667.59 242 L667.52 241.5 L667.45 241 Z" fill="#dcdcdc" fill-opacity="1"/>
<path d="M655.4 268.6 H679.8" stroke="#b9b9b9" stroke-width="1.3"/>
<path d="M649.6 377 V386" stroke="#d6d6d6" stroke-width="0.9"/>
<path d="M590.3 225.5 L590.29 226 L590.27 226.5 L590.26 227 L590.24 227.5 L590.23 228 L590.21 228.5 L590.2 229 L590.19 229.5 L590.17 230 L590.16 230.5 L590.14 231 L590.13 231.5 L590.11 232 L590.1 232.5 L590.09 233 L590.07 233.5 L590.06 234 L590.04 234.5 L590.03 235 L590.01 235.5 L589.99 236 L589.97 236.5 L589.95 237 L589.92 237.5 L589.9 238 L589.87 238.5 L589.85 239 L589.82 239.5 L589.79 240 L589.77 240.5 L589.74 241 L589.72 241.5 L589.69 242 L589.66 242.5 L589.64 243 L589.61 243.5 L589.59 244 L589.56 244.5 L589.53 245 L589.48 245.5 L589.41 246 L589.31 246.5 L589.21 247 L589.09 247.5 L588.98 248 L588.87 248.5 L588.75 249 L588.64 249.5 L588.53 250 L588.4 250.5 L588.27 251 L588.11 251.5 L587.93 252 L587.75 252.5 L587.57 253 L587.39 253.5 L587.2 254 L587.02 254.5 L586.84 255 L586.66 255.5 L586.47 256 L586.29 256.5 L586.08 257 L585.85 257.5 L585.59 258 L585.31 258.5 L585.02 259 L584.74 259.5 L584.45 260 L584.16 260.5 L583.87 261 L583.58 261.5 L583.28 262 L582.98 262.5 L582.66 263 L582.34 263.5 L582.02 264 L581.7 264.5 L581.38 265 L581.06 265.5 L580.74 266 L580.42 266.5 L580.11 267 L579.79 267.5 L579.49 268 L579.18 268.5 L578.87 269 L578.57 269.5 L578.26 270 L577.96 270.5 L577.68 271 L577.44 271.5 L577.26 272 L577.12 272.5 L576.98 273 L576.85 273.5 L576.72 274 L576.59 274.5 L576.46 275 L576.34 275.5 L576.25 276 L576.19 276.5 L576.15 277 L576.12 277.5 L576.09 278 L576.06 278.5 L576.03 279 L576.01 279.5 L575.98 280 L575.95 280.5 L575.94 281 L575.94 281.5 L575.97 282 L576.02 282.5 L576.07 283 L576.12 283.5 L576.18 284 L576.23 284.5 L576.29 285 L576.34 285.5 L576.39 286 L576.45 286.5 L576.53 287 L576.62 287.5 L576.73 288 L576.85 288.5 L576.97 289 L577.08 289.5 L577.2 290 L577.32 290.5 L577.44 291 L577.55 291.5 L577.67 292 L577.79 292.5 L577.9 293 L578.02 293.5 L578.14 294 L578.26 294.5 L578.38 295 L578.51 295.5 L578.64 296 L578.78 296.5 L578.91 297 L579.04 297.5 L579.17 298 L579.31 298.5 L579.44 299 L579.57 299.5 L579.7 300 L579.84 300.5 L579.97 301 L580.1 301.5 L580.23 302 L580.36 302.5 L580.48 303 L580.59 303.5 L580.69 304 L580.78 304.5 L580.88 305 L580.97 305.5 L581.07 306 L581.16 306.5 L581.25 307 L581.35 307.5 L581.44 308 L581.54 308.5 L581.63 309 L581.73 309.5 L581.82 310 L581.92 310.5 L582.01 311 L582.1 311.5 L582.2 312 L582.29 312.5 L582.39 313 L582.49 313.5 L582.6 314 L582.71 314.5 L582.82 315 L582.94 315.5 L583.05 316 L583.17 316.5 L583.28 317 L583.4 317.5 L583.52 318 L583.63 318.5 L583.75 319 L583.86 319.5 L583.98 320 L584.09 320.5 L584.21 321 L584.32 321.5 L584.44 322 L584.55 322.5 L584.67 323 L584.78 323.5 L584.89 324 L584.99 324.5 L585.08 325 L585.17 325.5 L585.26 326 L585.35 326.5 L585.45 327 L585.54 327.5 L585.63 328 L585.72 328.5 L585.81 329 L585.9 329.5 L585.99 330 L586.08 330.5 L586.17 331 L586.26 331.5 L586.35 332 L586.45 332.5 L586.54 333 L586.63 333.5 L586.72 334 L586.81 334.5 L586.89 335 L586.98 335.5 L587.06 336 L587.14 336.5 L587.22 337 L587.3 337.5 L587.38 338 L587.46 338.5 L587.54 339 L587.62 339.5 L587.7 340 L587.78 340.5 L587.86 341 L587.94 341.5 L588.02 342 L588.1 342.5 L588.18 343 L588.26 343.5 L588.34 344 L588.42 344.5 L588.49 345 L588.55 345.5 L588.61 346 L588.66 346.5 L588.72 347 L588.77 347.5 L588.83 348 L588.88 348.5 L588.94 349 L589 349.5 L589.05 350 L589.11 350.5 L589.16 351 L589.22 351.5 L589.27 352 L589.33 352.5 L589.38 353 L589.43 353.5 L589.49 354 L589.54 354.5 L589.59 355 L589.63 355.5 L589.66 356 L589.7 356.5 L589.73 357 L589.76 357.5 L589.79 358 L589.83 358.5 L589.86 359 L589.89 359.5 L589.92 360 L589.95 360.5 L589.99 361 L590.01 361.5 L590.04 362 L590.05 362.5 L590.05 363 L590.05 363.5 L590.06 364 L590.06 364.5 L590.06 365 L590.06 365.5 L590.06 366 L590.06 366.5 L590.06 367 L590.07 367.5 L590.07 368 L590.07 368.5 L590.07 369 L590.07 369.5 L590.07 370 L590.07 370.5 L590.08 371 L590.08 371.5 L590.08 372 L590.08 372.5 L590.08 373 L590.08 373.5 L590.08 374 L590.08 374.5 L590.09 375 L590.09 375.5 L590.09 376 L590.09 376.5 L590.09 377 L590.09 377.5 L590.09 378 L590.1 378.5 L590.1 379 L590.1 379.5 L590.1 380 L590.1 380.5 L590.11 381 L590.11 381.5 L590.11 382 L590.12 382.5 L590.12 383 L590.12 383.5 L590.13 384 L590.13 384.5 L590.13 385 L590.14 385.5 L590.14 386 L590.14 386.5 L590.15 387 L590.15 387.5 L590.15 388 L590.16 388.5 L590.16 389 L590.16 389.5 L590.17 390 L590.17 390.5 L590.17 391 L590.18 391.5 L590.18 392 L590.18 392.5 L590.19 393 L590.19 393.5 L590.19 394 L590.2 394.5 L590.2 395 L590.8 395 L590.8 394.5 L590.81 394 L590.81 393.5 L590.81 393 L590.82 392.5 L590.82 392 L590.82 391.5 L590.83 391 L590.83 390.5 L590.83 390 L590.84 389.5 L590.84 389 L590.84 388.5 L590.85 388 L590.85 387.5 L590.85 387 L590.86 386.5 L590.86 386 L590.86 385.5 L590.87 385 L590.87 384.5 L590.87 384 L590.88 383.5 L590.88 383 L590.88 382.5 L590.89 382 L590.89 381.5 L590.89 381 L590.9 380.5 L590.9 380 L590.9 379.5 L590.9 379 L590.9 378.5 L590.91 378 L590.91 377.5 L590.91 377 L590.91 376.5 L590.91 376 L590.91 375.5 L590.91 375 L590.92 374.5 L590.92 374 L590.92 373.5 L590.92 373 L590.92 372.5 L590.92 372 L590.92 371.5 L590.92 371 L590.93 370.5 L590.93 370 L590.93 369.5 L590.93 369 L590.93 368.5 L590.93 368 L590.93 367.5 L590.94 367 L590.94 366.5 L590.94 366 L590.94 365.5 L590.94 365 L590.94 364.5 L590.94 364 L590.95 363.5 L590.95 363 L590.95 362.5 L590.96 362 L590.99 361.5 L591.01 361 L591.05 360.5 L591.08 360 L591.11 359.5 L591.14 359 L591.17 358.5 L591.21 358 L591.24 357.5 L591.27 357 L591.3 356.5 L591.34 356 L591.37 355.5 L591.41 355 L591.46 354.5 L591.51 354 L591.57 353.5 L591.62 353 L591.67 352.5 L591.73 352 L591.78 351.5 L591.84 351 L591.89 350.5 L591.95 350 L592 349.5 L592.06 349 L592.12 348.5 L592.17 348 L592.23 347.5 L592.28 347 L592.34 346.5 L592.39 346 L592.45 345.5 L592.51 345 L592.58 344.5 L592.66 344 L592.74 343.5 L592.82 343 L592.9 342.5 L592.98 342 L593.06 341.5 L593.14 341 L593.22 340.5 L593.3 340 L593.38 339.5 L593.46 339 L593.54 338.5 L593.62 338 L593.7 337.5 L593.78 337 L593.86 336.5 L593.94 336 L594.02 335.5 L594.11 335 L594.19 334.5 L594.28 334 L594.37 333.5 L594.46 333 L594.55 332.5 L594.65 332 L594.74 331.5 L594.83 331 L594.92 330.5 L595.01 330 L595.1 329.5 L595.19 329 L595.28 328.5 L595.37 328 L595.46 327.5 L595.55 327 L595.65 326.5 L595.74 326 L595.83 325.5 L595.92 325 L596.01 324.5 L596.11 324 L596.22 323.5 L596.33 323 L596.45 322.5 L596.56 322 L596.68 321.5 L596.79 321 L596.91 320.5 L597.02 320 L597.14 319.5 L597.25 319 L597.37 318.5 L597.48 318 L597.6 317.5 L597.72 317 L597.83 316.5 L597.95 316 L598.06 315.5 L598.18 315 L598.29 314.5 L598.4 314 L598.51 313.5 L598.61 313 L598.71 312.5 L598.8 312 L598.9 311.5 L598.99 311 L599.08 310.5 L599.18 310 L599.27 309.5 L599.37 309 L599.46 308.5 L599.56 308 L599.65 307.5 L599.75 307 L599.84 306.5 L599.93 306 L600.03 305.5 L600.12 305 L600.22 304.5 L600.31 304 L600.41 303.5 L600.52 303 L600.64 302.5 L600.77 302 L600.9 301.5 L601.03 301 L601.16 300.5 L601.3 300 L601.43 299.5 L601.56 299 L601.69 298.5 L601.83 298 L601.96 297.5 L602.09 297 L602.22 296.5 L602.36 296 L602.49 295.5 L602.62 295 L602.74 294.5 L602.86 294 L602.98 293.5 L603.1 293 L603.21 292.5 L603.33 292 L603.45 291.5 L603.56 291 L603.68 290.5 L603.8 290 L603.92 289.5 L604.03 289 L604.15 288.5 L604.27 288 L604.38 287.5 L604.47 287 L604.55 286.5 L604.61 286 L604.66 285.5 L604.71 285 L604.77 284.5 L604.82 284 L604.88 283.5 L604.93 283 L604.98 282.5 L605.03 282 L605.06 281.5 L605.06 281 L605.05 280.5 L605.02 280 L604.99 279.5 L604.97 279 L604.94 278.5 L604.91 278 L604.88 277.5 L604.85 277 L604.81 276.5 L604.75 276 L604.66 275.5 L604.54 275 L604.41 274.5 L604.28 274 L604.15 273.5 L604.02 273 L603.88 272.5 L603.74 272 L603.56 271.5 L603.32 271 L603.04 270.5 L602.74 270 L602.43 269.5 L602.13 269 L601.82 268.5 L601.51 268 L601.21 267.5 L600.89 267 L600.58 266.5 L600.26 266 L599.94 265.5 L599.62 265 L599.3 264.5 L598.98 264 L598.66 263.5 L598.34 263 L598.02 262.5 L597.72 262 L597.42 261.5 L597.13 261 L596.84 260.5 L596.55 260 L596.26 259.5 L595.98 259 L595.69 258.5 L595.41 258 L595.15 257.5 L594.92 257 L594.71 256.5 L594.53 256 L594.34 255.5 L594.16 255 L593.98 254.5 L593.8 254 L593.61 253.5 L593.43 253 L593.25 252.5 L593.07 252 L592.89 251.5 L592.73 251 L592.6 250.5 L592.47 250 L592.36 249.5 L592.25 249 L592.13 248.5 L592.02 248 L591.91 247.5 L591.79 247 L591.69 246.5 L591.59 246 L591.52 245.5 L591.47 245 L591.44 244.5 L591.41 244 L591.39 243.5 L591.36 243 L591.34 242.5 L591.31 242 L591.28 241.5 L591.26 241 L591.23 240.5 L591.21 240 L591.18 239.5 L591.15 239 L591.13 238.5 L591.1 238 L591.08 237.5 L591.05 237 L591.03 236.5 L591.01 236 L590.99 235.5 L590.97 235 L590.96 234.5 L590.94 234 L590.93 233.5 L590.91 233 L590.9 232.5 L590.89 232 L590.87 231.5 L590.86 231 L590.84 230.5 L590.83 230 L590.81 229.5 L590.8 229 L590.79 228.5 L590.77 228 L590.76 227.5 L590.74 227 L590.73 226.5 L590.71 226 L590.7 225.5 Z" fill="#000" fill-opacity="0.5"/>
<path d="M638.6 232 L638.58 232.5 L638.56 233 L638.53 233.5 L638.51 234 L638.49 234.5 L638.47 235 L638.44 235.5 L638.42 236 L638.4 236.5 L638.38 237 L638.36 237.5 L638.33 238 L638.31 238.5 L638.29 239 L638.27 239.5 L638.24 240 L638.22 240.5 L638.18 241 L638.14 241.5 L638.09 242 L638.03 242.5 L637.97 243 L637.91 243.5 L637.86 244 L637.8 244.5 L637.74 245 L637.69 245.5 L637.63 246 L637.57 246.5 L637.51 247 L637.45 247.5 L637.36 248 L637.25 248.5 L637.12 249 L636.98 249.5 L636.84 250 L636.7 250.5 L636.56 251 L636.42 251.5 L636.28 252 L636.13 252.5 L635.97 253 L635.78 253.5 L635.58 254 L635.37 254.5 L635.16 255 L634.95 255.5 L634.74 256 L634.53 256.5 L634.31 257 L634.07 257.5 L633.81 258 L633.54 258.5 L633.26 259 L632.98 259.5 L632.71 260 L632.43 260.5 L632.15 261 L631.87 261.5 L631.59 262 L631.3 262.5 L631 263 L630.7 263.5 L630.4 264 L630.1 264.5 L629.8 265 L629.5 265.5 L629.2 266 L628.9 266.5 L628.62 267 L628.34 267.5 L628.08 268 L627.82 268.5 L627.55 269 L627.29 269.5 L627.03 270 L626.77 270.5 L626.53 271 L626.31 271.5 L626.11 272 L625.94 272.5 L625.78 273 L625.62 273.5 L625.45 274 L625.29 274.5 L625.13 275 L624.97 275.5 L624.84 276 L624.74 276.5 L624.66 277 L624.59 277.5 L624.52 278 L624.45 278.5 L624.38 279 L624.31 279.5 L624.24 280 L624.18 280.5 L624.14 281 L624.12 281.5 L624.12 282 L624.13 282.5 L624.14 283 L624.15 283.5 L624.16 284 L624.17 284.5 L624.18 285 L624.2 285.5 L624.25 286 L624.35 286.5 L624.51 287 L624.71 287.5 L624.92 288 L625.14 288.5 L625.35 289 L625.56 289.5 L625.78 290 L626 290.5 L626.24 291 L626.51 291.5 L626.8 292 L627.1 292.5 L627.4 293 L627.7 293.5 L628 294 L628.3 294.5 L628.6 295 L628.9 295.5 L629.19 296 L629.49 296.5 L629.77 297 L630.06 297.5 L630.35 298 L630.64 298.5 L630.92 299 L631.21 299.5 L631.49 300 L631.77 300.5 L632.03 301 L632.27 301.5 L632.51 302 L632.75 302.5 L632.98 303 L633.22 303.5 L633.46 304 L633.69 304.5 L633.93 305 L634.15 305.5 L634.35 306 L634.51 306.5 L634.65 307 L634.77 307.5 L634.9 308 L635.02 308.5 L635.15 309 L635.27 309.5 L635.4 310 L635.52 310.5 L635.65 311 L635.77 311.5 L635.9 312 L636.02 312.5 L636.15 313 L636.26 313.5 L636.37 314 L636.47 314.5 L636.56 315 L636.66 315.5 L636.75 316 L636.84 316.5 L636.94 317 L637.03 317.5 L637.12 318 L637.22 318.5 L637.31 319 L637.4 319.5 L637.48 320 L637.55 320.5 L637.62 321 L637.67 321.5 L637.73 322 L637.79 322.5 L637.85 323 L637.91 323.5 L637.97 324 L638.02 324.5 L638.08 325 L638.14 325.5 L638.18 326 L638.2 326.5 L638.21 327 L638.22 327.5 L638.23 328 L638.24 328.5 L638.24 329 L638.25 329.5 L638.26 330 L638.26 330.5 L638.27 331 L638.28 331.5 L638.29 332 L638.29 332.5 L638.3 333 L638.31 333.5 L638.31 334 L638.32 334.5 L638.33 335 L638.34 335.5 L638.34 336 L638.35 336.5 L638.36 337 L638.36 337.5 L638.37 338 L638.38 338.5 L638.39 339 L638.39 339.5 L638.4 340 L638.4 340.5 L638.4 341 L638.4 341.5 L638.41 342 L638.41 342.5 L638.41 343 L638.41 343.5 L638.41 344 L638.41 344.5 L638.41 345 L638.41 345.5 L638.42 346 L638.42 346.5 L638.42 347 L638.42 347.5 L638.42 348 L638.42 348.5 L638.42 349 L638.43 349.5 L638.43 350 L638.43 350.5 L638.43 351 L638.43 351.5 L638.43 352 L638.43 352.5 L638.44 353 L638.44 353.5 L638.44 354 L638.44 354.5 L638.44 355 L638.44 355.5 L638.44 356 L638.44 356.5 L638.45 357 L638.45 357.5 L638.45 358 L638.45 358.5 L638.45 359 L638.45 359.5 L638.45 360 L638.46 360.5 L638.46 361 L638.46 361.5 L638.46 362 L638.46 362.5 L638.46 363 L638.46 363.5 L638.46 364 L638.47 364.5 L638.47 365 L638.47 365.5 L638.47 366 L638.47 366.5 L638.47 367 L638.47 367.5 L638.48 368 L638.48 368.5 L638.48 369 L638.48 369.5 L638.48 370 L638.48 370.5 L638.48 371 L638.49 371.5 L638.49 372 L638.49 372.5 L638.49 373 L638.49 373.5 L638.49 374 L638.49 374.5 L638.49 375 L638.5 375.5 L638.5 376 L638.5 376.5 L638.5 377 L639.1 377 L639.1 376.5 L639.1 376 L639.1 375.5 L639.11 375 L639.11 374.5 L639.11 374 L639.11 373.5 L639.11 373 L639.11 372.5 L639.11 372 L639.11 371.5 L639.12 371 L639.12 370.5 L639.12 370 L639.12 369.5 L639.12 369 L639.12 368.5 L639.12 368 L639.13 367.5 L639.13 367 L639.13 366.5 L639.13 366 L639.13 365.5 L639.13 365 L639.13 364.5 L639.14 364 L639.14 363.5 L639.14 363 L639.14 362.5 L639.14 362 L639.14 361.5 L639.14 361 L639.14 360.5 L639.15 360 L639.15 359.5 L639.15 359 L639.15 358.5 L639.15 358 L639.15 357.5 L639.15 357 L639.16 356.5 L639.16 356 L639.16 355.5 L639.16 355 L639.16 354.5 L639.16 354 L639.16 353.5 L639.16 353 L639.17 352.5 L639.17 352 L639.17 351.5 L639.17 351 L639.17 350.5 L639.17 350 L639.17 349.5 L639.18 349 L639.18 348.5 L639.18 348 L639.18 347.5 L639.18 347 L639.18 346.5 L639.18 346 L639.19 345.5 L639.19 345 L639.19 344.5 L639.19 344 L639.19 343.5 L639.19 343 L639.19 342.5 L639.19 342 L639.2 341.5 L639.2 341 L639.2 340.5 L639.2 340 L639.21 339.5 L639.21 339 L639.22 338.5 L639.23 338 L639.24 337.5 L639.24 337 L639.25 336.5 L639.26 336 L639.26 335.5 L639.27 335 L639.28 334.5 L639.29 334 L639.29 333.5 L639.3 333 L639.31 332.5 L639.31 332 L639.32 331.5 L639.33 331 L639.34 330.5 L639.34 330 L639.35 329.5 L639.36 329 L639.36 328.5 L639.37 328 L639.38 327.5 L639.39 327 L639.4 326.5 L639.42 326 L639.46 325.5 L639.52 325 L639.57 324.5 L639.63 324 L639.69 323.5 L639.75 323 L639.81 322.5 L639.87 322 L639.92 321.5 L639.98 321 L640.05 320.5 L640.12 320 L640.2 319.5 L640.29 319 L640.38 318.5 L640.47 318 L640.57 317.5 L640.66 317 L640.76 316.5 L640.85 316 L640.94 315.5 L641.04 315 L641.13 314.5 L641.23 314 L641.34 313.5 L641.45 313 L641.58 312.5 L641.7 312 L641.82 311.5 L641.95 311 L642.07 310.5 L642.2 310 L642.32 309.5 L642.45 309 L642.57 308.5 L642.7 308 L642.82 307.5 L642.95 307 L643.09 306.5 L643.25 306 L643.45 305.5 L643.67 305 L643.91 304.5 L644.14 304 L644.38 303.5 L644.62 303 L644.85 302.5 L645.09 302 L645.33 301.5 L645.57 301 L645.83 300.5 L646.11 300 L646.39 299.5 L646.68 299 L646.96 298.5 L647.25 298 L647.54 297.5 L647.83 297 L648.11 296.5 L648.41 296 L648.7 295.5 L649 295 L649.3 294.5 L649.6 294 L649.9 293.5 L650.2 293 L650.5 292.5 L650.8 292 L651.09 291.5 L651.36 291 L651.6 290.5 L651.82 290 L652.04 289.5 L652.25 289 L652.46 288.5 L652.68 288 L652.89 287.5 L653.09 287 L653.25 286.5 L653.35 286 L653.4 285.5 L653.42 285 L653.43 284.5 L653.44 284 L653.45 283.5 L653.46 283 L653.47 282.5 L653.48 282 L653.48 281.5 L653.46 281 L653.42 280.5 L653.36 280 L653.29 279.5 L653.22 279 L653.15 278.5 L653.08 278 L653.01 277.5 L652.94 277 L652.86 276.5 L652.76 276 L652.63 275.5 L652.47 275 L652.31 274.5 L652.15 274 L651.98 273.5 L651.82 273 L651.66 272.5 L651.49 272 L651.29 271.5 L651.07 271 L650.83 270.5 L650.57 270 L650.31 269.5 L650.05 269 L649.78 268.5 L649.52 268 L649.26 267.5 L648.98 267 L648.7 266.5 L648.4 266 L648.1 265.5 L647.8 265 L647.5 264.5 L647.2 264 L646.9 263.5 L646.6 263 L646.3 262.5 L646.01 262 L645.73 261.5 L645.45 261 L645.17 260.5 L644.89 260 L644.62 259.5 L644.34 259 L644.06 258.5 L643.79 258 L643.53 257.5 L643.29 257 L643.07 256.5 L642.86 256 L642.65 255.5 L642.44 255 L642.23 254.5 L642.02 254 L641.82 253.5 L641.63 253 L641.47 252.5 L641.32 252 L641.18 251.5 L641.04 251 L640.9 250.5 L640.76 250 L640.62 249.5 L640.48 249 L640.35 248.5 L640.24 248 L640.15 247.5 L640.09 247 L640.03 246.5 L639.97 246 L639.91 245.5 L639.86 245 L639.8 244.5 L639.74 244 L639.69 243.5 L639.63 243 L639.57 242.5 L639.51 242 L639.46 241.5 L639.42 241 L639.38 240.5 L639.36 240 L639.33 239.5 L639.31 239 L639.29 238.5 L639.27 238 L639.24 237.5 L639.22 237 L639.2 236.5 L639.18 236 L639.16 235.5 L639.13 235 L639.11 234.5 L639.09 234 L639.07 233.5 L639.04 233 L639.02 232.5 L639 232 Z" fill="#000" fill-opacity="0.5"/>
<path d="M686.3 234 L686.28 234.5 L686.26 235 L686.23 235.5 L686.21 236 L686.19 236.5 L686.17 237 L686.14 237.5 L686.12 238 L686.1 238.5 L686.08 239 L686.06 239.5 L686.03 240 L686.01 240.5 L685.99 241 L685.97 241.5 L685.94 242 L685.92 242.5 L685.88 243 L685.83 243.5 L685.77 244 L685.7 244.5 L685.63 245 L685.57 245.5 L685.5 246 L685.43 246.5 L685.37 247 L685.3 247.5 L685.23 248 L685.16 248.5 L685.08 249 L685 249.5 L684.9 250 L684.8 250.5 L684.7 251 L684.58 251.5 L684.42 252 L684.22 252.5 L683.97 253 L683.71 253.5 L683.44 254 L683.18 254.5 L682.92 255 L682.65 255.5 L682.39 256 L682.12 256.5 L681.83 257 L681.51 257.5 L681.16 258 L680.79 258.5 L680.41 259 L680.04 259.5 L679.66 260 L679.27 260.5 L678.88 261 L678.48 261.5 L678.07 262 L677.66 262.5 L677.25 263 L676.84 263.5 L676.43 264 L676.03 264.5 L675.67 265 L675.36 265.5 L675.08 266 L674.81 266.5 L674.55 267 L674.29 267.5 L674.03 268 L673.78 268.5 L673.56 269 L673.39 269.5 L673.24 270 L673.11 270.5 L672.98 271 L672.85 271.5 L672.72 272 L672.59 272.5 L672.46 273 L672.35 273.5 L672.27 274 L672.23 274.5 L672.22 275 L672.23 275.5 L672.24 276 L672.25 276.5 L672.26 277 L672.27 277.5 L672.28 278 L672.31 278.5 L672.39 279 L672.52 279.5 L672.7 280 L672.9 280.5 L673.1 281 L673.3 281.5 L673.5 282 L673.7 282.5 L673.92 283 L674.14 283.5 L674.37 284 L674.6 284.5 L674.84 285 L675.07 285.5 L675.31 286 L675.54 286.5 L675.78 287 L676.02 287.5 L676.28 288 L676.55 288.5 L676.83 289 L677.11 289.5 L677.39 290 L677.68 290.5 L677.96 291 L678.25 291.5 L678.53 292 L678.81 292.5 L679.08 293 L679.35 293.5 L679.6 294 L679.85 294.5 L680.1 295 L680.35 295.5 L680.6 296 L680.84 296.5 L681.08 297 L681.3 297.5 L681.5 298 L681.71 298.5 L681.91 299 L682.11 299.5 L682.31 300 L682.5 300.5 L682.69 301 L682.85 301.5 L683.02 302 L683.18 302.5 L683.34 303 L683.5 303.5 L683.66 304 L683.82 304.5 L683.98 305 L684.13 305.5 L684.26 306 L684.37 306.5 L684.46 307 L684.54 307.5 L684.62 308 L684.69 308.5 L684.77 309 L684.85 309.5 L684.93 310 L685.01 310.5 L685.09 311 L685.17 311.5 L685.25 312 L685.33 312.5 L685.4 313 L685.47 313.5 L685.53 314 L685.58 314.5 L685.62 315 L685.66 315.5 L685.71 316 L685.75 316.5 L685.79 317 L685.84 317.5 L685.88 318 L685.92 318.5 L685.96 319 L686 319.5 L686.03 320 L686.05 320.5 L686.06 321 L686.06 321.5 L686.06 322 L686.06 322.5 L686.07 323 L686.07 323.5 L686.07 324 L686.08 324.5 L686.08 325 L686.08 325.5 L686.08 326 L686.09 326.5 L686.09 327 L686.09 327.5 L686.1 328 L686.1 328.5 L686.1 329 L686.1 329.5 L686.11 330 L686.11 330.5 L686.11 331 L686.12 331.5 L686.12 332 L686.12 332.5 L686.12 333 L686.13 333.5 L686.13 334 L686.13 334.5 L686.13 335 L686.14 335.5 L686.14 336 L686.14 336.5 L686.15 337 L686.15 337.5 L686.15 338 L686.15 338.5 L686.16 339 L686.16 339.5 L686.16 340 L686.17 340.5 L686.17 341 L686.17 341.5 L686.17 342 L686.18 342.5 L686.18 343 L686.18 343.5 L686.19 344 L686.19 344.5 L686.19 345 L686.19 345.5 L686.2 346 L686.2 346.5 L686.8 346.5 L686.8 346 L686.81 345.5 L686.81 345 L686.81 344.5 L686.81 344 L686.82 343.5 L686.82 343 L686.82 342.5 L686.83 342 L686.83 341.5 L686.83 341 L686.83 340.5 L686.84 340 L686.84 339.5 L686.84 339 L686.85 338.5 L686.85 338 L686.85 337.5 L686.85 337 L686.86 336.5 L686.86 336 L686.86 335.5 L686.87 335 L686.87 334.5 L686.87 334 L686.87 333.5 L686.88 333 L686.88 332.5 L686.88 332 L686.88 331.5 L686.89 331 L686.89 330.5 L686.89 330 L686.9 329.5 L686.9 329 L686.9 328.5 L686.9 328 L686.91 327.5 L686.91 327 L686.91 326.5 L686.92 326 L686.92 325.5 L686.92 325 L686.92 324.5 L686.93 324 L686.93 323.5 L686.93 323 L686.94 322.5 L686.94 322 L686.94 321.5 L686.94 321 L686.95 320.5 L686.97 320 L687 319.5 L687.04 319 L687.08 318.5 L687.12 318 L687.16 317.5 L687.21 317 L687.25 316.5 L687.29 316 L687.34 315.5 L687.38 315 L687.42 314.5 L687.47 314 L687.53 313.5 L687.6 313 L687.67 312.5 L687.75 312 L687.83 311.5 L687.91 311 L687.99 310.5 L688.07 310 L688.15 309.5 L688.23 309 L688.31 308.5 L688.38 308 L688.46 307.5 L688.54 307 L688.63 306.5 L688.74 306 L688.87 305.5 L689.02 305 L689.18 304.5 L689.34 304 L689.5 303.5 L689.66 303 L689.82 302.5 L689.98 302 L690.15 301.5 L690.31 301 L690.5 300.5 L690.69 300 L690.89 299.5 L691.09 299 L691.29 298.5 L691.5 298 L691.7 297.5 L691.92 297 L692.16 296.5 L692.4 296 L692.65 295.5 L692.9 295 L693.15 294.5 L693.4 294 L693.65 293.5 L693.92 293 L694.19 292.5 L694.47 292 L694.75 291.5 L695.04 291 L695.32 290.5 L695.61 290 L695.89 289.5 L696.17 289 L696.45 288.5 L696.72 288 L696.98 287.5 L697.22 287 L697.46 286.5 L697.69 286 L697.93 285.5 L698.16 285 L698.4 284.5 L698.63 284 L698.86 283.5 L699.08 283 L699.3 282.5 L699.5 282 L699.7 281.5 L699.9 281 L700.1 280.5 L700.3 280 L700.48 279.5 L700.61 279 L700.69 278.5 L700.72 278 L700.73 277.5 L700.74 277 L700.75 276.5 L700.76 276 L700.77 275.5 L700.78 275 L700.77 274.5 L700.73 274 L700.65 273.5 L700.54 273 L700.41 272.5 L700.28 272 L700.15 271.5 L700.02 271 L699.89 270.5 L699.76 270 L699.61 269.5 L699.44 269 L699.22 268.5 L698.97 268 L698.71 267.5 L698.45 267 L698.19 266.5 L697.92 266 L697.64 265.5 L697.33 265 L696.97 264.5 L696.57 264 L696.16 263.5 L695.75 263 L695.34 262.5 L694.93 262 L694.52 261.5 L694.12 261 L693.73 260.5 L693.34 260 L692.96 259.5 L692.59 259 L692.21 258.5 L691.84 258 L691.49 257.5 L691.17 257 L690.88 256.5 L690.61 256 L690.35 255.5 L690.08 255 L689.82 254.5 L689.56 254 L689.29 253.5 L689.03 253 L688.78 252.5 L688.58 252 L688.42 251.5 L688.3 251 L688.2 250.5 L688.1 250 L688 249.5 L687.92 249 L687.84 248.5 L687.77 248 L687.7 247.5 L687.63 247 L687.57 246.5 L687.5 246 L687.43 245.5 L687.37 245 L687.3 244.5 L687.23 244 L687.17 243.5 L687.12 243 L687.08 242.5 L687.06 242 L687.03 241.5 L687.01 241 L686.99 240.5 L686.97 240 L686.94 239.5 L686.92 239 L686.9 238.5 L686.88 238 L686.86 237.5 L686.83 237 L686.81 236.5 L686.79 236 L686.77 235.5 L686.74 235 L686.72 234.5 L686.7 234 Z" fill="#000" fill-opacity="0.5"/>
<path d="M578.2 294.6 H602.8" stroke="#000" stroke-width="1.9"/>
<path d="M624.2 286.3 H653.8" stroke="#000" stroke-width="1.9"/>
<path d="M672.2 279 H700.8" stroke="#000" stroke-width="1.9"/>
<rect x="731" y="192.7" width="18.6" height="88.5" fill="#c6c6c6"/>
<rect x="744.2" y="192.7" width="18.6" height="93.6" fill="#000"/>
<path d="M740 277.3 V285.4 M738.2 277.3 h3.6 M738.2 285.4 h3.6" stroke="#111" stroke-width="0.9" fill="none"/>
<path d="M753.5 286.3 V292.3 M751.4 292.3 h4.2" stroke="#111" stroke-width="0.9" fill="none"/>
<path d="M740 292.3 V303.7 H753.5 V299.2" stroke="#111" stroke-width="0.9" fill="none"/>
<circle cx="746.9" cy="315.3" r="1.2" fill="#111"/>
<path d="M778 192.7 H544.4 V395.5 H778" stroke="#222" stroke-width="0.95" fill="none"/>
<text x="540" y="214.6" text-anchor="end" font-family='"Liberation Serif", serif' font-size="11.5" fill="#111" stroke="#111" stroke-width="0.22">-1</text>
<text x="540" y="260.73" text-anchor="end" font-family='"Liberation Serif", serif' font-size="11.5" fill="#111" stroke="#111" stroke-width="0.22">-1.5</text>
<text x="540" y="306.85" text-anchor="end" font-family='"Liberation Serif", serif' font-size="11.5" fill="#111" stroke="#111" stroke-width="0.22">-2</text>
<text x="540" y="352.98" text-anchor="end" font-family='"Liberation Serif", serif' font-size="11.5" fill="#111" stroke="#111" stroke-width="0.22">-2.5</text>
<text x="540" y="399.1" text-anchor="end" font-family='"Liberation Serif", serif' font-size="11.5" fill="#111" stroke="#111" stroke-width="0.22">-3</text>
<path d="M580.7 395.5 v-3" stroke="#222" stroke-width="0.9"/>
<path d="M629.4 395.5 v-3" stroke="#222" stroke-width="0.9"/>
<path d="M676.6 395.5 v-3" stroke="#222" stroke-width="0.9"/>
<path d="M747.1 395.5 v-3" stroke="#222" stroke-width="0.9"/>
<text transform="translate(521.2 294.8) rotate(-90)" text-anchor="middle" font-family='"Liberation Serif", serif' font-size="12.6" fill="#111" stroke="#111" stroke-width="0.22" textLength="63.4" lengthAdjust="spacingAndGlyphs">Smoothness</text>
<rect x="558.8" y="198.4" width="19" height="10.6" fill="#c6c6c6"/>
<rect x="558.8" y="213.0" width="19" height="10.6" fill="#000"/>
<text x="580" y="207.4" font-family='"Liberation Serif", serif' font-size="11.9" fill="#111" stroke="#111" stroke-width="0.22" textLength="57.8" lengthAdjust="spacingAndGlyphs">Unpowered</text>
<text x="580" y="222" font-family='"Liberation Serif", serif' font-size="11.9" fill="#111" stroke="#111" stroke-width="0.22" textLength="42.8" lengthAdjust="spacingAndGlyphs">Powered</text>
<text transform="translate(597.6 405) rotate(-45)" text-anchor="end" font-family='"Liberation Serif", serif' font-size="11" fill="#111" stroke="#111" stroke-width="0.22" textLength="43" lengthAdjust="spacingAndGlyphs">42 deg/s</text>
<text transform="translate(647 405) rotate(-45)" text-anchor="end" font-family='"Liberation Serif", serif' font-size="11" fill="#111" stroke="#111" stroke-width="0.22" textLength="43" lengthAdjust="spacingAndGlyphs">84 deg/s</text>
<text transform="translate(696 405) rotate(-45)" text-anchor="end" font-family='"Liberation Serif", serif' font-size="11" fill="#111" stroke="#111" stroke-width="0.22" textLength="49" lengthAdjust="spacingAndGlyphs">126 deg/s</text>
<text transform="translate(760.4 405) rotate(-45)" text-anchor="end" font-family='"Liberation Serif", serif' font-size="11" fill="#111" stroke="#111" stroke-width="0.22" textLength="36.5" lengthAdjust="spacingAndGlyphs">Overall</text>
<text x="647" y="462.4" text-anchor="middle" font-family='"Liberation Sans", sans-serif' font-weight="bold" font-size="20" fill="#111">(d)</text>
</g>
</svg>
</body>
</html>
